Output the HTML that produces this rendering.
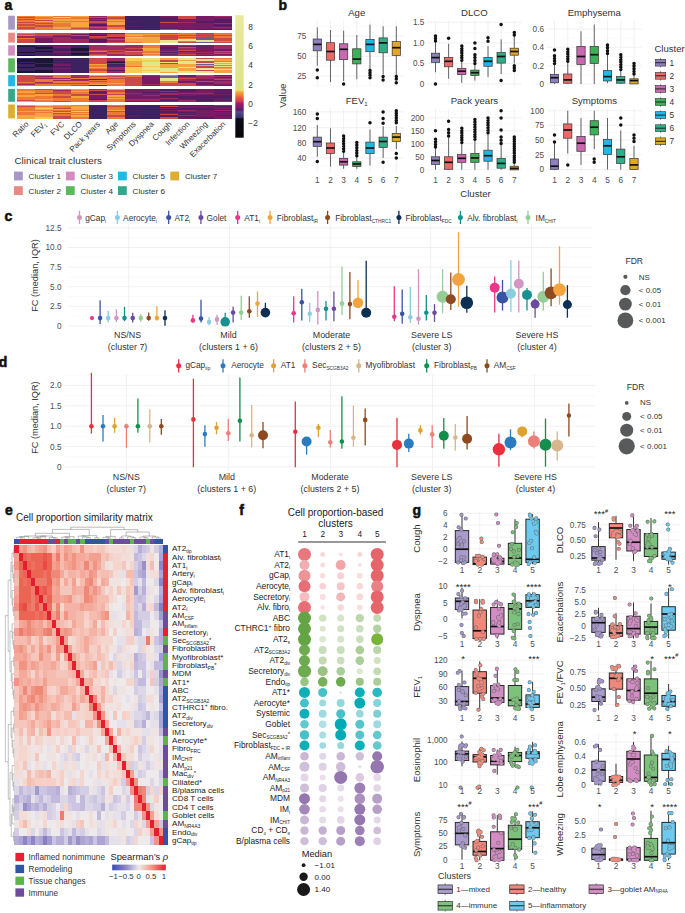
<!DOCTYPE html>
<html><head><meta charset="utf-8"><title>Figure</title>
<style>
html,body{margin:0;padding:0;background:#fff;}
body{width:685px;height:913px;overflow:hidden;}
svg{display:block;font-family:"Liberation Sans",sans-serif;}
</style></head><body>
<svg width="685" height="913" viewBox="0 0 685 913">
<rect width="685" height="913" fill="#fff"/>
<g fill="#333">
<text x="4.5" y="10.3" font-size="14" fill="#111" font-weight="bold" stroke="#111" stroke-width="0.55">a</text>
<rect x="8.2" y="15.7" width="6.7" height="14" fill="#a898c8"/>
<rect x="8.2" y="32.7" width="6.7" height="9.9" fill="#e88a84"/>
<rect x="8.2" y="45.3" width="6.7" height="10.3" fill="#d48cc0"/>
<rect x="8.2" y="58.3" width="6.7" height="14.1" fill="#5cb85c"/>
<rect x="8.2" y="75.1" width="6.7" height="11.2" fill="#20b8e6"/>
<rect x="8.2" y="88.9" width="6.7" height="12.9" fill="#33a98c"/>
<rect x="8.2" y="104.5" width="6.7" height="13.9" fill="#dcb02e"/>
<defs><filter id="hb" x="-0.01" y="-0.05" width="1.02" height="1.1"><feGaussianBlur stdDeviation="0.15 0.45"/></filter></defs><g filter="url(#hb)">
<path fill="#ec7a36" shape-rendering="crispEdges" d="M17.1 15.7h18v1.2h-18zM17.1 17.9h18v1.2h-18zM17.1 20h18v2.3h-18zM17.1 23.2h18v1.2h-18zM17.1 25.4h18v1.2h-18zM17.1 28.6h18v1.2h-18zM35 16.8h18v2.3h-18zM35 22.2h18v1.2h-18zM35 24.3h18v1.2h-18zM35 26.5h18v3.3h-18zM52.9 15.7h18v1.2h-18zM52.9 17.9h18v1.2h-18zM52.9 21.1h18v1.2h-18zM52.9 23.2h18v3.3h-18zM52.9 28.6h18v1.2h-18zM70.8 16.8h18v2.3h-18zM70.8 21.1h18v1.2h-18zM70.8 26.5h18v1.2h-18zM70.8 28.6h18v1.2h-18zM106.6 15.7h18v1.2h-18zM106.6 18.9h18v1.2h-18zM106.6 21.1h18v1.2h-18zM106.6 26.5h18v2.3h-18zM17.1 32.7h18v1.2h-18zM17.1 34.9h18v1.2h-18zM17.1 38.2h18v1.2h-18zM124.5 32.7h18v1.2h-18zM124.5 36h18v1.2h-18zM124.5 41.5h18v1.2h-18zM142.4 32.7h18v1.2h-18zM142.4 34.9h18v2.3h-18zM160.3 33.8h18v1.2h-18zM178.2 32.7h18v2.3h-18zM178.2 36h18v1.2h-18zM178.2 38.2h18v1.2h-18zM178.2 40.4h18v1.2h-18zM214 32.7h18v2.3h-18zM214 36h18v2.3h-18zM214 40.4h18v1.2h-18zM88.7 50.5h18v1.1h-18zM88.7 54.6h18v1.1h-18zM124.5 48.4h18v1.1h-18zM124.5 50.5h18v1.1h-18zM142.4 45.3h18v3.2h-18zM142.4 50.5h18v2.2h-18zM142.4 53.5h18v1.1h-18zM88.7 64.8h18v2.3h-18zM88.7 68.1h18v1.2h-18zM88.7 71.3h18v1.2h-18zM124.5 65.9h18v1.2h-18zM214 58.3h18v1.2h-18zM214 60.5h18v1.2h-18zM214 64.8h18v1.2h-18zM214 67h18v1.2h-18zM17.1 82.2h18v1.1h-18zM17.1 85.3h18v1.1h-18zM35 75.1h18v1.1h-18zM35 79.2h18v3.2h-18zM35 84.3h18v2.1h-18zM52.9 75.1h18v3.2h-18zM52.9 79.2h18v1.1h-18zM52.9 81.2h18v2.1h-18zM52.9 84.3h18v2.1h-18zM70.8 78.2h18v1.1h-18zM70.8 81.2h18v2.1h-18zM70.8 84.3h18v1.1h-18zM88.7 77.1h18v2.1h-18zM88.7 80.2h18v1.1h-18zM88.7 82.2h18v2.1h-18zM106.6 75.1h18v1.1h-18zM106.6 77.1h18v1.1h-18zM106.6 79.2h18v4.2h-18zM106.6 84.3h18v2.1h-18zM124.5 75.1h18v2.1h-18zM160.3 75.1h18v1.1h-18zM160.3 81.2h18v2.1h-18zM17.1 88.9h18v2.2h-18zM17.1 93.2h18v2.2h-18zM17.1 96.4h18v3.3h-18zM35 90h18v3.3h-18zM35 95.3h18v3.3h-18zM35 99.7h18v2.2h-18zM52.9 88.9h18v1.2h-18zM52.9 94.3h18v2.2h-18zM52.9 97.5h18v3.3h-18zM70.8 90h18v1.2h-18zM70.8 92.1h18v2.2h-18zM70.8 95.3h18v1.2h-18zM70.8 97.5h18v4.4h-18zM106.6 92.1h18v2.2h-18zM106.6 96.4h18v1.2h-18zM106.6 98.6h18v3.3h-18zM17.1 106.6h18v4.4h-18zM17.1 112h18v3.3h-18zM35 105.6h18v1.2h-18zM35 109.8h18v1.2h-18zM35 112h18v1.2h-18zM52.9 105.6h18v2.2h-18zM52.9 109.8h18v1.2h-18zM52.9 114.1h18v2.2h-18zM70.8 104.5h18v1.2h-18zM70.8 109.8h18v1.2h-18zM70.8 112h18v1.2h-18zM70.8 114.1h18v1.2h-18zM70.8 117.3h18v1.2h-18zM106.6 104.5h18v1.2h-18zM106.6 106.6h18v3.3h-18zM106.6 112h18v3.3h-18zM106.6 117.3h18v1.2h-18z"/>
<path fill="#cc4a4a" shape-rendering="crispEdges" d="M17.1 16.8h18v1.2h-18zM17.1 18.9h18v1.2h-18zM17.1 22.2h18v1.2h-18zM17.1 24.3h18v1.2h-18zM17.1 26.5h18v2.3h-18zM35 20h18v1.2h-18zM35 23.2h18v1.2h-18zM35 25.4h18v1.2h-18zM70.8 24.3h18v1.2h-18zM70.8 27.5h18v1.2h-18zM88.7 16.8h18v1.2h-18zM88.7 21.1h18v2.3h-18zM88.7 26.5h18v1.2h-18zM106.6 16.8h18v2.3h-18zM106.6 24.3h18v2.3h-18zM160.3 22.2h18v1.2h-18zM160.3 28.6h18v1.2h-18zM178.2 15.7h18v3.3h-18zM17.1 33.8h18v1.2h-18zM17.1 39.3h18v3.4h-18zM35 32.7h18v3.4h-18zM52.9 32.7h18v2.3h-18zM70.8 32.7h18v1.2h-18zM70.8 34.9h18v1.2h-18zM88.7 36h18v1.2h-18zM106.6 33.8h18v3.4h-18zM106.6 39.3h18v1.2h-18zM106.6 41.5h18v1.2h-18zM160.3 32.7h18v1.2h-18zM160.3 36h18v1.2h-18zM160.3 38.2h18v2.3h-18zM178.2 34.9h18v1.2h-18zM178.2 37.1h18v1.2h-18zM178.2 41.5h18v1.2h-18zM196.1 33.8h18v1.2h-18zM196.1 36h18v1.2h-18zM214 34.9h18v1.2h-18zM214 38.2h18v2.3h-18zM214 41.5h18v1.2h-18zM88.7 47.4h18v1.1h-18zM88.7 49.4h18v1.1h-18zM88.7 53.5h18v1.1h-18zM106.6 45.3h18v1.1h-18zM106.6 49.4h18v1.1h-18zM106.6 51.5h18v2.2h-18zM124.5 47.4h18v1.1h-18zM124.5 51.5h18v3.2h-18zM178.2 47.4h18v1.1h-18zM178.2 49.4h18v1.1h-18zM178.2 53.5h18v1.1h-18zM214 50.5h18v1.1h-18zM214 52.5h18v1.1h-18zM88.7 58.3h18v5.5h-18zM88.7 69.1h18v2.3h-18zM160.3 59.4h18v1.2h-18zM196.1 58.3h18v1.2h-18zM196.1 60.5h18v2.3h-18zM196.1 65.9h18v1.2h-18zM196.1 70.2h18v1.2h-18zM17.1 75.1h18v7.2h-18zM17.1 83.2h18v1.1h-18zM35 77.1h18v1.1h-18zM35 83.2h18v1.1h-18zM52.9 83.2h18v1.1h-18zM70.8 83.2h18v1.1h-18zM70.8 85.3h18v1.1h-18zM88.7 76.1h18v1.1h-18zM88.7 81.2h18v1.1h-18zM106.6 76.1h18v1.1h-18zM106.6 78.2h18v1.1h-18zM124.5 77.1h18v9.3h-18zM160.3 77.1h18v1.1h-18zM160.3 83.2h18v3.2h-18zM178.2 78.2h18v1.1h-18zM178.2 83.2h18v3.2h-18zM196.1 75.1h18v1.1h-18zM196.1 81.2h18v1.1h-18zM214 79.2h18v1.1h-18zM17.1 99.7h18v1.2h-18zM35 88.9h18v1.2h-18zM35 93.2h18v1.2h-18zM52.9 91.1h18v3.3h-18zM52.9 96.4h18v1.2h-18zM52.9 100.7h18v1.2h-18zM70.8 94.3h18v1.2h-18zM88.7 90h18v1.2h-18zM88.7 94.3h18v1.2h-18zM88.7 99.7h18v2.2h-18zM106.6 90h18v2.2h-18zM106.6 94.3h18v1.2h-18zM17.1 105.6h18v1.2h-18zM52.9 107.7h18v1.2h-18zM52.9 110.9h18v1.2h-18zM52.9 113.1h18v1.2h-18zM52.9 116.3h18v2.2h-18zM106.6 105.6h18v1.2h-18zM106.6 110.9h18v1.2h-18zM106.6 115.2h18v2.2h-18zM160.3 105.6h18v1.2h-18zM160.3 114.1h18v1.2h-18zM160.3 117.3h18v1.2h-18z"/>
<path fill="#f4a440" shape-rendering="crispEdges" d="M35 15.7h18v1.2h-18zM35 18.9h18v1.2h-18zM35 21.1h18v1.2h-18zM52.9 18.9h18v2.3h-18zM52.9 22.2h18v1.2h-18zM52.9 26.5h18v2.3h-18zM70.8 15.7h18v1.2h-18zM70.8 18.9h18v2.3h-18zM70.8 22.2h18v2.3h-18zM70.8 25.4h18v1.2h-18zM106.6 20h18v1.2h-18zM106.6 22.2h18v2.3h-18zM106.6 28.6h18v1.2h-18zM124.5 33.8h18v2.3h-18zM124.5 38.2h18v3.4h-18zM142.4 33.8h18v1.2h-18zM142.4 37.1h18v5.6h-18zM142.4 48.4h18v2.2h-18zM142.4 52.5h18v1.1h-18zM142.4 54.6h18v1.1h-18zM88.7 63.7h18v1.2h-18zM88.7 67h18v1.2h-18zM124.5 60.5h18v5.5h-18zM160.3 58.3h18v1.2h-18zM160.3 63.7h18v4.4h-18zM160.3 71.3h18v1.2h-18zM178.2 59.4h18v1.2h-18zM178.2 63.7h18v3.4h-18zM178.2 68.1h18v3.4h-18zM196.1 64.8h18v1.2h-18zM214 59.4h18v1.2h-18zM214 62.6h18v1.2h-18zM214 68.1h18v1.2h-18zM214 70.2h18v2.3h-18zM88.7 75.1h18v1.1h-18zM88.7 84.3h18v1.1h-18zM106.6 83.2h18v1.1h-18zM17.1 91.1h18v2.2h-18zM17.1 95.3h18v1.2h-18zM17.1 100.7h18v1.2h-18zM35 94.3h18v1.2h-18zM35 98.6h18v1.2h-18zM70.8 88.9h18v1.2h-18zM70.8 91.1h18v1.2h-18zM70.8 96.4h18v1.2h-18zM106.6 88.9h18v1.2h-18zM106.6 95.3h18v1.2h-18zM106.6 97.5h18v1.2h-18zM17.1 104.5h18v1.2h-18zM17.1 110.9h18v1.2h-18zM17.1 115.2h18v3.3h-18zM35 106.6h18v1.2h-18zM35 108.8h18v1.2h-18zM35 110.9h18v1.2h-18zM35 113.1h18v4.4h-18zM52.9 104.5h18v1.2h-18zM52.9 108.8h18v1.2h-18zM52.9 112h18v1.2h-18zM70.8 105.6h18v4.4h-18zM70.8 113.1h18v1.2h-18zM70.8 115.2h18v2.2h-18zM106.6 109.8h18v1.2h-18z"/>
<path fill="#f6cc52" shape-rendering="crispEdges" d="M52.9 16.8h18v1.2h-18zM124.5 37.1h18v1.2h-18zM124.5 58.3h18v2.3h-18zM124.5 67h18v5.5h-18zM142.4 59.4h18v2.3h-18zM142.4 65.9h18v1.2h-18zM142.4 70.2h18v1.2h-18zM35 104.5h18v1.2h-18zM35 107.7h18v1.2h-18zM35 117.3h18v1.2h-18zM70.8 110.9h18v1.2h-18z"/>
<path fill="#a02a5e" shape-rendering="crispEdges" d="M88.7 15.7h18v1.2h-18zM88.7 18.9h18v1.2h-18zM88.7 23.2h18v1.2h-18zM88.7 25.4h18v1.2h-18zM88.7 27.5h18v2.3h-18zM178.2 22.2h18v1.2h-18zM214 15.7h18v1.2h-18zM214 23.2h18v1.2h-18zM214 26.5h18v1.2h-18zM17.1 36h18v2.3h-18zM35 36h18v2.3h-18zM52.9 34.9h18v1.2h-18zM52.9 37.1h18v5.6h-18zM70.8 39.3h18v3.4h-18zM88.7 38.2h18v1.2h-18zM106.6 38.2h18v1.2h-18zM106.6 40.4h18v1.2h-18zM88.7 45.3h18v2.2h-18zM88.7 48.4h18v1.1h-18zM88.7 51.5h18v2.2h-18zM106.6 46.3h18v3.2h-18zM106.6 50.5h18v1.1h-18zM106.6 53.5h18v2.2h-18zM124.5 45.3h18v2.2h-18zM124.5 49.4h18v1.1h-18zM124.5 54.6h18v1.1h-18zM160.3 50.5h18v1.1h-18zM160.3 52.5h18v1.1h-18zM160.3 54.6h18v1.1h-18zM178.2 45.3h18v1.1h-18zM178.2 48.4h18v1.1h-18zM178.2 51.5h18v2.2h-18zM178.2 54.6h18v1.1h-18zM196.1 51.5h18v1.1h-18zM196.1 53.5h18v1.1h-18zM214 45.3h18v4.2h-18zM214 51.5h18v1.1h-18zM214 54.6h18v1.1h-18zM106.6 58.3h18v2.3h-18zM106.6 62.6h18v1.2h-18zM106.6 67h18v3.4h-18zM106.6 71.3h18v1.2h-18zM17.1 84.3h18v1.1h-18zM35 76.1h18v1.1h-18zM35 78.2h18v1.1h-18zM35 82.2h18v1.1h-18zM52.9 78.2h18v1.1h-18zM52.9 80.2h18v1.1h-18zM70.8 75.1h18v3.2h-18zM70.8 79.2h18v2.1h-18zM142.4 75.1h18v1.1h-18zM142.4 84.3h18v1.1h-18zM178.2 77.1h18v1.1h-18zM178.2 79.2h18v2.1h-18zM196.1 76.1h18v3.2h-18zM196.1 85.3h18v1.1h-18zM214 76.1h18v1.1h-18zM214 78.2h18v1.1h-18zM214 81.2h18v3.2h-18zM52.9 90h18v1.2h-18zM88.7 88.9h18v1.2h-18zM124.5 93.2h18v1.2h-18zM124.5 95.3h18v1.2h-18zM124.5 98.6h18v2.2h-18zM142.4 95.3h18v1.2h-18zM142.4 98.6h18v2.2h-18zM160.3 91.1h18v1.2h-18zM160.3 93.2h18v2.2h-18zM160.3 97.5h18v1.2h-18zM160.3 100.7h18v1.2h-18zM178.2 93.2h18v1.2h-18zM178.2 95.3h18v1.2h-18zM178.2 99.7h18v2.2h-18zM196.1 93.2h18v1.2h-18zM214 100.7h18v1.2h-18zM178.2 109.8h18v1.2h-18zM178.2 115.2h18v1.2h-18zM214 104.5h18v1.2h-18zM214 109.8h18v1.2h-18z"/>
<path fill="#761c62" shape-rendering="crispEdges" d="M88.7 17.9h18v1.2h-18zM88.7 20h18v1.2h-18zM160.3 15.7h18v1.2h-18zM160.3 21.1h18v1.2h-18zM160.3 23.2h18v4.4h-18zM178.2 18.9h18v3.3h-18zM178.2 23.2h18v6.6h-18zM196.1 15.7h18v5.5h-18zM196.1 23.2h18v5.5h-18zM214 16.8h18v2.3h-18zM214 27.5h18v1.2h-18zM35 38.2h18v4.5h-18zM52.9 36h18v1.2h-18zM70.8 33.8h18v1.2h-18zM70.8 36h18v3.4h-18zM88.7 32.7h18v2.3h-18zM88.7 41.5h18v1.2h-18zM106.6 32.7h18v1.2h-18zM106.6 37.1h18v1.2h-18zM52.9 46.3h18v2.2h-18zM52.9 50.5h18v2.2h-18zM160.3 45.3h18v2.2h-18zM160.3 48.4h18v2.2h-18zM160.3 53.5h18v1.1h-18zM178.2 46.3h18v1.1h-18zM178.2 50.5h18v1.1h-18zM196.1 45.3h18v6.3h-18zM196.1 52.5h18v1.1h-18zM196.1 54.6h18v1.1h-18zM214 49.4h18v1.1h-18zM214 53.5h18v1.1h-18zM52.9 63.7h18v2.3h-18zM52.9 68.1h18v1.2h-18zM142.4 76.1h18v8.2h-18zM142.4 85.3h18v1.1h-18zM178.2 75.1h18v2.1h-18zM178.2 81.2h18v2.1h-18zM196.1 79.2h18v2.1h-18zM196.1 82.2h18v3.2h-18zM214 75.1h18v1.1h-18zM214 77.1h18v1.1h-18zM214 80.2h18v1.1h-18zM214 84.3h18v2.1h-18zM88.7 91.1h18v1.2h-18zM88.7 93.2h18v1.2h-18zM88.7 95.3h18v3.3h-18zM124.5 88.9h18v4.4h-18zM124.5 94.3h18v1.2h-18zM124.5 96.4h18v2.2h-18zM124.5 100.7h18v1.2h-18zM142.4 88.9h18v3.3h-18zM142.4 93.2h18v2.2h-18zM142.4 96.4h18v2.2h-18zM142.4 100.7h18v1.2h-18zM160.3 98.6h18v1.2h-18zM178.2 92.1h18v1.2h-18zM178.2 94.3h18v1.2h-18zM178.2 98.6h18v1.2h-18zM196.1 88.9h18v4.4h-18zM196.1 94.3h18v1.2h-18zM196.1 100.7h18v1.2h-18zM214 91.1h18v1.2h-18zM214 94.3h18v1.2h-18zM214 98.6h18v1.2h-18zM160.3 104.5h18v1.2h-18zM160.3 107.7h18v1.2h-18zM160.3 109.8h18v1.2h-18zM160.3 113.1h18v1.2h-18zM178.2 105.6h18v2.2h-18zM178.2 110.9h18v1.2h-18zM178.2 113.1h18v1.2h-18zM178.2 117.3h18v1.2h-18zM196.1 105.6h18v2.2h-18zM196.1 109.8h18v7.6h-18zM214 106.6h18v2.2h-18zM214 112h18v3.3h-18zM214 116.3h18v2.2h-18z"/>
<path fill="#561c64" shape-rendering="crispEdges" d="M88.7 24.3h18v1.2h-18zM124.5 21.1h18v1.2h-18zM124.5 25.4h18v1.2h-18zM124.5 28.6h18v1.2h-18zM160.3 16.8h18v4.4h-18zM160.3 27.5h18v1.2h-18zM196.1 21.1h18v2.3h-18zM196.1 28.6h18v1.2h-18zM214 18.9h18v4.4h-18zM214 24.3h18v2.3h-18zM214 28.6h18v1.2h-18zM88.7 34.9h18v1.2h-18zM88.7 39.3h18v2.3h-18zM35 45.3h18v1.1h-18zM35 54.6h18v1.1h-18zM52.9 48.4h18v1.1h-18zM52.9 52.5h18v2.2h-18zM70.8 50.5h18v1.1h-18zM160.3 47.4h18v1.1h-18zM160.3 51.5h18v1.1h-18zM52.9 58.3h18v1.2h-18zM52.9 60.5h18v1.2h-18zM52.9 62.6h18v1.2h-18zM52.9 67h18v1.2h-18zM52.9 69.1h18v3.4h-18zM106.6 60.5h18v1.2h-18zM106.6 64.8h18v2.3h-18zM106.6 70.2h18v1.2h-18zM88.7 79.2h18v1.1h-18zM88.7 85.3h18v1.1h-18zM88.7 92.1h18v1.2h-18zM88.7 98.6h18v1.2h-18zM142.4 92.1h18v1.2h-18zM160.3 88.9h18v2.2h-18zM160.3 92.1h18v1.2h-18zM160.3 95.3h18v2.2h-18zM160.3 99.7h18v1.2h-18zM178.2 88.9h18v3.3h-18zM178.2 96.4h18v2.2h-18zM196.1 95.3h18v5.5h-18zM214 88.9h18v2.2h-18zM214 92.1h18v2.2h-18zM214 95.3h18v3.3h-18zM214 99.7h18v1.2h-18zM88.7 104.5h18v1.2h-18zM124.5 105.6h18v1.2h-18zM124.5 109.8h18v1.2h-18zM124.5 115.2h18v2.2h-18zM160.3 106.6h18v1.2h-18zM160.3 108.8h18v1.2h-18zM160.3 110.9h18v2.2h-18zM160.3 115.2h18v2.2h-18zM178.2 104.5h18v1.2h-18zM178.2 107.7h18v2.2h-18zM178.2 112h18v1.2h-18zM178.2 114.1h18v1.2h-18zM178.2 116.3h18v1.2h-18zM196.1 104.5h18v1.2h-18zM196.1 107.7h18v2.2h-18zM196.1 117.3h18v1.2h-18zM214 105.6h18v1.2h-18zM214 108.8h18v1.2h-18zM214 110.9h18v1.2h-18zM214 115.2h18v1.2h-18z"/>
<path fill="#3c2462" shape-rendering="crispEdges" d="M124.5 15.7h18v5.5h-18zM124.5 22.2h18v3.3h-18zM124.5 26.5h18v2.3h-18zM142.4 15.7h18v14.1h-18zM17.1 45.3h18v1.1h-18zM17.1 47.4h18v4.2h-18zM17.1 52.5h18v2.2h-18zM35 46.3h18v1.1h-18zM35 48.4h18v2.2h-18zM35 51.5h18v3.2h-18zM52.9 45.3h18v1.1h-18zM52.9 49.4h18v1.1h-18zM52.9 54.6h18v1.1h-18zM70.8 45.3h18v3.2h-18zM70.8 51.5h18v1.1h-18zM70.8 54.6h18v1.1h-18zM17.1 58.3h18v1.2h-18zM17.1 61.6h18v1.2h-18zM17.1 63.7h18v3.4h-18zM17.1 68.1h18v3.4h-18zM35 62.6h18v1.2h-18zM35 67h18v3.4h-18zM52.9 59.4h18v1.2h-18zM52.9 61.6h18v1.2h-18zM52.9 65.9h18v1.2h-18zM70.8 58.3h18v14.2h-18zM106.6 63.7h18v1.2h-18zM88.7 105.6h18v12.9h-18zM124.5 104.5h18v1.2h-18zM124.5 106.6h18v3.3h-18zM124.5 110.9h18v4.4h-18zM124.5 117.3h18v1.2h-18zM142.4 104.5h18v14h-18z"/>
<path fill="#6e5c92" shape-rendering="crispEdges" d="M88.7 37.1h18v1.2h-18zM160.3 34.9h18v1.2h-18zM160.3 37.1h18v1.2h-18zM196.1 32.7h18v1.2h-18zM196.1 34.9h18v1.2h-18zM196.1 37.1h18v3.4h-18zM196.1 41.5h18v1.2h-18zM160.3 60.5h18v1.2h-18zM160.3 62.6h18v1.2h-18zM196.1 63.7h18v1.2h-18zM196.1 67h18v1.2h-18zM160.3 76.1h18v1.1h-18z"/>
<path fill="#e4e48e" shape-rendering="crispEdges" d="M160.3 40.4h18v2.3h-18zM178.2 39.3h18v1.2h-18zM196.1 40.4h18v1.2h-18zM142.4 58.3h18v1.2h-18zM142.4 61.6h18v4.4h-18zM142.4 67h18v3.4h-18zM142.4 71.3h18v1.2h-18zM160.3 61.6h18v1.2h-18zM160.3 68.1h18v3.4h-18zM178.2 58.3h18v1.2h-18zM178.2 60.5h18v3.4h-18zM178.2 67h18v1.2h-18zM178.2 71.3h18v1.2h-18zM196.1 59.4h18v1.2h-18zM196.1 62.6h18v1.2h-18zM196.1 68.1h18v2.3h-18zM196.1 71.3h18v1.2h-18zM214 61.6h18v1.2h-18zM214 63.7h18v1.2h-18zM214 65.9h18v1.2h-18zM214 69.1h18v1.2h-18zM160.3 78.2h18v3.2h-18z"/>
<path fill="#1c1636" shape-rendering="crispEdges" d="M17.1 46.3h18v1.1h-18zM17.1 51.5h18v1.1h-18zM17.1 54.6h18v1.1h-18zM35 47.4h18v1.1h-18zM35 50.5h18v1.1h-18zM70.8 48.4h18v2.2h-18zM70.8 52.5h18v2.2h-18zM17.1 59.4h18v2.3h-18zM17.1 62.6h18v1.2h-18zM17.1 67h18v1.2h-18zM17.1 71.3h18v1.2h-18zM35 58.3h18v4.4h-18zM35 63.7h18v3.4h-18zM35 70.2h18v2.3h-18zM106.6 61.6h18v1.2h-18z"/>
</g>
<text x="29.05" y="124.6" font-size="8" text-anchor="end" transform="rotate(-45 29.05 124.6)">Ratio</text>
<text x="46.95" y="124.6" font-size="8" text-anchor="end" transform="rotate(-45 46.95 124.6)">FEV<tspan font-size="5" dy="1.5">1</tspan></text>
<text x="64.85" y="124.6" font-size="8" text-anchor="end" transform="rotate(-45 64.85 124.6)">FVC</text>
<text x="82.75" y="124.6" font-size="8" text-anchor="end" transform="rotate(-45 82.75 124.6)">DLCO</text>
<text x="100.65" y="124.6" font-size="8" text-anchor="end" transform="rotate(-45 100.65 124.6)">Pack years</text>
<text x="118.55" y="124.6" font-size="8" text-anchor="end" transform="rotate(-45 118.55 124.6)">Age</text>
<text x="136.45" y="124.6" font-size="8" text-anchor="end" transform="rotate(-45 136.45 124.6)">Symptoms</text>
<text x="154.35" y="124.6" font-size="8" text-anchor="end" transform="rotate(-45 154.35 124.6)">Dyspnea</text>
<text x="172.25" y="124.6" font-size="8" text-anchor="end" transform="rotate(-45 172.25 124.6)">Cough</text>
<text x="190.15" y="124.6" font-size="8" text-anchor="end" transform="rotate(-45 190.15 124.6)">Infection</text>
<text x="208.05" y="124.6" font-size="8" text-anchor="end" transform="rotate(-45 208.05 124.6)">Wheezing</text>
<text x="225.95" y="124.6" font-size="8" text-anchor="end" transform="rotate(-45 225.95 124.6)">Exacerbation</text>
<defs><linearGradient id="cba" x1="0" y1="0" x2="0" y2="1"><stop offset="0" stop-color="#e9ea9c"/><stop offset="0.605" stop-color="#dde289"/><stop offset="0.616" stop-color="#f5d050"/><stop offset="0.631" stop-color="#f5a040"/><stop offset="0.658" stop-color="#f07838"/><stop offset="0.668" stop-color="#e86040"/><stop offset="0.706" stop-color="#c83858"/><stop offset="0.717" stop-color="#a02068"/><stop offset="0.754" stop-color="#801a6a"/><stop offset="0.774" stop-color="#5a1a6a"/><stop offset="0.79" stop-color="#5a4a88"/><stop offset="0.835" stop-color="#3a3070"/><stop offset="0.845" stop-color="#0c0c1a"/><stop offset="1" stop-color="#060608"/></linearGradient></defs>
<rect x="235.3" y="15.2" width="8.4" height="122.5" fill="url(#cba)"/>
<text x="248.3" y="30" font-size="8.3">8</text>
<text x="248.3" y="49.2" font-size="8.3">6</text>
<text x="248.3" y="68.4" font-size="8.3">4</text>
<text x="248.3" y="87.5" font-size="8.3">2</text>
<text x="248.3" y="106.7" font-size="8.3">0</text>
<text x="248.3" y="125.9" font-size="8.3">−2</text>
<text x="14.5" y="164" font-size="9.85">Clinical trait clusters</text>
<rect x="14" y="171.6" width="8.8" height="8.8" fill="#a898c8"/>
<text x="28.6" y="179.2" font-size="8.1">Cluster 1</text>
<rect x="65.9" y="171.6" width="8.8" height="8.8" fill="#d48cc0"/>
<text x="80.5" y="179.2" font-size="8.1">Cluster 3</text>
<rect x="118" y="171.6" width="8.8" height="8.8" fill="#20b8e6"/>
<text x="132.6" y="179.2" font-size="8.1">Cluster 5</text>
<rect x="170.3" y="171.6" width="8.8" height="8.8" fill="#dcb02e"/>
<text x="184.9" y="179.2" font-size="8.1">Cluster 7</text>
<rect x="14" y="186.2" width="8.8" height="8.8" fill="#e88a84"/>
<text x="28.6" y="193.8" font-size="8.1">Cluster 2</text>
<rect x="65.9" y="186.2" width="8.8" height="8.8" fill="#5cb85c"/>
<text x="80.5" y="193.8" font-size="8.1">Cluster 4</text>
<rect x="118" y="186.2" width="8.8" height="8.8" fill="#33a98c"/>
<text x="132.6" y="193.8" font-size="8.1">Cluster 6</text>
<text x="278.6" y="9.7" font-size="14" fill="#111" font-weight="bold" stroke="#111" stroke-width="0.55">b</text>
<line x1="309.4" y1="26.2" x2="404" y2="26.2" stroke="#f5f5f5" stroke-width="0.5"/>
<line x1="309.4" y1="46.2" x2="404" y2="46.2" stroke="#f5f5f5" stroke-width="0.5"/>
<line x1="309.4" y1="66.1" x2="404" y2="66.1" stroke="#f5f5f5" stroke-width="0.5"/>
<line x1="309.4" y1="85.9" x2="404" y2="85.9" stroke="#f5f5f5" stroke-width="0.5"/>
<line x1="309.4" y1="36.1" x2="404" y2="36.1" stroke="#ebebeb" stroke-width="0.7"/>
<line x1="309.4" y1="56.3" x2="404" y2="56.3" stroke="#ebebeb" stroke-width="0.7"/>
<line x1="309.4" y1="76" x2="404" y2="76" stroke="#ebebeb" stroke-width="0.7"/>
<line x1="317.3" y1="20.5" x2="317.3" y2="86.5" stroke="#ebebeb" stroke-width="0.7"/>
<line x1="330.47" y1="20.5" x2="330.47" y2="86.5" stroke="#ebebeb" stroke-width="0.7"/>
<line x1="343.64" y1="20.5" x2="343.64" y2="86.5" stroke="#ebebeb" stroke-width="0.7"/>
<line x1="356.81" y1="20.5" x2="356.81" y2="86.5" stroke="#ebebeb" stroke-width="0.7"/>
<line x1="369.98" y1="20.5" x2="369.98" y2="86.5" stroke="#ebebeb" stroke-width="0.7"/>
<line x1="383.15" y1="20.5" x2="383.15" y2="86.5" stroke="#ebebeb" stroke-width="0.7"/>
<line x1="396.32" y1="20.5" x2="396.32" y2="86.5" stroke="#ebebeb" stroke-width="0.7"/>
<text x="306.4" y="39" font-size="8.2" text-anchor="end" fill="#4d4d4d">75</text>
<text x="306.4" y="59.2" font-size="8.2" text-anchor="end" fill="#4d4d4d">50</text>
<text x="306.4" y="78.9" font-size="8.2" text-anchor="end" fill="#4d4d4d">25</text>
<line x1="317.3" y1="27.4" x2="317.3" y2="39" stroke="#333" stroke-width="0.75"/>
<line x1="317.3" y1="50.8" x2="317.3" y2="65.7" stroke="#333" stroke-width="0.75"/>
<rect x="313.15" y="39" width="8.3" height="11.8" fill="#8e7fbd" stroke="#333" stroke-width="0.7"/>
<line x1="313.15" y1="44.4" x2="321.45" y2="44.4" stroke="#111" stroke-width="1.7"/>
<path fill="none" stroke="#111" stroke-width="3.50" stroke-linecap="round" d="M317.3 70h0M317.3 77.7h0"/>
<line x1="330.47" y1="30" x2="330.47" y2="42.7" stroke="#333" stroke-width="0.75"/>
<line x1="330.47" y1="60.2" x2="330.47" y2="82.1" stroke="#333" stroke-width="0.75"/>
<rect x="326.32" y="42.7" width="8.3" height="17.5" fill="#ea6a6a" stroke="#333" stroke-width="0.7"/>
<line x1="326.32" y1="51.5" x2="334.62" y2="51.5" stroke="#111" stroke-width="1.7"/>
<line x1="343.64" y1="30.7" x2="343.64" y2="43.8" stroke="#333" stroke-width="0.75"/>
<line x1="343.64" y1="59.6" x2="343.64" y2="81" stroke="#333" stroke-width="0.75"/>
<rect x="339.49" y="43.8" width="8.3" height="15.8" fill="#c968b0" stroke="#333" stroke-width="0.7"/>
<line x1="339.49" y1="49.3" x2="347.79" y2="49.3" stroke="#111" stroke-width="1.7"/>
<path fill="none" stroke="#111" stroke-width="3.50" stroke-linecap="round" d="M343.6 83.9h0"/>
<line x1="356.81" y1="35" x2="356.81" y2="48.8" stroke="#333" stroke-width="0.75"/>
<line x1="356.81" y1="63.9" x2="356.81" y2="79.3" stroke="#333" stroke-width="0.75"/>
<rect x="352.66" y="48.8" width="8.3" height="15.1" fill="#3faf5a" stroke="#333" stroke-width="0.7"/>
<line x1="352.66" y1="59.1" x2="360.96" y2="59.1" stroke="#111" stroke-width="1.7"/>
<line x1="369.98" y1="24.7" x2="369.98" y2="39.4" stroke="#333" stroke-width="0.75"/>
<line x1="369.98" y1="51.7" x2="369.98" y2="69" stroke="#333" stroke-width="0.75"/>
<rect x="365.83" y="39.4" width="8.3" height="12.3" fill="#22b8e6" stroke="#333" stroke-width="0.7"/>
<line x1="365.83" y1="44.4" x2="374.13" y2="44.4" stroke="#111" stroke-width="1.7"/>
<path fill="none" stroke="#111" stroke-width="3.50" stroke-linecap="round" d="M370 70.5h0M370 72.9h0M370 75.3h0M370 77.7h0"/>
<line x1="383.15" y1="26.3" x2="383.15" y2="37.9" stroke="#333" stroke-width="0.75"/>
<line x1="383.15" y1="52.8" x2="383.15" y2="74.4" stroke="#333" stroke-width="0.75"/>
<rect x="379" y="37.9" width="8.3" height="14.9" fill="#2fae87" stroke="#333" stroke-width="0.7"/>
<line x1="379" y1="42.9" x2="387.3" y2="42.9" stroke="#111" stroke-width="1.7"/>
<path fill="none" stroke="#111" stroke-width="3.50" stroke-linecap="round" d="M383.1 76.6h0M383.1 80h0"/>
<line x1="396.32" y1="26.3" x2="396.32" y2="41.6" stroke="#333" stroke-width="0.75"/>
<line x1="396.32" y1="55.4" x2="396.32" y2="75.5" stroke="#333" stroke-width="0.75"/>
<rect x="392.17" y="41.6" width="8.3" height="13.8" fill="#e3a628" stroke="#333" stroke-width="0.7"/>
<line x1="392.17" y1="47.7" x2="400.47" y2="47.7" stroke="#111" stroke-width="1.7"/>
<path fill="none" stroke="#111" stroke-width="3.50" stroke-linecap="round" d="M396.3 76.6h0M396.3 79h0M396.3 82.8h0"/>
<text x="356.7" y="16.4" font-size="9.6" text-anchor="middle">Age</text>
<line x1="427.4" y1="32.6" x2="521.5" y2="32.6" stroke="#f5f5f5" stroke-width="0.5"/>
<line x1="427.4" y1="53.2" x2="521.5" y2="53.2" stroke="#f5f5f5" stroke-width="0.5"/>
<line x1="427.4" y1="73.7" x2="521.5" y2="73.7" stroke="#f5f5f5" stroke-width="0.5"/>
<line x1="427.4" y1="22.3" x2="521.5" y2="22.3" stroke="#ebebeb" stroke-width="0.7"/>
<line x1="427.4" y1="42.9" x2="521.5" y2="42.9" stroke="#ebebeb" stroke-width="0.7"/>
<line x1="427.4" y1="63.5" x2="521.5" y2="63.5" stroke="#ebebeb" stroke-width="0.7"/>
<line x1="427.4" y1="83.9" x2="521.5" y2="83.9" stroke="#ebebeb" stroke-width="0.7"/>
<line x1="435.5" y1="20.5" x2="435.5" y2="86.5" stroke="#ebebeb" stroke-width="0.7"/>
<line x1="448.63" y1="20.5" x2="448.63" y2="86.5" stroke="#ebebeb" stroke-width="0.7"/>
<line x1="461.76" y1="20.5" x2="461.76" y2="86.5" stroke="#ebebeb" stroke-width="0.7"/>
<line x1="474.89" y1="20.5" x2="474.89" y2="86.5" stroke="#ebebeb" stroke-width="0.7"/>
<line x1="488.02" y1="20.5" x2="488.02" y2="86.5" stroke="#ebebeb" stroke-width="0.7"/>
<line x1="501.15" y1="20.5" x2="501.15" y2="86.5" stroke="#ebebeb" stroke-width="0.7"/>
<line x1="514.28" y1="20.5" x2="514.28" y2="86.5" stroke="#ebebeb" stroke-width="0.7"/>
<text x="424.4" y="25.2" font-size="8.2" text-anchor="end" fill="#4d4d4d">1.5</text>
<text x="424.4" y="45.8" font-size="8.2" text-anchor="end" fill="#4d4d4d">1.0</text>
<text x="424.4" y="66.4" font-size="8.2" text-anchor="end" fill="#4d4d4d">0.5</text>
<text x="424.4" y="86.8" font-size="8.2" text-anchor="end" fill="#4d4d4d">0</text>
<line x1="435.5" y1="41.6" x2="435.5" y2="53.2" stroke="#333" stroke-width="0.75"/>
<line x1="435.5" y1="62.4" x2="435.5" y2="72.3" stroke="#333" stroke-width="0.75"/>
<rect x="431.35" y="53.2" width="8.3" height="9.2" fill="#8e7fbd" stroke="#333" stroke-width="0.7"/>
<line x1="431.35" y1="57.6" x2="439.65" y2="57.6" stroke="#111" stroke-width="1.7"/>
<path fill="none" stroke="#111" stroke-width="3.50" stroke-linecap="round" d="M435.5 36.1h0M435.5 38.5h0M435.5 41h0M435.5 83.9h0"/>
<line x1="448.63" y1="43.8" x2="448.63" y2="57.4" stroke="#333" stroke-width="0.75"/>
<line x1="448.63" y1="66.8" x2="448.63" y2="78.8" stroke="#333" stroke-width="0.75"/>
<rect x="444.48" y="57.4" width="8.3" height="9.4" fill="#ea6a6a" stroke="#333" stroke-width="0.7"/>
<line x1="444.48" y1="61.3" x2="452.78" y2="61.3" stroke="#111" stroke-width="1.7"/>
<path fill="none" stroke="#111" stroke-width="3.50" stroke-linecap="round" d="M448.6 38.3h0"/>
<line x1="461.76" y1="61.3" x2="461.76" y2="68.3" stroke="#333" stroke-width="0.75"/>
<line x1="461.76" y1="74.4" x2="461.76" y2="82.8" stroke="#333" stroke-width="0.75"/>
<rect x="457.61" y="68.3" width="8.3" height="6.1" fill="#c968b0" stroke="#333" stroke-width="0.7"/>
<line x1="457.61" y1="71.2" x2="465.91" y2="71.2" stroke="#111" stroke-width="1.7"/>
<path fill="none" stroke="#111" stroke-width="3.50" stroke-linecap="round" d="M461.8 46h0M461.8 48.4h0M461.8 50.7h0M461.8 53.1h0M461.8 55.5h0M461.8 57.8h0M461.8 60.2h0"/>
<line x1="474.89" y1="64.6" x2="474.89" y2="70.1" stroke="#333" stroke-width="0.75"/>
<line x1="474.89" y1="75.5" x2="474.89" y2="80.6" stroke="#333" stroke-width="0.75"/>
<rect x="470.74" y="70.1" width="8.3" height="5.4" fill="#3faf5a" stroke="#333" stroke-width="0.7"/>
<line x1="470.74" y1="72.7" x2="479.04" y2="72.7" stroke="#111" stroke-width="1.7"/>
<path fill="none" stroke="#111" stroke-width="3.50" stroke-linecap="round" d="M474.9 42.9h0M474.9 48.6h0M474.9 54.7h0M474.9 57.6h0M474.9 60.6h0M474.9 63.5h0"/>
<line x1="488.02" y1="46" x2="488.02" y2="57.4" stroke="#333" stroke-width="0.75"/>
<line x1="488.02" y1="66.3" x2="488.02" y2="77.1" stroke="#333" stroke-width="0.75"/>
<rect x="483.87" y="57.4" width="8.3" height="8.9" fill="#22b8e6" stroke="#333" stroke-width="0.7"/>
<line x1="483.87" y1="61.3" x2="492.17" y2="61.3" stroke="#111" stroke-width="1.7"/>
<path fill="none" stroke="#111" stroke-width="3.50" stroke-linecap="round" d="M488 37.7h0M488 41.2h0"/>
<line x1="501.15" y1="39.4" x2="501.15" y2="52.6" stroke="#333" stroke-width="0.75"/>
<line x1="501.15" y1="63.1" x2="501.15" y2="74" stroke="#333" stroke-width="0.75"/>
<rect x="497" y="52.6" width="8.3" height="10.5" fill="#2fae87" stroke="#333" stroke-width="0.7"/>
<line x1="497" y1="56.5" x2="505.3" y2="56.5" stroke="#111" stroke-width="1.7"/>
<path fill="none" stroke="#111" stroke-width="3.50" stroke-linecap="round" d="M501.1 24.5h0M501.1 80.6h0"/>
<line x1="514.28" y1="36.1" x2="514.28" y2="48.2" stroke="#333" stroke-width="0.75"/>
<line x1="514.28" y1="55.2" x2="514.28" y2="63.5" stroke="#333" stroke-width="0.75"/>
<rect x="510.13" y="48.2" width="8.3" height="7" fill="#e3a628" stroke="#333" stroke-width="0.7"/>
<line x1="510.13" y1="51.5" x2="518.43" y2="51.5" stroke="#111" stroke-width="1.7"/>
<path fill="none" stroke="#111" stroke-width="3.50" stroke-linecap="round" d="M514.3 32.4h0M514.3 35h0M514.3 65.7h0M514.3 68.1h0M514.3 70.5h0"/>
<text x="474.45" y="16.4" font-size="9.6" text-anchor="middle">DLCO</text>
<line x1="547" y1="38.2" x2="641.6" y2="38.2" stroke="#f5f5f5" stroke-width="0.5"/>
<line x1="547" y1="56.5" x2="641.6" y2="56.5" stroke="#f5f5f5" stroke-width="0.5"/>
<line x1="547" y1="74.8" x2="641.6" y2="74.8" stroke="#f5f5f5" stroke-width="0.5"/>
<line x1="547" y1="29.1" x2="641.6" y2="29.1" stroke="#ebebeb" stroke-width="0.7"/>
<line x1="547" y1="47.3" x2="641.6" y2="47.3" stroke="#ebebeb" stroke-width="0.7"/>
<line x1="547" y1="65.7" x2="641.6" y2="65.7" stroke="#ebebeb" stroke-width="0.7"/>
<line x1="547" y1="83.9" x2="641.6" y2="83.9" stroke="#ebebeb" stroke-width="0.7"/>
<line x1="554.5" y1="20.5" x2="554.5" y2="86.5" stroke="#ebebeb" stroke-width="0.7"/>
<line x1="567.75" y1="20.5" x2="567.75" y2="86.5" stroke="#ebebeb" stroke-width="0.7"/>
<line x1="581" y1="20.5" x2="581" y2="86.5" stroke="#ebebeb" stroke-width="0.7"/>
<line x1="594.25" y1="20.5" x2="594.25" y2="86.5" stroke="#ebebeb" stroke-width="0.7"/>
<line x1="607.5" y1="20.5" x2="607.5" y2="86.5" stroke="#ebebeb" stroke-width="0.7"/>
<line x1="620.75" y1="20.5" x2="620.75" y2="86.5" stroke="#ebebeb" stroke-width="0.7"/>
<line x1="634" y1="20.5" x2="634" y2="86.5" stroke="#ebebeb" stroke-width="0.7"/>
<text x="544" y="32" font-size="8.2" text-anchor="end" fill="#4d4d4d">0.6</text>
<text x="544" y="50.2" font-size="8.2" text-anchor="end" fill="#4d4d4d">0.4</text>
<text x="544" y="68.6" font-size="8.2" text-anchor="end" fill="#4d4d4d">0.2</text>
<text x="544" y="86.8" font-size="8.2" text-anchor="end" fill="#4d4d4d">0</text>
<line x1="554.5" y1="64.6" x2="554.5" y2="74.4" stroke="#333" stroke-width="0.75"/>
<line x1="554.5" y1="82.8" x2="554.5" y2="83.9" stroke="#333" stroke-width="0.75"/>
<rect x="550.35" y="74.4" width="8.3" height="8.4" fill="#8e7fbd" stroke="#333" stroke-width="0.7"/>
<line x1="550.35" y1="77.7" x2="558.65" y2="77.7" stroke="#111" stroke-width="1.7"/>
<path fill="none" stroke="#111" stroke-width="3.50" stroke-linecap="round" d="M554.5 49.9h0M554.5 55.8h0M554.5 58.4h0M554.5 60.9h0M554.5 63.5h0"/>
<line x1="567.75" y1="62.4" x2="567.75" y2="74" stroke="#333" stroke-width="0.75"/>
<line x1="567.75" y1="83.2" x2="567.75" y2="83.9" stroke="#333" stroke-width="0.75"/>
<rect x="563.6" y="74" width="8.3" height="9.2" fill="#ea6a6a" stroke="#333" stroke-width="0.7"/>
<line x1="563.6" y1="79.9" x2="571.9" y2="79.9" stroke="#111" stroke-width="1.7"/>
<path fill="none" stroke="#111" stroke-width="3.50" stroke-linecap="round" d="M567.8 49.3h0M567.8 51.7h0M567.8 54.1h0M567.8 56.5h0M567.8 58.9h0M567.8 61.3h0"/>
<line x1="581" y1="31.3" x2="581" y2="46.4" stroke="#333" stroke-width="0.75"/>
<line x1="581" y1="64.6" x2="581" y2="83.9" stroke="#333" stroke-width="0.75"/>
<rect x="576.85" y="46.4" width="8.3" height="18.2" fill="#c968b0" stroke="#333" stroke-width="0.7"/>
<line x1="576.85" y1="56.5" x2="585.15" y2="56.5" stroke="#111" stroke-width="1.7"/>
<line x1="594.25" y1="24.5" x2="594.25" y2="46.4" stroke="#333" stroke-width="0.75"/>
<line x1="594.25" y1="63.5" x2="594.25" y2="83.9" stroke="#333" stroke-width="0.75"/>
<rect x="590.1" y="46.4" width="8.3" height="17.1" fill="#3faf5a" stroke="#333" stroke-width="0.7"/>
<line x1="590.1" y1="54.7" x2="598.4" y2="54.7" stroke="#111" stroke-width="1.7"/>
<line x1="607.5" y1="54.7" x2="607.5" y2="70.5" stroke="#333" stroke-width="0.75"/>
<line x1="607.5" y1="81" x2="607.5" y2="83.2" stroke="#333" stroke-width="0.75"/>
<rect x="603.35" y="70.5" width="8.3" height="10.5" fill="#22b8e6" stroke="#333" stroke-width="0.7"/>
<line x1="603.35" y1="76.6" x2="611.65" y2="76.6" stroke="#111" stroke-width="1.7"/>
<path fill="none" stroke="#111" stroke-width="3.50" stroke-linecap="round" d="M607.5 44.9h0M607.5 47.8h0M607.5 50.7h0M607.5 53.6h0"/>
<line x1="620.75" y1="70" x2="620.75" y2="76.6" stroke="#333" stroke-width="0.75"/>
<line x1="620.75" y1="83.2" x2="620.75" y2="83.9" stroke="#333" stroke-width="0.75"/>
<rect x="616.6" y="76.6" width="8.3" height="6.6" fill="#2fae87" stroke="#333" stroke-width="0.7"/>
<line x1="616.6" y1="79.9" x2="624.9" y2="79.9" stroke="#111" stroke-width="1.7"/>
<path fill="none" stroke="#111" stroke-width="3.50" stroke-linecap="round" d="M620.8 54.7h0M620.8 57.2h0M620.8 59.7h0M620.8 62.1h0M620.8 64.6h0M620.8 67.1h0M620.8 69.6h0"/>
<line x1="634" y1="74.4" x2="634" y2="78.8" stroke="#333" stroke-width="0.75"/>
<line x1="634" y1="83.9" x2="634" y2="83.9" stroke="#333" stroke-width="0.75"/>
<rect x="629.85" y="78.8" width="8.3" height="5.1" fill="#e3a628" stroke="#333" stroke-width="0.7"/>
<line x1="629.85" y1="80.6" x2="638.15" y2="80.6" stroke="#111" stroke-width="1.7"/>
<path fill="none" stroke="#111" stroke-width="3.50" stroke-linecap="round" d="M634 63.5h0M634 66.1h0M634 68.8h0M634 71.4h0M634 74h0"/>
<text x="594.3" y="16.4" font-size="9.6" text-anchor="middle">Emphysema</text>
<line x1="309.4" y1="119.8" x2="404" y2="119.8" stroke="#f5f5f5" stroke-width="0.5"/>
<line x1="309.4" y1="135.2" x2="404" y2="135.2" stroke="#f5f5f5" stroke-width="0.5"/>
<line x1="309.4" y1="150.3" x2="404" y2="150.3" stroke="#f5f5f5" stroke-width="0.5"/>
<line x1="309.4" y1="165.4" x2="404" y2="165.4" stroke="#f5f5f5" stroke-width="0.5"/>
<line x1="309.4" y1="111.9" x2="404" y2="111.9" stroke="#ebebeb" stroke-width="0.7"/>
<line x1="309.4" y1="127.7" x2="404" y2="127.7" stroke="#ebebeb" stroke-width="0.7"/>
<line x1="309.4" y1="142.8" x2="404" y2="142.8" stroke="#ebebeb" stroke-width="0.7"/>
<line x1="309.4" y1="157.9" x2="404" y2="157.9" stroke="#ebebeb" stroke-width="0.7"/>
<line x1="317.3" y1="108.5" x2="317.3" y2="172.3" stroke="#ebebeb" stroke-width="0.7"/>
<line x1="330.47" y1="108.5" x2="330.47" y2="172.3" stroke="#ebebeb" stroke-width="0.7"/>
<line x1="343.64" y1="108.5" x2="343.64" y2="172.3" stroke="#ebebeb" stroke-width="0.7"/>
<line x1="356.81" y1="108.5" x2="356.81" y2="172.3" stroke="#ebebeb" stroke-width="0.7"/>
<line x1="369.98" y1="108.5" x2="369.98" y2="172.3" stroke="#ebebeb" stroke-width="0.7"/>
<line x1="383.15" y1="108.5" x2="383.15" y2="172.3" stroke="#ebebeb" stroke-width="0.7"/>
<line x1="396.32" y1="108.5" x2="396.32" y2="172.3" stroke="#ebebeb" stroke-width="0.7"/>
<text x="306.4" y="114.8" font-size="8.2" text-anchor="end" fill="#4d4d4d">160</text>
<text x="306.4" y="130.6" font-size="8.2" text-anchor="end" fill="#4d4d4d">120</text>
<text x="306.4" y="145.7" font-size="8.2" text-anchor="end" fill="#4d4d4d">80</text>
<text x="306.4" y="160.8" font-size="8.2" text-anchor="end" fill="#4d4d4d">40</text>
<line x1="317.3" y1="125" x2="317.3" y2="137.1" stroke="#333" stroke-width="0.75"/>
<line x1="317.3" y1="146.5" x2="317.3" y2="156.8" stroke="#333" stroke-width="0.75"/>
<rect x="313.15" y="137.1" width="8.3" height="9.4" fill="#8e7fbd" stroke="#333" stroke-width="0.7"/>
<line x1="313.15" y1="141.7" x2="321.45" y2="141.7" stroke="#111" stroke-width="1.7"/>
<path fill="none" stroke="#111" stroke-width="3.50" stroke-linecap="round" d="M317.3 114.1h0M317.3 118.5h0M317.3 161.6h0"/>
<line x1="330.47" y1="128.3" x2="330.47" y2="143" stroke="#333" stroke-width="0.75"/>
<line x1="330.47" y1="153.5" x2="330.47" y2="166.6" stroke="#333" stroke-width="0.75"/>
<rect x="326.32" y="143" width="8.3" height="10.5" fill="#ea6a6a" stroke="#333" stroke-width="0.7"/>
<line x1="326.32" y1="148" x2="334.62" y2="148" stroke="#111" stroke-width="1.7"/>
<line x1="343.64" y1="152.4" x2="343.64" y2="158.3" stroke="#333" stroke-width="0.75"/>
<line x1="343.64" y1="165.1" x2="343.64" y2="168.8" stroke="#333" stroke-width="0.75"/>
<rect x="339.49" y="158.3" width="8.3" height="6.8" fill="#c968b0" stroke="#333" stroke-width="0.7"/>
<line x1="339.49" y1="161.8" x2="347.79" y2="161.8" stroke="#111" stroke-width="1.7"/>
<path fill="none" stroke="#111" stroke-width="3.50" stroke-linecap="round" d="M343.6 136h0M343.6 138.6h0M343.6 141.1h0M343.6 143.7h0M343.6 146.2h0M343.6 148.8h0M343.6 151.3h0"/>
<line x1="356.81" y1="155.7" x2="356.81" y2="161.8" stroke="#333" stroke-width="0.75"/>
<line x1="356.81" y1="166.6" x2="356.81" y2="168.8" stroke="#333" stroke-width="0.75"/>
<rect x="352.66" y="161.8" width="8.3" height="4.8" fill="#3faf5a" stroke="#333" stroke-width="0.7"/>
<line x1="352.66" y1="164" x2="360.96" y2="164" stroke="#111" stroke-width="1.7"/>
<path fill="none" stroke="#111" stroke-width="3.50" stroke-linecap="round" d="M356.8 142.5h0M356.8 145.1h0M356.8 147.8h0M356.8 150.4h0M356.8 153.1h0M356.8 155.7h0"/>
<line x1="369.98" y1="129.4" x2="369.98" y2="142.1" stroke="#333" stroke-width="0.75"/>
<line x1="369.98" y1="153.5" x2="369.98" y2="165.5" stroke="#333" stroke-width="0.75"/>
<rect x="365.83" y="142.1" width="8.3" height="11.4" fill="#22b8e6" stroke="#333" stroke-width="0.7"/>
<line x1="365.83" y1="148" x2="374.13" y2="148" stroke="#111" stroke-width="1.7"/>
<path fill="none" stroke="#111" stroke-width="3.50" stroke-linecap="round" d="M370 122.8h0"/>
<line x1="383.15" y1="126.1" x2="383.15" y2="137.1" stroke="#333" stroke-width="0.75"/>
<line x1="383.15" y1="147.4" x2="383.15" y2="157.9" stroke="#333" stroke-width="0.75"/>
<rect x="379" y="137.1" width="8.3" height="10.3" fill="#2fae87" stroke="#333" stroke-width="0.7"/>
<line x1="379" y1="141.5" x2="387.3" y2="141.5" stroke="#111" stroke-width="1.7"/>
<path fill="none" stroke="#111" stroke-width="3.50" stroke-linecap="round" d="M383.1 111.9h0M383.1 118.5h0M383.1 123.3h0M383.1 162.3h0"/>
<line x1="396.32" y1="126.1" x2="396.32" y2="133.4" stroke="#333" stroke-width="0.75"/>
<line x1="396.32" y1="141.5" x2="396.32" y2="149.1" stroke="#333" stroke-width="0.75"/>
<rect x="392.17" y="133.4" width="8.3" height="8.1" fill="#e3a628" stroke="#333" stroke-width="0.7"/>
<line x1="392.17" y1="137.1" x2="400.47" y2="137.1" stroke="#111" stroke-width="1.7"/>
<path fill="none" stroke="#111" stroke-width="3.50" stroke-linecap="round" d="M396.3 110.8h0M396.3 113.2h0M396.3 115.6h0M396.3 118h0M396.3 120.4h0M396.3 122.8h0M396.3 153.5h0M396.3 157.9h0"/>
<text x="317.3" y="183.2" font-size="8.3" text-anchor="middle" fill="#4d4d4d">1</text>
<text x="330.47" y="183.2" font-size="8.3" text-anchor="middle" fill="#4d4d4d">2</text>
<text x="343.64" y="183.2" font-size="8.3" text-anchor="middle" fill="#4d4d4d">3</text>
<text x="356.81" y="183.2" font-size="8.3" text-anchor="middle" fill="#4d4d4d">4</text>
<text x="369.98" y="183.2" font-size="8.3" text-anchor="middle" fill="#4d4d4d">5</text>
<text x="383.15" y="183.2" font-size="8.3" text-anchor="middle" fill="#4d4d4d">6</text>
<text x="396.32" y="183.2" font-size="8.3" text-anchor="middle" fill="#4d4d4d">7</text>
<text x="356.7" y="104.2" font-size="9.6" text-anchor="middle">FEV<tspan font-size="6" dy="2">1</tspan></text>
<line x1="427.4" y1="111.4" x2="521.5" y2="111.4" stroke="#f5f5f5" stroke-width="0.5"/>
<line x1="427.4" y1="124.2" x2="521.5" y2="124.2" stroke="#f5f5f5" stroke-width="0.5"/>
<line x1="427.4" y1="137.2" x2="521.5" y2="137.2" stroke="#f5f5f5" stroke-width="0.5"/>
<line x1="427.4" y1="150.2" x2="521.5" y2="150.2" stroke="#f5f5f5" stroke-width="0.5"/>
<line x1="427.4" y1="163.2" x2="521.5" y2="163.2" stroke="#f5f5f5" stroke-width="0.5"/>
<line x1="427.4" y1="117.8" x2="521.5" y2="117.8" stroke="#ebebeb" stroke-width="0.7"/>
<line x1="427.4" y1="130.7" x2="521.5" y2="130.7" stroke="#ebebeb" stroke-width="0.7"/>
<line x1="427.4" y1="143.6" x2="521.5" y2="143.6" stroke="#ebebeb" stroke-width="0.7"/>
<line x1="427.4" y1="156.8" x2="521.5" y2="156.8" stroke="#ebebeb" stroke-width="0.7"/>
<line x1="427.4" y1="169.7" x2="521.5" y2="169.7" stroke="#ebebeb" stroke-width="0.7"/>
<line x1="435.5" y1="108.5" x2="435.5" y2="172.3" stroke="#ebebeb" stroke-width="0.7"/>
<line x1="448.63" y1="108.5" x2="448.63" y2="172.3" stroke="#ebebeb" stroke-width="0.7"/>
<line x1="461.76" y1="108.5" x2="461.76" y2="172.3" stroke="#ebebeb" stroke-width="0.7"/>
<line x1="474.89" y1="108.5" x2="474.89" y2="172.3" stroke="#ebebeb" stroke-width="0.7"/>
<line x1="488.02" y1="108.5" x2="488.02" y2="172.3" stroke="#ebebeb" stroke-width="0.7"/>
<line x1="501.15" y1="108.5" x2="501.15" y2="172.3" stroke="#ebebeb" stroke-width="0.7"/>
<line x1="514.28" y1="108.5" x2="514.28" y2="172.3" stroke="#ebebeb" stroke-width="0.7"/>
<text x="424.4" y="120.7" font-size="8.2" text-anchor="end" fill="#4d4d4d">200</text>
<text x="424.4" y="133.6" font-size="8.2" text-anchor="end" fill="#4d4d4d">150</text>
<text x="424.4" y="146.5" font-size="8.2" text-anchor="end" fill="#4d4d4d">100</text>
<text x="424.4" y="159.7" font-size="8.2" text-anchor="end" fill="#4d4d4d">50</text>
<text x="424.4" y="172.6" font-size="8.2" text-anchor="end" fill="#4d4d4d">0</text>
<line x1="435.5" y1="145.8" x2="435.5" y2="156.8" stroke="#333" stroke-width="0.75"/>
<line x1="435.5" y1="164.4" x2="435.5" y2="169.5" stroke="#333" stroke-width="0.75"/>
<rect x="431.35" y="156.8" width="8.3" height="7.6" fill="#8e7fbd" stroke="#333" stroke-width="0.7"/>
<line x1="431.35" y1="160.5" x2="439.65" y2="160.5" stroke="#111" stroke-width="1.7"/>
<path fill="none" stroke="#111" stroke-width="3.50" stroke-linecap="round" d="M435.5 130.7h0M435.5 139.3h0M435.5 141.8h0M435.5 144.4h0M435.5 146.9h0"/>
<line x1="448.63" y1="137.1" x2="448.63" y2="156.8" stroke="#333" stroke-width="0.75"/>
<line x1="448.63" y1="169.3" x2="448.63" y2="169.7" stroke="#333" stroke-width="0.75"/>
<rect x="444.48" y="156.8" width="8.3" height="12.5" fill="#ea6a6a" stroke="#333" stroke-width="0.7"/>
<line x1="444.48" y1="162.3" x2="452.78" y2="162.3" stroke="#111" stroke-width="1.7"/>
<path fill="none" stroke="#111" stroke-width="3.50" stroke-linecap="round" d="M448.6 121.3h0M448.6 129.4h0M448.6 132.7h0M448.6 136h0"/>
<line x1="461.76" y1="141.5" x2="461.76" y2="154.6" stroke="#333" stroke-width="0.75"/>
<line x1="461.76" y1="162.3" x2="461.76" y2="169.7" stroke="#333" stroke-width="0.75"/>
<rect x="457.61" y="154.6" width="8.3" height="7.7" fill="#c968b0" stroke="#333" stroke-width="0.7"/>
<line x1="457.61" y1="158.3" x2="465.91" y2="158.3" stroke="#111" stroke-width="1.7"/>
<path fill="none" stroke="#111" stroke-width="3.50" stroke-linecap="round" d="M461.8 128.3h0M461.8 130.7h0M461.8 133h0M461.8 135.4h0M461.8 137.8h0M461.8 140.1h0M461.8 142.5h0"/>
<line x1="474.89" y1="140.4" x2="474.89" y2="153.5" stroke="#333" stroke-width="0.75"/>
<line x1="474.89" y1="162.3" x2="474.89" y2="169.7" stroke="#333" stroke-width="0.75"/>
<rect x="470.74" y="153.5" width="8.3" height="8.8" fill="#3faf5a" stroke="#333" stroke-width="0.7"/>
<line x1="470.74" y1="157.9" x2="479.04" y2="157.9" stroke="#111" stroke-width="1.7"/>
<path fill="none" stroke="#111" stroke-width="3.50" stroke-linecap="round" d="M474.9 119.6h0M474.9 122.1h0M474.9 124.5h0M474.9 127h0M474.9 129.4h0M474.9 131.9h0M474.9 134.4h0M474.9 136.8h0M474.9 139.3h0"/>
<line x1="488.02" y1="133.8" x2="488.02" y2="150.2" stroke="#333" stroke-width="0.75"/>
<line x1="488.02" y1="161.2" x2="488.02" y2="169.7" stroke="#333" stroke-width="0.75"/>
<rect x="483.87" y="150.2" width="8.3" height="11" fill="#22b8e6" stroke="#333" stroke-width="0.7"/>
<line x1="483.87" y1="155.7" x2="492.17" y2="155.7" stroke="#111" stroke-width="1.7"/>
<path fill="none" stroke="#111" stroke-width="3.50" stroke-linecap="round" d="M488 118h0M488 120.5h0M488 122.9h0M488 125.3h0M488 127.8h0M488 130.2h0M488 132.7h0"/>
<line x1="501.15" y1="143.6" x2="501.15" y2="158.3" stroke="#333" stroke-width="0.75"/>
<line x1="501.15" y1="168.2" x2="501.15" y2="169.7" stroke="#333" stroke-width="0.75"/>
<rect x="497" y="158.3" width="8.3" height="9.9" fill="#2fae87" stroke="#333" stroke-width="0.7"/>
<line x1="497" y1="163.4" x2="505.3" y2="163.4" stroke="#111" stroke-width="1.7"/>
<path fill="none" stroke="#111" stroke-width="3.50" stroke-linecap="round" d="M501.1 110.8h0M501.1 118h0M501.1 130h0M501.1 137h0M501.1 140.3h0M501.1 143.6h0"/>
<line x1="514.28" y1="162.3" x2="514.28" y2="166.2" stroke="#333" stroke-width="0.75"/>
<line x1="514.28" y1="169.9" x2="514.28" y2="169.9" stroke="#333" stroke-width="0.75"/>
<rect x="510.13" y="166.2" width="8.3" height="3.7" fill="#e3a628" stroke="#333" stroke-width="0.7"/>
<line x1="510.13" y1="168.4" x2="518.43" y2="168.4" stroke="#111" stroke-width="1.7"/>
<path fill="none" stroke="#111" stroke-width="3.50" stroke-linecap="round" d="M514.3 137h0M514.3 139.3h0M514.3 141.6h0M514.3 143.9h0M514.3 146.2h0M514.3 148.5h0M514.3 150.8h0M514.3 153.1h0M514.3 155.4h0M514.3 157.7h0M514.3 160h0M514.3 162.3h0"/>
<text x="474.45" y="104.2" font-size="9.6" text-anchor="middle">Pack years</text>
<text x="435.5" y="183.2" font-size="8.3" text-anchor="middle" fill="#4d4d4d">1</text>
<text x="448.63" y="183.2" font-size="8.3" text-anchor="middle" fill="#4d4d4d">2</text>
<text x="461.76" y="183.2" font-size="8.3" text-anchor="middle" fill="#4d4d4d">3</text>
<text x="474.89" y="183.2" font-size="8.3" text-anchor="middle" fill="#4d4d4d">4</text>
<text x="488.02" y="183.2" font-size="8.3" text-anchor="middle" fill="#4d4d4d">5</text>
<text x="501.15" y="183.2" font-size="8.3" text-anchor="middle" fill="#4d4d4d">6</text>
<text x="514.28" y="183.2" font-size="8.3" text-anchor="middle" fill="#4d4d4d">7</text>
<line x1="547" y1="118" x2="641.6" y2="118" stroke="#f5f5f5" stroke-width="0.5"/>
<line x1="547" y1="132.6" x2="641.6" y2="132.6" stroke="#f5f5f5" stroke-width="0.5"/>
<line x1="547" y1="147.3" x2="641.6" y2="147.3" stroke="#f5f5f5" stroke-width="0.5"/>
<line x1="547" y1="162.1" x2="641.6" y2="162.1" stroke="#f5f5f5" stroke-width="0.5"/>
<line x1="547" y1="110.8" x2="641.6" y2="110.8" stroke="#ebebeb" stroke-width="0.7"/>
<line x1="547" y1="125.3" x2="641.6" y2="125.3" stroke="#ebebeb" stroke-width="0.7"/>
<line x1="547" y1="139.9" x2="641.6" y2="139.9" stroke="#ebebeb" stroke-width="0.7"/>
<line x1="547" y1="154.8" x2="641.6" y2="154.8" stroke="#ebebeb" stroke-width="0.7"/>
<line x1="547" y1="169.5" x2="641.6" y2="169.5" stroke="#ebebeb" stroke-width="0.7"/>
<line x1="554.5" y1="108.5" x2="554.5" y2="172.3" stroke="#ebebeb" stroke-width="0.7"/>
<line x1="567.75" y1="108.5" x2="567.75" y2="172.3" stroke="#ebebeb" stroke-width="0.7"/>
<line x1="581" y1="108.5" x2="581" y2="172.3" stroke="#ebebeb" stroke-width="0.7"/>
<line x1="594.25" y1="108.5" x2="594.25" y2="172.3" stroke="#ebebeb" stroke-width="0.7"/>
<line x1="607.5" y1="108.5" x2="607.5" y2="172.3" stroke="#ebebeb" stroke-width="0.7"/>
<line x1="620.75" y1="108.5" x2="620.75" y2="172.3" stroke="#ebebeb" stroke-width="0.7"/>
<line x1="634" y1="108.5" x2="634" y2="172.3" stroke="#ebebeb" stroke-width="0.7"/>
<text x="544" y="113.7" font-size="8.2" text-anchor="end" fill="#4d4d4d">100</text>
<text x="544" y="128.2" font-size="8.2" text-anchor="end" fill="#4d4d4d">75</text>
<text x="544" y="142.8" font-size="8.2" text-anchor="end" fill="#4d4d4d">50</text>
<text x="544" y="157.7" font-size="8.2" text-anchor="end" fill="#4d4d4d">25</text>
<text x="544" y="172.4" font-size="8.2" text-anchor="end" fill="#4d4d4d">0</text>
<line x1="554.5" y1="142.5" x2="554.5" y2="159" stroke="#333" stroke-width="0.75"/>
<line x1="554.5" y1="169.3" x2="554.5" y2="169.5" stroke="#333" stroke-width="0.75"/>
<rect x="550.35" y="159" width="8.3" height="10.3" fill="#8e7fbd" stroke="#333" stroke-width="0.7"/>
<line x1="550.35" y1="166.2" x2="558.65" y2="166.2" stroke="#111" stroke-width="1.7"/>
<path fill="none" stroke="#111" stroke-width="3.50" stroke-linecap="round" d="M554.5 134.9h0M554.5 141.9h0"/>
<line x1="567.75" y1="110.8" x2="567.75" y2="123.9" stroke="#333" stroke-width="0.75"/>
<line x1="567.75" y1="138.2" x2="567.75" y2="153.5" stroke="#333" stroke-width="0.75"/>
<rect x="563.6" y="123.9" width="8.3" height="14.3" fill="#ea6a6a" stroke="#333" stroke-width="0.7"/>
<line x1="563.6" y1="130" x2="571.9" y2="130" stroke="#111" stroke-width="1.7"/>
<path fill="none" stroke="#111" stroke-width="3.50" stroke-linecap="round" d="M567.8 165.1h0"/>
<line x1="581" y1="118" x2="581" y2="136.4" stroke="#333" stroke-width="0.75"/>
<line x1="581" y1="151.3" x2="581" y2="164.9" stroke="#333" stroke-width="0.75"/>
<rect x="576.85" y="136.4" width="8.3" height="14.9" fill="#c968b0" stroke="#333" stroke-width="0.7"/>
<line x1="576.85" y1="143.2" x2="585.15" y2="143.2" stroke="#111" stroke-width="1.7"/>
<line x1="594.25" y1="110.8" x2="594.25" y2="120.7" stroke="#333" stroke-width="0.75"/>
<line x1="594.25" y1="134.9" x2="594.25" y2="149.1" stroke="#333" stroke-width="0.75"/>
<rect x="590.1" y="120.7" width="8.3" height="14.2" fill="#3faf5a" stroke="#333" stroke-width="0.7"/>
<line x1="590.1" y1="127.2" x2="598.4" y2="127.2" stroke="#111" stroke-width="1.7"/>
<path fill="none" stroke="#111" stroke-width="3.50" stroke-linecap="round" d="M594.2 159h0M594.2 162.3h0"/>
<line x1="607.5" y1="118" x2="607.5" y2="139.3" stroke="#333" stroke-width="0.75"/>
<line x1="607.5" y1="154.6" x2="607.5" y2="169.5" stroke="#333" stroke-width="0.75"/>
<rect x="603.35" y="139.3" width="8.3" height="15.3" fill="#22b8e6" stroke="#333" stroke-width="0.7"/>
<line x1="603.35" y1="145.8" x2="611.65" y2="145.8" stroke="#111" stroke-width="1.7"/>
<line x1="620.75" y1="130.5" x2="620.75" y2="149.1" stroke="#333" stroke-width="0.75"/>
<line x1="620.75" y1="163.4" x2="620.75" y2="169.5" stroke="#333" stroke-width="0.75"/>
<rect x="616.6" y="149.1" width="8.3" height="14.3" fill="#2fae87" stroke="#333" stroke-width="0.7"/>
<line x1="616.6" y1="156.8" x2="624.9" y2="156.8" stroke="#111" stroke-width="1.7"/>
<path fill="none" stroke="#111" stroke-width="3.50" stroke-linecap="round" d="M620.8 118h0M620.8 125h0"/>
<line x1="634" y1="145.8" x2="634" y2="158.5" stroke="#333" stroke-width="0.75"/>
<line x1="634" y1="169.5" x2="634" y2="169.5" stroke="#333" stroke-width="0.75"/>
<rect x="629.85" y="158.5" width="8.3" height="11" fill="#e3a628" stroke="#333" stroke-width="0.7"/>
<line x1="629.85" y1="164.9" x2="638.15" y2="164.9" stroke="#111" stroke-width="1.7"/>
<path fill="none" stroke="#111" stroke-width="3.50" stroke-linecap="round" d="M634 134.9h0M634 138.2h0M634 141.5h0"/>
<text x="594.3" y="104.2" font-size="9.6" text-anchor="middle">Symptoms</text>
<text x="554.5" y="183.2" font-size="8.3" text-anchor="middle" fill="#4d4d4d">1</text>
<text x="567.75" y="183.2" font-size="8.3" text-anchor="middle" fill="#4d4d4d">2</text>
<text x="581" y="183.2" font-size="8.3" text-anchor="middle" fill="#4d4d4d">3</text>
<text x="594.25" y="183.2" font-size="8.3" text-anchor="middle" fill="#4d4d4d">4</text>
<text x="607.5" y="183.2" font-size="8.3" text-anchor="middle" fill="#4d4d4d">5</text>
<text x="620.75" y="183.2" font-size="8.3" text-anchor="middle" fill="#4d4d4d">6</text>
<text x="634" y="183.2" font-size="8.3" text-anchor="middle" fill="#4d4d4d">7</text>
<text x="475.5" y="197.3" font-size="9.6" text-anchor="middle">Cluster</text>
<text x="286.4" y="95.6" font-size="9.8" text-anchor="middle" transform="rotate(-90 286.4 95.6)">Value</text>
<text x="654.4" y="52.4" font-size="9.6">Cluster</text>
<line x1="660.55" y1="58" x2="660.55" y2="67.4" stroke="#333" stroke-width="0.6"/>
<rect x="655.4" y="59.3" width="10.3" height="6.8" fill="#8e7fbd" stroke="#333" stroke-width="0.6"/>
<line x1="655.4" y1="62.7" x2="665.7" y2="62.7" stroke="#222" stroke-width="1"/>
<text x="669.6" y="65.7" font-size="8.3">1</text>
<line x1="660.55" y1="71.1" x2="660.55" y2="80.5" stroke="#333" stroke-width="0.6"/>
<rect x="655.4" y="72.4" width="10.3" height="6.8" fill="#ea6a6a" stroke="#333" stroke-width="0.6"/>
<line x1="655.4" y1="75.8" x2="665.7" y2="75.8" stroke="#222" stroke-width="1"/>
<text x="669.6" y="78.8" font-size="8.3">2</text>
<line x1="660.55" y1="84.2" x2="660.55" y2="93.6" stroke="#333" stroke-width="0.6"/>
<rect x="655.4" y="85.5" width="10.3" height="6.8" fill="#c968b0" stroke="#333" stroke-width="0.6"/>
<line x1="655.4" y1="88.9" x2="665.7" y2="88.9" stroke="#222" stroke-width="1"/>
<text x="669.6" y="91.9" font-size="8.3">3</text>
<line x1="660.55" y1="97.3" x2="660.55" y2="106.7" stroke="#333" stroke-width="0.6"/>
<rect x="655.4" y="98.6" width="10.3" height="6.8" fill="#3faf5a" stroke="#333" stroke-width="0.6"/>
<line x1="655.4" y1="102" x2="665.7" y2="102" stroke="#222" stroke-width="1"/>
<text x="669.6" y="105" font-size="8.3">4</text>
<line x1="660.55" y1="110.4" x2="660.55" y2="119.8" stroke="#333" stroke-width="0.6"/>
<rect x="655.4" y="111.7" width="10.3" height="6.8" fill="#22b8e6" stroke="#333" stroke-width="0.6"/>
<line x1="655.4" y1="115.1" x2="665.7" y2="115.1" stroke="#222" stroke-width="1"/>
<text x="669.6" y="118.1" font-size="8.3">5</text>
<line x1="660.55" y1="123.5" x2="660.55" y2="132.9" stroke="#333" stroke-width="0.6"/>
<rect x="655.4" y="124.8" width="10.3" height="6.8" fill="#2fae87" stroke="#333" stroke-width="0.6"/>
<line x1="655.4" y1="128.2" x2="665.7" y2="128.2" stroke="#222" stroke-width="1"/>
<text x="669.6" y="131.2" font-size="8.3">6</text>
<line x1="660.55" y1="136.6" x2="660.55" y2="146" stroke="#333" stroke-width="0.6"/>
<rect x="655.4" y="137.9" width="10.3" height="6.8" fill="#e3a628" stroke="#333" stroke-width="0.6"/>
<line x1="655.4" y1="141.3" x2="665.7" y2="141.3" stroke="#222" stroke-width="1"/>
<text x="669.6" y="144.3" font-size="8.3">7</text>
<text x="4.5" y="220.8" font-size="14" fill="#111" font-weight="bold" stroke="#111" stroke-width="0.55">c</text>
<line x1="79.5" y1="210.8" x2="79.5" y2="224" stroke="#d196c4" stroke-width="1.3"/>
<circle cx="79.5" cy="217.4" r="2.5" fill="#d196c4"/>
<text x="85.2" y="221" font-size="8.3">gCap<tspan font-size="4.8" dy="2">i</tspan></text>
<line x1="117.4" y1="210.8" x2="117.4" y2="224" stroke="#8ccbe0" stroke-width="1.3"/>
<circle cx="117.4" cy="217.4" r="2.5" fill="#8ccbe0"/>
<text x="123.1" y="221" font-size="8.3">Aerocyte<tspan font-size="4.8" dy="2">i</tspan></text>
<line x1="168.7" y1="210.8" x2="168.7" y2="224" stroke="#3a52a4" stroke-width="1.3"/>
<circle cx="168.7" cy="217.4" r="2.5" fill="#3a52a4"/>
<text x="174.4" y="221" font-size="8.3">AT2<tspan font-size="4.8" dy="2">i</tspan></text>
<line x1="200.9" y1="210.8" x2="200.9" y2="224" stroke="#6a4c9c" stroke-width="1.3"/>
<circle cx="200.9" cy="217.4" r="2.5" fill="#6a4c9c"/>
<text x="206.6" y="221" font-size="8.3">Golet</text>
<line x1="237.7" y1="210.8" x2="237.7" y2="224" stroke="#e8378c" stroke-width="1.3"/>
<circle cx="237.7" cy="217.4" r="2.5" fill="#e8378c"/>
<text x="244.3" y="221" font-size="8.3">AT1<tspan font-size="4.8" dy="2">i</tspan></text>
<line x1="270" y1="210.8" x2="270" y2="224" stroke="#f3a43c" stroke-width="1.3"/>
<circle cx="270" cy="217.4" r="2.5" fill="#f3a43c"/>
<text x="276.8" y="221" font-size="8.3">Fibroblast<tspan font-size="4.8" dy="2">IR</tspan></text>
<line x1="327.6" y1="210.8" x2="327.6" y2="224" stroke="#8b4a22" stroke-width="1.3"/>
<circle cx="327.6" cy="217.4" r="2.5" fill="#8b4a22"/>
<text x="335.2" y="221" font-size="8.3">Fibroblast<tspan font-size="4.8" dy="2">CTHRC1</tspan></text>
<line x1="398.9" y1="210.8" x2="398.9" y2="224" stroke="#0c2f52" stroke-width="1.3"/>
<circle cx="398.9" cy="217.4" r="2.5" fill="#0c2f52"/>
<text x="405.4" y="221" font-size="8.3">Fibroblast<tspan font-size="4.8" dy="2">FDC</tspan></text>
<line x1="460.4" y1="210.8" x2="460.4" y2="224" stroke="#16918f" stroke-width="1.3"/>
<circle cx="460.4" cy="217.4" r="2.5" fill="#16918f"/>
<text x="467.2" y="221" font-size="8.3">Alv. fibroblast<tspan font-size="4.8" dy="2">i</tspan></text>
<line x1="528" y1="210.8" x2="528" y2="224" stroke="#96cc96" stroke-width="1.3"/>
<circle cx="528" cy="217.4" r="2.5" fill="#96cc96"/>
<text x="535.6" y="221" font-size="8.3">IM<tspan font-size="4.8" dy="2">CHIT</tspan></text>
<line x1="67.8" y1="316.19" x2="592" y2="316.19" stroke="#f5f5f5" stroke-width="0.5"/>
<line x1="67.8" y1="296.56" x2="592" y2="296.56" stroke="#f5f5f5" stroke-width="0.5"/>
<line x1="67.8" y1="276.94" x2="592" y2="276.94" stroke="#f5f5f5" stroke-width="0.5"/>
<line x1="67.8" y1="257.31" x2="592" y2="257.31" stroke="#f5f5f5" stroke-width="0.5"/>
<line x1="67.8" y1="237.69" x2="592" y2="237.69" stroke="#f5f5f5" stroke-width="0.5"/>
<line x1="67.8" y1="326" x2="592" y2="326" stroke="#ebebeb" stroke-width="0.7"/>
<text x="61.5" y="328.9" font-size="8.2" text-anchor="end" fill="#4d4d4d">0</text>
<line x1="67.8" y1="306.38" x2="592" y2="306.38" stroke="#ebebeb" stroke-width="0.7"/>
<text x="61.5" y="309.27" font-size="8.2" text-anchor="end" fill="#4d4d4d">2.5</text>
<line x1="67.8" y1="286.75" x2="592" y2="286.75" stroke="#ebebeb" stroke-width="0.7"/>
<text x="61.5" y="289.65" font-size="8.2" text-anchor="end" fill="#4d4d4d">5.0</text>
<line x1="67.8" y1="267.12" x2="592" y2="267.12" stroke="#ebebeb" stroke-width="0.7"/>
<text x="61.5" y="270.02" font-size="8.2" text-anchor="end" fill="#4d4d4d">7.5</text>
<line x1="67.8" y1="247.5" x2="592" y2="247.5" stroke="#ebebeb" stroke-width="0.7"/>
<text x="61.5" y="250.4" font-size="8.2" text-anchor="end" fill="#4d4d4d">10.0</text>
<line x1="67.8" y1="227.88" x2="592" y2="227.88" stroke="#ebebeb" stroke-width="0.7"/>
<text x="61.5" y="230.78" font-size="8.2" text-anchor="end" fill="#4d4d4d">12.5</text>
<line x1="128.7" y1="223.5" x2="128.7" y2="330.5" stroke="#ebebeb" stroke-width="0.7"/>
<line x1="229.6" y1="223.5" x2="229.6" y2="330.5" stroke="#ebebeb" stroke-width="0.7"/>
<line x1="330.2" y1="223.5" x2="330.2" y2="330.5" stroke="#ebebeb" stroke-width="0.7"/>
<line x1="430.8" y1="223.5" x2="430.8" y2="330.5" stroke="#ebebeb" stroke-width="0.7"/>
<line x1="531.6" y1="223.5" x2="531.6" y2="330.5" stroke="#ebebeb" stroke-width="0.7"/>
<text x="37.8" y="275.5" font-size="9.2" text-anchor="middle" transform="rotate(-90 37.8 275.5)">FC (median, IQR)</text>
<line x1="92" y1="317" x2="92" y2="319" stroke="#e8378c" stroke-width="1.3"/>
<circle cx="92" cy="318.1" r="2.1" fill="#e8378c"/>
<line x1="100.1" y1="300.2" x2="100.1" y2="323.9" stroke="#3a52a4" stroke-width="1.3"/>
<circle cx="100.1" cy="318.1" r="2.3" fill="#3a52a4"/>
<line x1="108.2" y1="310.7" x2="108.2" y2="322.5" stroke="#8ccbe0" stroke-width="1.3"/>
<circle cx="108.2" cy="318.1" r="2.3" fill="#8ccbe0"/>
<line x1="116.4" y1="309.4" x2="116.4" y2="322" stroke="#d196c4" stroke-width="1.3"/>
<circle cx="116.4" cy="318.1" r="2.3" fill="#d196c4"/>
<line x1="124.5" y1="306.8" x2="124.5" y2="321.2" stroke="#16918f" stroke-width="1.3"/>
<circle cx="124.5" cy="318.1" r="2.3" fill="#16918f"/>
<line x1="132.7" y1="312.8" x2="132.7" y2="322.5" stroke="#6a4c9c" stroke-width="1.3"/>
<circle cx="132.7" cy="318.1" r="2.3" fill="#6a4c9c"/>
<line x1="140.8" y1="313.9" x2="140.8" y2="321.8" stroke="#96cc96" stroke-width="1.3"/>
<circle cx="140.8" cy="318.1" r="2.3" fill="#96cc96"/>
<line x1="148.7" y1="312.6" x2="148.7" y2="320.4" stroke="#8b4a22" stroke-width="1.3"/>
<circle cx="148.7" cy="318.1" r="2.3" fill="#8b4a22"/>
<line x1="156.9" y1="306.3" x2="156.9" y2="320.4" stroke="#f3a43c" stroke-width="1.3"/>
<circle cx="156.9" cy="318.1" r="2.3" fill="#f3a43c"/>
<line x1="165" y1="310.2" x2="165" y2="325.7" stroke="#0c2f52" stroke-width="1.3"/>
<circle cx="165" cy="318.1" r="2.3" fill="#0c2f52"/>
<line x1="192.9" y1="314.7" x2="192.9" y2="322.5" stroke="#e8378c" stroke-width="1.3"/>
<circle cx="192.9" cy="320.4" r="2.3" fill="#e8378c"/>
<line x1="201" y1="299.7" x2="201" y2="322.5" stroke="#3a52a4" stroke-width="1.3"/>
<circle cx="201" cy="318.6" r="2.3" fill="#3a52a4"/>
<line x1="209.1" y1="317.3" x2="209.1" y2="325.2" stroke="#8ccbe0" stroke-width="1.3"/>
<circle cx="209.1" cy="322" r="2.3" fill="#8ccbe0"/>
<line x1="217" y1="314.7" x2="217" y2="324.7" stroke="#d196c4" stroke-width="1.3"/>
<circle cx="217" cy="319.4" r="2.3" fill="#d196c4"/>
<line x1="225.2" y1="312.8" x2="225.2" y2="322" stroke="#16918f" stroke-width="1.3"/>
<circle cx="225.2" cy="321.8" r="4.8" fill="#16918f"/>
<line x1="233.1" y1="306.8" x2="233.1" y2="322.5" stroke="#6a4c9c" stroke-width="1.3"/>
<circle cx="233.1" cy="312.6" r="2.3" fill="#6a4c9c"/>
<line x1="241.2" y1="295.7" x2="241.2" y2="319.9" stroke="#96cc96" stroke-width="1.3"/>
<circle cx="241.2" cy="312.6" r="2.3" fill="#96cc96"/>
<line x1="249.3" y1="296.3" x2="249.3" y2="317.8" stroke="#8b4a22" stroke-width="1.3"/>
<circle cx="249.3" cy="311.3" r="2.3" fill="#8b4a22"/>
<line x1="257.5" y1="291.5" x2="257.5" y2="316.8" stroke="#f3a43c" stroke-width="1.3"/>
<circle cx="257.5" cy="303.6" r="2.3" fill="#f3a43c"/>
<line x1="265.4" y1="302.8" x2="265.4" y2="312" stroke="#0c2f52" stroke-width="1.3"/>
<circle cx="265.4" cy="312.6" r="4.8" fill="#0c2f52"/>
<line x1="293.7" y1="296.2" x2="293.7" y2="322.5" stroke="#e8378c" stroke-width="1.3"/>
<circle cx="293.7" cy="313.3" r="2.3" fill="#e8378c"/>
<line x1="301.8" y1="288.8" x2="301.8" y2="320.6" stroke="#3a52a4" stroke-width="1.3"/>
<circle cx="301.8" cy="302.2" r="2.3" fill="#3a52a4"/>
<line x1="309.7" y1="302.8" x2="309.7" y2="321.9" stroke="#8ccbe0" stroke-width="1.3"/>
<circle cx="309.7" cy="313.8" r="2.3" fill="#8ccbe0"/>
<line x1="317.8" y1="290.9" x2="317.8" y2="324.6" stroke="#d196c4" stroke-width="1.3"/>
<circle cx="317.8" cy="309.9" r="2.3" fill="#d196c4"/>
<line x1="326" y1="300.9" x2="326" y2="320.6" stroke="#16918f" stroke-width="1.3"/>
<circle cx="326" cy="308.8" r="2.3" fill="#16918f"/>
<line x1="333.9" y1="291.5" x2="333.9" y2="321.2" stroke="#6a4c9c" stroke-width="1.3"/>
<circle cx="333.9" cy="308.8" r="2.3" fill="#6a4c9c"/>
<line x1="342" y1="266.5" x2="342" y2="315.1" stroke="#96cc96" stroke-width="1.3"/>
<circle cx="342" cy="303.6" r="2.3" fill="#96cc96"/>
<line x1="349.9" y1="272" x2="349.9" y2="319.3" stroke="#8b4a22" stroke-width="1.3"/>
<circle cx="349.9" cy="304.1" r="2.3" fill="#8b4a22"/>
<line x1="358" y1="279.9" x2="358" y2="305" stroke="#f3a43c" stroke-width="1.3"/>
<circle cx="358" cy="302.8" r="5.2" fill="#f3a43c"/>
<line x1="366.2" y1="260.7" x2="366.2" y2="313" stroke="#0c2f52" stroke-width="1.3"/>
<circle cx="366.2" cy="312.7" r="5" fill="#0c2f52"/>
<line x1="394.3" y1="286.2" x2="394.3" y2="321.2" stroke="#e8378c" stroke-width="1.3"/>
<circle cx="394.3" cy="316.7" r="2.3" fill="#e8378c"/>
<line x1="402.2" y1="289.6" x2="402.2" y2="323.8" stroke="#3a52a4" stroke-width="1.3"/>
<circle cx="402.2" cy="313.8" r="2.3" fill="#3a52a4"/>
<line x1="410.3" y1="287" x2="410.3" y2="323" stroke="#8ccbe0" stroke-width="1.3"/>
<circle cx="410.3" cy="317.2" r="2.3" fill="#8ccbe0"/>
<line x1="418.5" y1="269.1" x2="418.5" y2="324.6" stroke="#d196c4" stroke-width="1.3"/>
<circle cx="418.5" cy="318.8" r="2.3" fill="#d196c4"/>
<line x1="426.3" y1="294.9" x2="426.3" y2="320.6" stroke="#16918f" stroke-width="1.3"/>
<circle cx="426.3" cy="312.7" r="2.3" fill="#16918f"/>
<line x1="434.5" y1="304.1" x2="434.5" y2="321.9" stroke="#6a4c9c" stroke-width="1.3"/>
<circle cx="434.5" cy="312.7" r="2.3" fill="#6a4c9c"/>
<line x1="442.6" y1="269.1" x2="442.6" y2="313.3" stroke="#96cc96" stroke-width="1.3"/>
<circle cx="442.6" cy="296.7" r="6" fill="#96cc96"/>
<line x1="450.8" y1="272.5" x2="450.8" y2="310.1" stroke="#8b4a22" stroke-width="1.3"/>
<circle cx="450.8" cy="299.3" r="5" fill="#8b4a22"/>
<line x1="458.5" y1="232.2" x2="458.5" y2="306.5" stroke="#f3a43c" stroke-width="1.3"/>
<circle cx="458.5" cy="279.5" r="6.4" fill="#f3a43c"/>
<line x1="466.8" y1="285.7" x2="466.8" y2="312.7" stroke="#0c2f52" stroke-width="1.3"/>
<circle cx="466.8" cy="302.8" r="6.3" fill="#0c2f52"/>
<line x1="494.7" y1="276.5" x2="494.7" y2="312.5" stroke="#e8378c" stroke-width="1.3"/>
<circle cx="494.7" cy="287.8" r="5" fill="#e8378c"/>
<line x1="502.5" y1="279.9" x2="502.5" y2="310.6" stroke="#3a52a4" stroke-width="1.3"/>
<circle cx="502.5" cy="297.5" r="6" fill="#3a52a4"/>
<line x1="510.9" y1="260.2" x2="510.9" y2="312" stroke="#8ccbe0" stroke-width="1.3"/>
<circle cx="510.9" cy="293.6" r="5" fill="#8ccbe0"/>
<line x1="518.8" y1="260.7" x2="518.8" y2="312.5" stroke="#d196c4" stroke-width="1.3"/>
<circle cx="518.8" cy="283.8" r="5" fill="#d196c4"/>
<line x1="527" y1="288" x2="527" y2="310.6" stroke="#16918f" stroke-width="1.3"/>
<circle cx="527" cy="294.9" r="5" fill="#16918f"/>
<line x1="535.1" y1="298.8" x2="535.1" y2="317.7" stroke="#6a4c9c" stroke-width="1.3"/>
<circle cx="535.1" cy="304.1" r="4.5" fill="#6a4c9c"/>
<line x1="543.3" y1="271.8" x2="543.3" y2="310.6" stroke="#96cc96" stroke-width="1.3"/>
<circle cx="543.3" cy="296.7" r="6" fill="#96cc96"/>
<line x1="551.1" y1="268.6" x2="551.1" y2="306.2" stroke="#8b4a22" stroke-width="1.3"/>
<circle cx="551.1" cy="292.8" r="6.4" fill="#8b4a22"/>
<line x1="559.5" y1="246.3" x2="559.5" y2="304.6" stroke="#f3a43c" stroke-width="1.3"/>
<circle cx="559.5" cy="289.6" r="6.4" fill="#f3a43c"/>
<line x1="567.4" y1="285.2" x2="567.4" y2="317.7" stroke="#0c2f52" stroke-width="1.3"/>
<circle cx="567.4" cy="304.6" r="4.5" fill="#0c2f52"/>
<text x="127.6" y="338.2" font-size="8.9" text-anchor="middle">NS/NS</text>
<text x="127.6" y="349.6" font-size="8.9" text-anchor="middle">(cluster 7)</text>
<text x="228.5" y="338.2" font-size="8.9" text-anchor="middle">Mild</text>
<text x="228.5" y="349.6" font-size="8.9" text-anchor="middle">(clusters 1 + 6)</text>
<text x="331.5" y="338.2" font-size="8.9" text-anchor="middle">Moderate</text>
<text x="331.5" y="349.6" font-size="8.9" text-anchor="middle">(clusters 2 + 5)</text>
<text x="431.7" y="338.2" font-size="8.9" text-anchor="middle">Severe LS</text>
<text x="431.7" y="349.6" font-size="8.9" text-anchor="middle">(cluster 3)</text>
<text x="537" y="338.2" font-size="8.9" text-anchor="middle">Severe HS</text>
<text x="537" y="349.6" font-size="8.9" text-anchor="middle">(cluster 4)</text>
<text x="625.4" y="264.3" font-size="8.6">FDR</text>
<circle cx="625.4" cy="276.8" r="2.1" fill="#58595b"/>
<text x="638.8" y="279.6" font-size="8">NS</text>
<circle cx="625.4" cy="290.2" r="5.1" fill="#58595b"/>
<text x="638.8" y="293.2" font-size="8">&lt; 0.05</text>
<circle cx="625.4" cy="304.1" r="6.4" fill="#58595b"/>
<text x="638.8" y="307" font-size="8">&lt; 0.01</text>
<circle cx="625.4" cy="320.4" r="7.9" fill="#58595b"/>
<text x="638.8" y="323.3" font-size="8">&lt; 0.001</text>
<text x="-1.2" y="366.5" font-size="14" fill="#111" font-weight="bold" stroke="#111" stroke-width="0.55">d</text>
<line x1="178.7" y1="359.2" x2="178.7" y2="372.4" stroke="#e8303e" stroke-width="1.3"/>
<circle cx="178.7" cy="365.8" r="2.5" fill="#e8303e"/>
<text x="185.4" y="368" font-size="8.3">gCap<tspan font-size="4.8" dy="2">tip</tspan></text>
<line x1="223" y1="359.2" x2="223" y2="372.4" stroke="#2c7bbf" stroke-width="1.3"/>
<circle cx="223" cy="365.8" r="2.5" fill="#2c7bbf"/>
<text x="231.2" y="368" font-size="8.3">Aerocyte</text>
<line x1="273.6" y1="359.2" x2="273.6" y2="372.4" stroke="#e0a22e" stroke-width="1.3"/>
<circle cx="273.6" cy="365.8" r="2.5" fill="#e0a22e"/>
<text x="280.8" y="368" font-size="8.3">AT1</text>
<line x1="304.9" y1="359.2" x2="304.9" y2="372.4" stroke="#ea8078" stroke-width="1.3"/>
<circle cx="304.9" cy="365.8" r="2.5" fill="#ea8078"/>
<text x="312.1" y="368" font-size="8.3">Sec<tspan font-size="4.8" dy="2">SCGB3A2</tspan></text>
<line x1="358.8" y1="359.2" x2="358.8" y2="372.4" stroke="#d7b68e" stroke-width="1.3"/>
<circle cx="358.8" cy="365.8" r="2.5" fill="#d7b68e"/>
<text x="365.6" y="368" font-size="8.3">Myofibroblast</text>
<line x1="426.7" y1="359.2" x2="426.7" y2="372.4" stroke="#138f4c" stroke-width="1.3"/>
<circle cx="426.7" cy="365.8" r="2.5" fill="#138f4c"/>
<text x="434" y="368" font-size="8.3">Fibroblast<tspan font-size="4.8" dy="2">PB</tspan></text>
<line x1="487" y1="359.2" x2="487" y2="372.4" stroke="#8c4a1e" stroke-width="1.3"/>
<circle cx="487" cy="365.8" r="2.5" fill="#8c4a1e"/>
<text x="493.7" y="368" font-size="8.3">AM<tspan font-size="4.8" dy="2">CSF</tspan></text>
<line x1="64.4" y1="456.8" x2="595" y2="456.8" stroke="#f5f5f5" stroke-width="0.5"/>
<line x1="64.4" y1="436.4" x2="595" y2="436.4" stroke="#f5f5f5" stroke-width="0.5"/>
<line x1="64.4" y1="416" x2="595" y2="416" stroke="#f5f5f5" stroke-width="0.5"/>
<line x1="64.4" y1="395.6" x2="595" y2="395.6" stroke="#f5f5f5" stroke-width="0.5"/>
<line x1="64.4" y1="375.2" x2="595" y2="375.2" stroke="#f5f5f5" stroke-width="0.5"/>
<line x1="64.4" y1="467" x2="595" y2="467" stroke="#ebebeb" stroke-width="0.7"/>
<text x="61.5" y="469.9" font-size="8.2" text-anchor="end" fill="#4d4d4d">0</text>
<line x1="64.4" y1="446.6" x2="595" y2="446.6" stroke="#ebebeb" stroke-width="0.7"/>
<text x="61.5" y="449.5" font-size="8.2" text-anchor="end" fill="#4d4d4d">0.5</text>
<line x1="64.4" y1="426.2" x2="595" y2="426.2" stroke="#ebebeb" stroke-width="0.7"/>
<text x="61.5" y="429.1" font-size="8.2" text-anchor="end" fill="#4d4d4d">1.0</text>
<line x1="64.4" y1="405.8" x2="595" y2="405.8" stroke="#ebebeb" stroke-width="0.7"/>
<text x="61.5" y="408.7" font-size="8.2" text-anchor="end" fill="#4d4d4d">1.5</text>
<line x1="64.4" y1="385.4" x2="595" y2="385.4" stroke="#ebebeb" stroke-width="0.7"/>
<text x="61.5" y="388.3" font-size="8.2" text-anchor="end" fill="#4d4d4d">2.0</text>
<line x1="126.4" y1="374.5" x2="126.4" y2="471" stroke="#ebebeb" stroke-width="0.7"/>
<line x1="228.3" y1="374.5" x2="228.3" y2="471" stroke="#ebebeb" stroke-width="0.7"/>
<line x1="330.6" y1="374.5" x2="330.6" y2="471" stroke="#ebebeb" stroke-width="0.7"/>
<line x1="432.5" y1="374.5" x2="432.5" y2="471" stroke="#ebebeb" stroke-width="0.7"/>
<line x1="534.5" y1="374.5" x2="534.5" y2="471" stroke="#ebebeb" stroke-width="0.7"/>
<text x="37.8" y="417.6" font-size="9.2" text-anchor="middle" transform="rotate(-90 37.8 417.6)">FC (median, IQR)</text>
<line x1="91.4" y1="372.9" x2="91.4" y2="433.6" stroke="#e8303e" stroke-width="1.3"/>
<circle cx="91.4" cy="426.3" r="2.3" fill="#e8303e"/>
<line x1="103" y1="415" x2="103" y2="441.5" stroke="#2c7bbf" stroke-width="1.3"/>
<circle cx="103" cy="426.3" r="2.3" fill="#2c7bbf"/>
<line x1="114.6" y1="417.9" x2="114.6" y2="432.8" stroke="#e0a22e" stroke-width="1.3"/>
<circle cx="114.6" cy="426.3" r="2.3" fill="#e0a22e"/>
<line x1="126.4" y1="423.6" x2="126.4" y2="447.8" stroke="#ea8078" stroke-width="1.3"/>
<circle cx="126.4" cy="426.3" r="2.3" fill="#ea8078"/>
<line x1="137.9" y1="398.4" x2="137.9" y2="432.8" stroke="#138f4c" stroke-width="1.3"/>
<circle cx="137.9" cy="426.3" r="2.3" fill="#138f4c"/>
<line x1="149.8" y1="409.2" x2="149.8" y2="442.6" stroke="#d7b68e" stroke-width="1.3"/>
<circle cx="149.8" cy="426.3" r="2.3" fill="#d7b68e"/>
<line x1="161.3" y1="418.9" x2="161.3" y2="434.7" stroke="#8c4a1e" stroke-width="1.3"/>
<circle cx="161.3" cy="426.3" r="2.3" fill="#8c4a1e"/>
<line x1="193.4" y1="378.7" x2="193.4" y2="467.2" stroke="#e8303e" stroke-width="1.3"/>
<circle cx="193.4" cy="419.4" r="2.3" fill="#e8303e"/>
<line x1="204.9" y1="425.2" x2="204.9" y2="446.7" stroke="#2c7bbf" stroke-width="1.3"/>
<circle cx="204.9" cy="434.1" r="2.3" fill="#2c7bbf"/>
<line x1="216.5" y1="421.8" x2="216.5" y2="434.4" stroke="#e0a22e" stroke-width="1.3"/>
<circle cx="216.5" cy="427.8" r="2.3" fill="#e0a22e"/>
<line x1="228.3" y1="419.1" x2="228.3" y2="440.9" stroke="#ea8078" stroke-width="1.3"/>
<circle cx="228.3" cy="433.3" r="2.3" fill="#ea8078"/>
<line x1="239.9" y1="377.4" x2="239.9" y2="441.5" stroke="#138f4c" stroke-width="1.3"/>
<circle cx="239.9" cy="420.7" r="2.3" fill="#138f4c"/>
<line x1="251.7" y1="404.9" x2="251.7" y2="447.5" stroke="#d7b68e" stroke-width="1.3"/>
<circle cx="251.7" cy="435.2" r="2.3" fill="#d7b68e"/>
<line x1="263" y1="422" x2="263" y2="448.3" stroke="#8c4a1e" stroke-width="1.3"/>
<circle cx="263" cy="435.2" r="5" fill="#8c4a1e"/>
<line x1="295.3" y1="401.5" x2="295.3" y2="467.2" stroke="#e8303e" stroke-width="1.3"/>
<circle cx="295.3" cy="431.7" r="2.3" fill="#e8303e"/>
<line x1="306.6" y1="441" x2="306.6" y2="454.6" stroke="#2c7bbf" stroke-width="1.3"/>
<circle cx="306.6" cy="441.5" r="5" fill="#2c7bbf"/>
<line x1="318.4" y1="423.9" x2="318.4" y2="437" stroke="#e0a22e" stroke-width="1.3"/>
<circle cx="318.4" cy="427.8" r="2.3" fill="#e0a22e"/>
<line x1="330.3" y1="429.9" x2="330.3" y2="447.5" stroke="#ea8078" stroke-width="1.3"/>
<circle cx="330.3" cy="442.3" r="2.3" fill="#ea8078"/>
<line x1="341.9" y1="396.3" x2="341.9" y2="448.8" stroke="#138f4c" stroke-width="1.3"/>
<circle cx="341.9" cy="441.5" r="2.3" fill="#138f4c"/>
<line x1="353.4" y1="405.5" x2="353.4" y2="446.7" stroke="#d7b68e" stroke-width="1.3"/>
<circle cx="353.4" cy="437.8" r="2.3" fill="#d7b68e"/>
<line x1="365.2" y1="408.6" x2="365.2" y2="445.4" stroke="#8c4a1e" stroke-width="1.3"/>
<circle cx="365.2" cy="419.9" r="2.3" fill="#8c4a1e"/>
<line x1="397" y1="417.8" x2="397" y2="467.2" stroke="#e8303e" stroke-width="1.3"/>
<circle cx="397" cy="444.9" r="5" fill="#e8303e"/>
<line x1="408.8" y1="433.8" x2="408.8" y2="452" stroke="#2c7bbf" stroke-width="1.3"/>
<circle cx="408.8" cy="443.6" r="5" fill="#2c7bbf"/>
<line x1="420.4" y1="425.2" x2="420.4" y2="434.4" stroke="#e0a22e" stroke-width="1.3"/>
<circle cx="420.4" cy="430.4" r="2.3" fill="#e0a22e"/>
<line x1="432.2" y1="425.2" x2="432.2" y2="448" stroke="#ea8078" stroke-width="1.3"/>
<circle cx="432.2" cy="434.4" r="2.3" fill="#ea8078"/>
<line x1="443.8" y1="418.1" x2="443.8" y2="448.8" stroke="#138f4c" stroke-width="1.3"/>
<circle cx="443.8" cy="435.7" r="5" fill="#138f4c"/>
<line x1="455.3" y1="423.9" x2="455.3" y2="450.7" stroke="#d7b68e" stroke-width="1.3"/>
<circle cx="455.3" cy="437.5" r="2.3" fill="#d7b68e"/>
<line x1="467.1" y1="416" x2="467.1" y2="449.6" stroke="#8c4a1e" stroke-width="1.3"/>
<circle cx="467.1" cy="438.8" r="5" fill="#8c4a1e"/>
<line x1="498.9" y1="433.8" x2="498.9" y2="466.7" stroke="#e8303e" stroke-width="1.3"/>
<circle cx="498.9" cy="449.3" r="6.2" fill="#e8303e"/>
<line x1="510.5" y1="429.3" x2="510.5" y2="450.2" stroke="#2c7bbf" stroke-width="1.3"/>
<circle cx="510.5" cy="442.4" r="6" fill="#2c7bbf"/>
<line x1="522.2" y1="431" x2="522.2" y2="437.3" stroke="#e0a22e" stroke-width="1.3"/>
<circle cx="522.2" cy="431.4" r="5" fill="#e0a22e"/>
<line x1="533.9" y1="431.4" x2="533.9" y2="448.4" stroke="#ea8078" stroke-width="1.3"/>
<circle cx="533.9" cy="441.2" r="6" fill="#ea8078"/>
<line x1="545.5" y1="418.5" x2="545.5" y2="466.7" stroke="#138f4c" stroke-width="1.3"/>
<circle cx="545.5" cy="444.8" r="6" fill="#138f4c"/>
<line x1="557.2" y1="431.4" x2="557.2" y2="460.7" stroke="#d7b68e" stroke-width="1.3"/>
<circle cx="557.2" cy="445.4" r="6" fill="#d7b68e"/>
<line x1="568.9" y1="403.5" x2="568.9" y2="436.4" stroke="#8c4a1e" stroke-width="1.3"/>
<circle cx="568.9" cy="415.5" r="2.2" fill="#8c4a1e"/>
<text x="126.3" y="480.3" font-size="8.9" text-anchor="middle">NS/NS</text>
<text x="126.3" y="491.5" font-size="8.9" text-anchor="middle">(cluster 7)</text>
<text x="226.8" y="480.3" font-size="8.9" text-anchor="middle">Mild</text>
<text x="226.8" y="491.5" font-size="8.9" text-anchor="middle">(clusters 1 + 6)</text>
<text x="330" y="480.3" font-size="8.9" text-anchor="middle">Moderate</text>
<text x="330" y="491.5" font-size="8.9" text-anchor="middle">(clusters 2 + 5)</text>
<text x="431.7" y="480.3" font-size="8.9" text-anchor="middle">Severe LS</text>
<text x="431.7" y="491.5" font-size="8.9" text-anchor="middle">(cluster 3)</text>
<text x="535.4" y="480.3" font-size="8.9" text-anchor="middle">Severe HS</text>
<text x="535.4" y="491.5" font-size="8.9" text-anchor="middle">(cluster 4)</text>
<text x="626.7" y="390.4" font-size="8.6">FDR</text>
<circle cx="626.7" cy="402.9" r="1.9" fill="#58595b"/>
<text x="640.1" y="405.2" font-size="8">NS</text>
<circle cx="626.7" cy="416.4" r="4.5" fill="#58595b"/>
<text x="640.1" y="419" font-size="8">&lt; 0.05</text>
<circle cx="626.7" cy="430.2" r="6.5" fill="#58595b"/>
<text x="640.1" y="432.6" font-size="8">&lt; 0.01</text>
<circle cx="626.7" cy="446.3" r="8.1" fill="#58595b"/>
<text x="640.1" y="449" font-size="8">&lt; 0.001</text>
<text x="5" y="515.3" font-size="14" fill="#111" font-weight="bold" stroke="#111" stroke-width="0.55">e</text>
<text x="16" y="521.2" font-size="10" fill="#222">Cell proportion similarity matrix</text>
<path fill="#e41e2e" shape-rendering="crispEdges" d="M14.4 544.7h4.2v8.4h-4.2zM18.5 553h4.2v8.4h-4.2zM22.6 561.4h4.2v8.4h-4.2zM26.8 569.7h4.2v8.4h-4.2zM30.9 578h4.2v8.4h-4.2zM35 586.4h4.2v8.4h-4.2zM39.1 594.7h4.2v8.4h-4.2zM43.2 603h4.2v8.4h-4.2zM47.3 611.4h4.2v8.4h-4.2zM51.4 619.7h4.2v8.4h-4.2zM55.6 628h4.2v8.4h-4.2zM59.7 636.4h4.2v8.4h-4.2zM63.8 644.7h4.2v8.4h-4.2zM67.9 653h4.2v8.4h-4.2zM72 661.4h4.2v8.4h-4.2zM76.1 669.7h4.2v8.4h-4.2zM80.3 678h4.2v8.4h-4.2zM84.4 686.4h4.2v8.4h-4.2zM88.5 694.7h4.2v8.4h-4.2zM92.6 703h4.2v8.4h-4.2zM96.7 711.4h4.2v8.4h-4.2zM100.8 719.7h4.2v8.4h-4.2zM105 728h4.2v8.4h-4.2zM109.1 736.4h4.2v8.4h-4.2zM113.2 744.7h4.2v8.4h-4.2zM117.3 753h4.2v8.4h-4.2zM121.4 761.4h4.2v8.4h-4.2zM125.5 769.7h4.2v8.4h-4.2zM129.7 778h4.2v8.4h-4.2zM133.8 786.4h4.2v8.4h-4.2zM137.9 794.7h4.2v8.4h-4.2zM142 803h4.2v8.4h-4.2zM146.1 811.4h4.2v8.4h-4.2zM150.2 819.7h4.2v8.4h-4.2zM154.4 828h4.2v8.4h-4.2zM158.5 836.4h4.2v8.4h-4.2z"/>
<path fill="#f2a090" shape-rendering="crispEdges" d="M18.5 544.7h4.2v8.4h-4.2zM39.1 544.7h4.2v8.4h-4.2zM55.6 544.7h4.2v8.4h-4.2zM63.8 544.7h4.2v8.4h-4.2zM14.4 553h4.2v8.4h-4.2zM88.5 553h4.2v8.4h-4.2zM92.6 553h4.2v8.4h-4.2zM96.7 553h4.2v8.4h-4.2zM51.4 561.4h4.2v8.4h-4.2zM67.9 561.4h4.2v8.4h-4.2zM92.6 569.7h4.2v8.4h-4.2zM51.4 578h4.2v8.4h-4.2zM72 578h4.2v8.4h-4.2zM55.6 586.4h4.2v8.4h-4.2zM14.4 594.7h4.2v8.4h-4.2zM51.4 594.7h4.2v8.4h-4.2zM55.6 594.7h4.2v8.4h-4.2zM63.8 594.7h4.2v8.4h-4.2zM80.3 603h4.2v8.4h-4.2zM51.4 611.4h4.2v8.4h-4.2zM100.8 611.4h4.2v8.4h-4.2zM22.6 619.7h4.2v8.4h-4.2zM30.9 619.7h4.2v8.4h-4.2zM39.1 619.7h4.2v8.4h-4.2zM47.3 619.7h4.2v8.4h-4.2zM14.4 628h4.2v8.4h-4.2zM35 628h4.2v8.4h-4.2zM39.1 628h4.2v8.4h-4.2zM59.7 628h4.2v8.4h-4.2zM67.9 628h4.2v8.4h-4.2zM55.6 636.4h4.2v8.4h-4.2zM63.8 636.4h4.2v8.4h-4.2zM14.4 644.7h4.2v8.4h-4.2zM39.1 644.7h4.2v8.4h-4.2zM59.7 644.7h4.2v8.4h-4.2zM67.9 644.7h4.2v8.4h-4.2zM22.6 653h4.2v8.4h-4.2zM55.6 653h4.2v8.4h-4.2zM63.8 653h4.2v8.4h-4.2zM72 653h4.2v8.4h-4.2zM30.9 661.4h4.2v8.4h-4.2zM67.9 661.4h4.2v8.4h-4.2zM92.6 661.4h4.2v8.4h-4.2zM43.2 678h4.2v8.4h-4.2zM18.5 694.7h4.2v8.4h-4.2zM18.5 703h4.2v8.4h-4.2zM26.8 703h4.2v8.4h-4.2zM72 703h4.2v8.4h-4.2zM18.5 711.4h4.2v8.4h-4.2zM47.3 719.7h4.2v8.4h-4.2zM129.7 769.7h4.2v8.4h-4.2zM125.5 778h4.2v8.4h-4.2zM150.2 811.4h4.2v8.4h-4.2zM146.1 819.7h4.2v8.4h-4.2zM154.4 819.7h4.2v8.4h-4.2zM150.2 828h4.2v8.4h-4.2z"/>
<path fill="#f19484" shape-rendering="crispEdges" d="M22.6 544.7h4.2v8.4h-4.2zM43.2 544.7h4.2v8.4h-4.2zM80.3 544.7h4.2v8.4h-4.2zM63.8 553h4.2v8.4h-4.2zM72 553h4.2v8.4h-4.2zM14.4 561.4h4.2v8.4h-4.2zM55.6 561.4h4.2v8.4h-4.2zM72 561.4h4.2v8.4h-4.2zM92.6 561.4h4.2v8.4h-4.2zM88.5 569.7h4.2v8.4h-4.2zM55.6 578h4.2v8.4h-4.2zM84.4 578h4.2v8.4h-4.2zM92.6 586.4h4.2v8.4h-4.2zM67.9 594.7h4.2v8.4h-4.2zM88.5 594.7h4.2v8.4h-4.2zM14.4 603h4.2v8.4h-4.2zM63.8 611.4h4.2v8.4h-4.2zM105 611.4h4.2v8.4h-4.2zM22.6 628h4.2v8.4h-4.2zM30.9 628h4.2v8.4h-4.2zM63.8 628h4.2v8.4h-4.2zM18.5 644.7h4.2v8.4h-4.2zM47.3 644.7h4.2v8.4h-4.2zM55.6 644.7h4.2v8.4h-4.2zM39.1 653h4.2v8.4h-4.2zM18.5 661.4h4.2v8.4h-4.2zM22.6 661.4h4.2v8.4h-4.2zM14.4 678h4.2v8.4h-4.2zM30.9 686.4h4.2v8.4h-4.2zM26.8 694.7h4.2v8.4h-4.2zM39.1 694.7h4.2v8.4h-4.2zM22.6 703h4.2v8.4h-4.2zM35 703h4.2v8.4h-4.2zM96.7 703h4.2v8.4h-4.2zM92.6 711.4h4.2v8.4h-4.2zM100.8 711.4h4.2v8.4h-4.2zM96.7 719.7h4.2v8.4h-4.2zM47.3 728h4.2v8.4h-4.2zM133.8 778h4.2v8.4h-4.2zM129.7 786.4h4.2v8.4h-4.2zM146.1 803h4.2v8.4h-4.2zM142 811.4h4.2v8.4h-4.2zM158.5 828h4.2v8.4h-4.2zM154.4 836.4h4.2v8.4h-4.2z"/>
<path fill="#f4b3a6" shape-rendering="crispEdges" d="M26.8 544.7h4.2v8.4h-4.2zM84.4 553h4.2v8.4h-4.2zM80.3 561.4h4.2v8.4h-4.2zM88.5 561.4h4.2v8.4h-4.2zM14.4 569.7h4.2v8.4h-4.2zM67.9 569.7h4.2v8.4h-4.2zM72 569.7h4.2v8.4h-4.2zM84.4 569.7h4.2v8.4h-4.2zM92.6 578h4.2v8.4h-4.2zM105 578h4.2v8.4h-4.2zM76.1 586.4h4.2v8.4h-4.2zM80.3 586.4h4.2v8.4h-4.2zM63.8 603h4.2v8.4h-4.2zM67.9 603h4.2v8.4h-4.2zM72 603h4.2v8.4h-4.2zM76.1 603h4.2v8.4h-4.2zM92.6 603h4.2v8.4h-4.2zM100.8 603h4.2v8.4h-4.2zM67.9 611.4h4.2v8.4h-4.2zM72 611.4h4.2v8.4h-4.2zM96.7 611.4h4.2v8.4h-4.2zM125.5 611.4h4.2v8.4h-4.2zM55.6 619.7h4.2v8.4h-4.2zM51.4 628h4.2v8.4h-4.2zM88.5 628h4.2v8.4h-4.2zM92.6 628h4.2v8.4h-4.2zM100.8 628h4.2v8.4h-4.2zM43.2 644.7h4.2v8.4h-4.2zM26.8 653h4.2v8.4h-4.2zM43.2 653h4.2v8.4h-4.2zM47.3 653h4.2v8.4h-4.2zM26.8 661.4h4.2v8.4h-4.2zM43.2 661.4h4.2v8.4h-4.2zM47.3 661.4h4.2v8.4h-4.2zM76.1 661.4h4.2v8.4h-4.2zM88.5 661.4h4.2v8.4h-4.2zM35 669.7h4.2v8.4h-4.2zM43.2 669.7h4.2v8.4h-4.2zM72 669.7h4.2v8.4h-4.2zM22.6 678h4.2v8.4h-4.2zM35 678h4.2v8.4h-4.2zM84.4 678h4.2v8.4h-4.2zM18.5 686.4h4.2v8.4h-4.2zM26.8 686.4h4.2v8.4h-4.2zM80.3 686.4h4.2v8.4h-4.2zM100.8 686.4h4.2v8.4h-4.2zM22.6 694.7h4.2v8.4h-4.2zM55.6 694.7h4.2v8.4h-4.2zM72 694.7h4.2v8.4h-4.2zM100.8 694.7h4.2v8.4h-4.2zM30.9 703h4.2v8.4h-4.2zM43.2 703h4.2v8.4h-4.2zM55.6 703h4.2v8.4h-4.2zM47.3 711.4h4.2v8.4h-4.2zM43.2 719.7h4.2v8.4h-4.2zM55.6 719.7h4.2v8.4h-4.2zM84.4 719.7h4.2v8.4h-4.2zM88.5 719.7h4.2v8.4h-4.2zM30.9 728h4.2v8.4h-4.2zM117.3 728h4.2v8.4h-4.2zM117.3 744.7h4.2v8.4h-4.2zM105 753h4.2v8.4h-4.2zM113.2 753h4.2v8.4h-4.2zM47.3 769.7h4.2v8.4h-4.2z"/>
<path fill="#f4bdb0" shape-rendering="crispEdges" d="M30.9 544.7h4.2v8.4h-4.2zM47.3 544.7h4.2v8.4h-4.2zM59.7 544.7h4.2v8.4h-4.2zM72 544.7h4.2v8.4h-4.2zM59.7 553h4.2v8.4h-4.2zM105 553h4.2v8.4h-4.2zM59.7 561.4h4.2v8.4h-4.2zM150.2 561.4h4.2v8.4h-4.2zM76.1 569.7h4.2v8.4h-4.2zM100.8 569.7h4.2v8.4h-4.2zM105 569.7h4.2v8.4h-4.2zM125.5 569.7h4.2v8.4h-4.2zM129.7 569.7h4.2v8.4h-4.2zM14.4 578h4.2v8.4h-4.2zM80.3 578h4.2v8.4h-4.2zM72 594.7h4.2v8.4h-4.2zM80.3 594.7h4.2v8.4h-4.2zM96.7 594.7h4.2v8.4h-4.2zM100.8 594.7h4.2v8.4h-4.2zM105 594.7h4.2v8.4h-4.2zM125.5 594.7h4.2v8.4h-4.2zM51.4 603h4.2v8.4h-4.2zM96.7 603h4.2v8.4h-4.2zM14.4 611.4h4.2v8.4h-4.2zM76.1 611.4h4.2v8.4h-4.2zM80.3 611.4h4.2v8.4h-4.2zM88.5 611.4h4.2v8.4h-4.2zM92.6 611.4h4.2v8.4h-4.2zM43.2 619.7h4.2v8.4h-4.2zM59.7 619.7h4.2v8.4h-4.2zM76.1 619.7h4.2v8.4h-4.2zM80.3 619.7h4.2v8.4h-4.2zM100.8 619.7h4.2v8.4h-4.2zM72 628h4.2v8.4h-4.2zM80.3 628h4.2v8.4h-4.2zM14.4 636.4h4.2v8.4h-4.2zM18.5 636.4h4.2v8.4h-4.2zM22.6 636.4h4.2v8.4h-4.2zM51.4 636.4h4.2v8.4h-4.2zM80.3 636.4h4.2v8.4h-4.2zM88.5 636.4h4.2v8.4h-4.2zM80.3 644.7h4.2v8.4h-4.2zM96.7 644.7h4.2v8.4h-4.2zM76.1 653h4.2v8.4h-4.2zM84.4 653h4.2v8.4h-4.2zM96.7 653h4.2v8.4h-4.2zM14.4 661.4h4.2v8.4h-4.2zM39.1 661.4h4.2v8.4h-4.2zM55.6 661.4h4.2v8.4h-4.2zM84.4 661.4h4.2v8.4h-4.2zM109.1 661.4h4.2v8.4h-4.2zM26.8 669.7h4.2v8.4h-4.2zM47.3 669.7h4.2v8.4h-4.2zM51.4 669.7h4.2v8.4h-4.2zM67.9 669.7h4.2v8.4h-4.2zM92.6 669.7h4.2v8.4h-4.2zM30.9 678h4.2v8.4h-4.2zM39.1 678h4.2v8.4h-4.2zM47.3 678h4.2v8.4h-4.2zM51.4 678h4.2v8.4h-4.2zM55.6 678h4.2v8.4h-4.2zM59.7 678h4.2v8.4h-4.2zM63.8 678h4.2v8.4h-4.2zM67.9 686.4h4.2v8.4h-4.2zM72 686.4h4.2v8.4h-4.2zM88.5 686.4h4.2v8.4h-4.2zM47.3 694.7h4.2v8.4h-4.2zM59.7 694.7h4.2v8.4h-4.2zM84.4 694.7h4.2v8.4h-4.2zM47.3 703h4.2v8.4h-4.2zM76.1 703h4.2v8.4h-4.2zM39.1 711.4h4.2v8.4h-4.2zM43.2 711.4h4.2v8.4h-4.2zM63.8 711.4h4.2v8.4h-4.2zM67.9 711.4h4.2v8.4h-4.2zM26.8 719.7h4.2v8.4h-4.2zM39.1 719.7h4.2v8.4h-4.2zM51.4 719.7h4.2v8.4h-4.2zM18.5 728h4.2v8.4h-4.2zM26.8 728h4.2v8.4h-4.2zM39.1 728h4.2v8.4h-4.2zM72 736.4h4.2v8.4h-4.2zM113.2 736.4h4.2v8.4h-4.2zM109.1 744.7h4.2v8.4h-4.2zM26.8 769.7h4.2v8.4h-4.2zM39.1 769.7h4.2v8.4h-4.2zM26.8 778h4.2v8.4h-4.2zM22.6 819.7h4.2v8.4h-4.2z"/>
<path fill="#f3aa9b" shape-rendering="crispEdges" d="M35 544.7h4.2v8.4h-4.2zM67.9 544.7h4.2v8.4h-4.2zM51.4 553h4.2v8.4h-4.2zM67.9 553h4.2v8.4h-4.2zM76.1 553h4.2v8.4h-4.2zM80.3 553h4.2v8.4h-4.2zM63.8 561.4h4.2v8.4h-4.2zM76.1 561.4h4.2v8.4h-4.2zM96.7 561.4h4.2v8.4h-4.2zM59.7 569.7h4.2v8.4h-4.2zM80.3 569.7h4.2v8.4h-4.2zM63.8 578h4.2v8.4h-4.2zM100.8 578h4.2v8.4h-4.2zM14.4 586.4h4.2v8.4h-4.2zM51.4 586.4h4.2v8.4h-4.2zM72 586.4h4.2v8.4h-4.2zM88.5 586.4h4.2v8.4h-4.2zM96.7 586.4h4.2v8.4h-4.2zM59.7 594.7h4.2v8.4h-4.2zM92.6 594.7h4.2v8.4h-4.2zM84.4 603h4.2v8.4h-4.2zM88.5 603h4.2v8.4h-4.2zM18.5 619.7h4.2v8.4h-4.2zM35 619.7h4.2v8.4h-4.2zM72 619.7h4.2v8.4h-4.2zM92.6 619.7h4.2v8.4h-4.2zM26.8 636.4h4.2v8.4h-4.2zM39.1 636.4h4.2v8.4h-4.2zM84.4 636.4h4.2v8.4h-4.2zM22.6 644.7h4.2v8.4h-4.2zM30.9 644.7h4.2v8.4h-4.2zM84.4 644.7h4.2v8.4h-4.2zM14.4 653h4.2v8.4h-4.2zM18.5 653h4.2v8.4h-4.2zM35 661.4h4.2v8.4h-4.2zM51.4 661.4h4.2v8.4h-4.2zM18.5 669.7h4.2v8.4h-4.2zM22.6 669.7h4.2v8.4h-4.2zM80.3 669.7h4.2v8.4h-4.2zM18.5 678h4.2v8.4h-4.2zM26.8 678h4.2v8.4h-4.2zM76.1 678h4.2v8.4h-4.2zM88.5 678h4.2v8.4h-4.2zM43.2 686.4h4.2v8.4h-4.2zM59.7 686.4h4.2v8.4h-4.2zM63.8 686.4h4.2v8.4h-4.2zM35 694.7h4.2v8.4h-4.2zM43.2 694.7h4.2v8.4h-4.2zM80.3 694.7h4.2v8.4h-4.2zM39.1 703h4.2v8.4h-4.2zM51.4 703h4.2v8.4h-4.2zM22.6 711.4h4.2v8.4h-4.2zM35 711.4h4.2v8.4h-4.2zM30.9 719.7h4.2v8.4h-4.2zM105 719.7h4.2v8.4h-4.2zM100.8 728h4.2v8.4h-4.2zM109.1 728h4.2v8.4h-4.2zM105 736.4h4.2v8.4h-4.2z"/>
<path fill="#f6d0c6" shape-rendering="crispEdges" d="M51.4 544.7h4.2v8.4h-4.2zM92.6 544.7h4.2v8.4h-4.2zM109.1 553h4.2v8.4h-4.2zM59.7 578h4.2v8.4h-4.2zM109.1 586.4h4.2v8.4h-4.2zM129.7 586.4h4.2v8.4h-4.2zM129.7 594.7h4.2v8.4h-4.2zM105 603h4.2v8.4h-4.2zM129.7 603h4.2v8.4h-4.2zM84.4 611.4h4.2v8.4h-4.2zM129.7 611.4h4.2v8.4h-4.2zM14.4 619.7h4.2v8.4h-4.2zM67.9 619.7h4.2v8.4h-4.2zM129.7 619.7h4.2v8.4h-4.2zM105 628h4.2v8.4h-4.2zM113.2 628h4.2v8.4h-4.2zM30.9 636.4h4.2v8.4h-4.2zM96.7 636.4h4.2v8.4h-4.2zM125.5 636.4h4.2v8.4h-4.2zM129.7 636.4h4.2v8.4h-4.2zM72 644.7h4.2v8.4h-4.2zM88.5 644.7h4.2v8.4h-4.2zM92.6 644.7h4.2v8.4h-4.2zM105 644.7h4.2v8.4h-4.2zM51.4 653h4.2v8.4h-4.2zM80.3 653h4.2v8.4h-4.2zM92.6 653h4.2v8.4h-4.2zM63.8 661.4h4.2v8.4h-4.2zM100.8 669.7h4.2v8.4h-4.2zM150.2 669.7h4.2v8.4h-4.2zM67.9 678h4.2v8.4h-4.2zM47.3 686.4h4.2v8.4h-4.2zM92.6 686.4h4.2v8.4h-4.2zM96.7 686.4h4.2v8.4h-4.2zM63.8 694.7h4.2v8.4h-4.2zM96.7 694.7h4.2v8.4h-4.2zM109.1 694.7h4.2v8.4h-4.2zM14.4 703h4.2v8.4h-4.2zM63.8 703h4.2v8.4h-4.2zM67.9 703h4.2v8.4h-4.2zM84.4 703h4.2v8.4h-4.2zM100.8 703h4.2v8.4h-4.2zM59.7 711.4h4.2v8.4h-4.2zM84.4 711.4h4.2v8.4h-4.2zM88.5 711.4h4.2v8.4h-4.2zM121.4 711.4h4.2v8.4h-4.2zM76.1 719.7h4.2v8.4h-4.2zM92.6 719.7h4.2v8.4h-4.2zM43.2 728h4.2v8.4h-4.2zM55.6 728h4.2v8.4h-4.2zM63.8 728h4.2v8.4h-4.2zM18.5 736.4h4.2v8.4h-4.2zM35 736.4h4.2v8.4h-4.2zM88.5 736.4h4.2v8.4h-4.2zM133.8 736.4h4.2v8.4h-4.2zM55.6 744.7h4.2v8.4h-4.2zM129.7 744.7h4.2v8.4h-4.2zM96.7 761.4h4.2v8.4h-4.2zM59.7 769.7h4.2v8.4h-4.2zM35 778h4.2v8.4h-4.2zM39.1 778h4.2v8.4h-4.2zM43.2 778h4.2v8.4h-4.2zM47.3 778h4.2v8.4h-4.2zM51.4 778h4.2v8.4h-4.2zM59.7 778h4.2v8.4h-4.2zM113.2 778h4.2v8.4h-4.2zM109.1 786.4h4.2v8.4h-4.2zM154.4 794.7h4.2v8.4h-4.2zM76.1 819.7h4.2v8.4h-4.2zM137.9 828h4.2v8.4h-4.2z"/>
<path fill="#f5c6bb" shape-rendering="crispEdges" d="M76.1 544.7h4.2v8.4h-4.2zM84.4 544.7h4.2v8.4h-4.2zM88.5 544.7h4.2v8.4h-4.2zM96.7 544.7h4.2v8.4h-4.2zM100.8 544.7h4.2v8.4h-4.2zM100.8 553h4.2v8.4h-4.2zM100.8 561.4h4.2v8.4h-4.2zM121.4 561.4h4.2v8.4h-4.2zM63.8 569.7h4.2v8.4h-4.2zM96.7 569.7h4.2v8.4h-4.2zM109.1 569.7h4.2v8.4h-4.2zM67.9 578h4.2v8.4h-4.2zM129.7 578h4.2v8.4h-4.2zM59.7 586.4h4.2v8.4h-4.2zM63.8 586.4h4.2v8.4h-4.2zM67.9 586.4h4.2v8.4h-4.2zM100.8 586.4h4.2v8.4h-4.2zM117.3 586.4h4.2v8.4h-4.2zM125.5 586.4h4.2v8.4h-4.2zM76.1 594.7h4.2v8.4h-4.2zM125.5 603h4.2v8.4h-4.2zM59.7 611.4h4.2v8.4h-4.2zM63.8 619.7h4.2v8.4h-4.2zM88.5 619.7h4.2v8.4h-4.2zM76.1 628h4.2v8.4h-4.2zM84.4 628h4.2v8.4h-4.2zM96.7 628h4.2v8.4h-4.2zM35 636.4h4.2v8.4h-4.2zM47.3 636.4h4.2v8.4h-4.2zM76.1 636.4h4.2v8.4h-4.2zM92.6 636.4h4.2v8.4h-4.2zM26.8 644.7h4.2v8.4h-4.2zM35 644.7h4.2v8.4h-4.2zM51.4 644.7h4.2v8.4h-4.2zM76.1 644.7h4.2v8.4h-4.2zM30.9 653h4.2v8.4h-4.2zM35 653h4.2v8.4h-4.2zM88.5 653h4.2v8.4h-4.2zM100.8 653h4.2v8.4h-4.2zM80.3 661.4h4.2v8.4h-4.2zM100.8 661.4h4.2v8.4h-4.2zM14.4 669.7h4.2v8.4h-4.2zM39.1 669.7h4.2v8.4h-4.2zM55.6 669.7h4.2v8.4h-4.2zM59.7 669.7h4.2v8.4h-4.2zM63.8 669.7h4.2v8.4h-4.2zM88.5 669.7h4.2v8.4h-4.2zM105 669.7h4.2v8.4h-4.2zM72 678h4.2v8.4h-4.2zM150.2 678h4.2v8.4h-4.2zM14.4 686.4h4.2v8.4h-4.2zM55.6 686.4h4.2v8.4h-4.2zM14.4 694.7h4.2v8.4h-4.2zM51.4 694.7h4.2v8.4h-4.2zM67.9 694.7h4.2v8.4h-4.2zM76.1 694.7h4.2v8.4h-4.2zM59.7 703h4.2v8.4h-4.2zM14.4 711.4h4.2v8.4h-4.2zM26.8 711.4h4.2v8.4h-4.2zM55.6 711.4h4.2v8.4h-4.2zM113.2 711.4h4.2v8.4h-4.2zM14.4 719.7h4.2v8.4h-4.2zM18.5 719.7h4.2v8.4h-4.2zM22.6 719.7h4.2v8.4h-4.2zM35 719.7h4.2v8.4h-4.2zM67.9 719.7h4.2v8.4h-4.2zM72 719.7h4.2v8.4h-4.2zM76.1 728h4.2v8.4h-4.2zM26.8 736.4h4.2v8.4h-4.2zM96.7 744.7h4.2v8.4h-4.2zM35 753h4.2v8.4h-4.2zM121.4 753h4.2v8.4h-4.2zM22.6 761.4h4.2v8.4h-4.2zM117.3 761.4h4.2v8.4h-4.2zM125.5 761.4h4.2v8.4h-4.2zM35 769.7h4.2v8.4h-4.2zM43.2 769.7h4.2v8.4h-4.2zM121.4 769.7h4.2v8.4h-4.2zM30.9 778h4.2v8.4h-4.2zM80.3 819.7h4.2v8.4h-4.2z"/>
<path fill="#f4d6cf" shape-rendering="crispEdges" d="M105 544.7h4.2v8.4h-4.2zM121.4 544.7h4.2v8.4h-4.2zM113.2 553h4.2v8.4h-4.2zM117.3 553h4.2v8.4h-4.2zM150.2 553h4.2v8.4h-4.2zM113.2 561.4h4.2v8.4h-4.2zM117.3 561.4h4.2v8.4h-4.2zM129.7 561.4h4.2v8.4h-4.2zM76.1 578h4.2v8.4h-4.2zM96.7 578h4.2v8.4h-4.2zM109.1 594.7h4.2v8.4h-4.2zM59.7 603h4.2v8.4h-4.2zM150.2 603h4.2v8.4h-4.2zM84.4 619.7h4.2v8.4h-4.2zM105 619.7h4.2v8.4h-4.2zM121.4 619.7h4.2v8.4h-4.2zM43.2 636.4h4.2v8.4h-4.2zM72 636.4h4.2v8.4h-4.2zM100.8 636.4h4.2v8.4h-4.2zM105 636.4h4.2v8.4h-4.2zM109.1 636.4h4.2v8.4h-4.2zM142 644.7h4.2v8.4h-4.2zM105 653h4.2v8.4h-4.2zM59.7 661.4h4.2v8.4h-4.2zM105 661.4h4.2v8.4h-4.2zM113.2 661.4h4.2v8.4h-4.2zM129.7 661.4h4.2v8.4h-4.2zM30.9 669.7h4.2v8.4h-4.2zM84.4 669.7h4.2v8.4h-4.2zM96.7 669.7h4.2v8.4h-4.2zM92.6 678h4.2v8.4h-4.2zM96.7 678h4.2v8.4h-4.2zM105 678h4.2v8.4h-4.2zM125.5 678h4.2v8.4h-4.2zM129.7 678h4.2v8.4h-4.2zM51.4 686.4h4.2v8.4h-4.2zM76.1 686.4h4.2v8.4h-4.2zM105 686.4h4.2v8.4h-4.2zM105 694.7h4.2v8.4h-4.2zM80.3 703h4.2v8.4h-4.2zM30.9 711.4h4.2v8.4h-4.2zM76.1 711.4h4.2v8.4h-4.2zM80.3 711.4h4.2v8.4h-4.2zM125.5 711.4h4.2v8.4h-4.2zM59.7 719.7h4.2v8.4h-4.2zM14.4 728h4.2v8.4h-4.2zM51.4 728h4.2v8.4h-4.2zM59.7 728h4.2v8.4h-4.2zM67.9 728h4.2v8.4h-4.2zM72 728h4.2v8.4h-4.2zM80.3 728h4.2v8.4h-4.2zM84.4 728h4.2v8.4h-4.2zM88.5 728h4.2v8.4h-4.2zM125.5 728h4.2v8.4h-4.2zM39.1 736.4h4.2v8.4h-4.2zM59.7 736.4h4.2v8.4h-4.2zM18.5 744.7h4.2v8.4h-4.2zM22.6 744.7h4.2v8.4h-4.2zM72 744.7h4.2v8.4h-4.2zM150.2 744.7h4.2v8.4h-4.2zM18.5 753h4.2v8.4h-4.2zM22.6 753h4.2v8.4h-4.2zM14.4 761.4h4.2v8.4h-4.2zM51.4 761.4h4.2v8.4h-4.2zM80.3 769.7h4.2v8.4h-4.2zM96.7 769.7h4.2v8.4h-4.2zM105 769.7h4.2v8.4h-4.2zM22.6 778h4.2v8.4h-4.2zM72 778h4.2v8.4h-4.2zM80.3 778h4.2v8.4h-4.2zM150.2 786.4h4.2v8.4h-4.2zM158.5 786.4h4.2v8.4h-4.2zM63.8 803h4.2v8.4h-4.2zM18.5 819.7h4.2v8.4h-4.2zM43.2 819.7h4.2v8.4h-4.2zM113.2 819.7h4.2v8.4h-4.2zM133.8 819.7h4.2v8.4h-4.2zM133.8 836.4h4.2v8.4h-4.2z"/>
<path fill="#f2ddd8" shape-rendering="crispEdges" d="M109.1 544.7h4.2v8.4h-4.2zM113.2 544.7h4.2v8.4h-4.2zM117.3 544.7h4.2v8.4h-4.2zM125.5 544.7h4.2v8.4h-4.2zM121.4 553h4.2v8.4h-4.2zM125.5 553h4.2v8.4h-4.2zM146.1 553h4.2v8.4h-4.2zM105 561.4h4.2v8.4h-4.2zM146.1 561.4h4.2v8.4h-4.2zM113.2 569.7h4.2v8.4h-4.2zM117.3 569.7h4.2v8.4h-4.2zM150.2 569.7h4.2v8.4h-4.2zM154.4 569.7h4.2v8.4h-4.2zM125.5 578h4.2v8.4h-4.2zM105 586.4h4.2v8.4h-4.2zM121.4 586.4h4.2v8.4h-4.2zM113.2 594.7h4.2v8.4h-4.2zM146.1 603h4.2v8.4h-4.2zM109.1 611.4h4.2v8.4h-4.2zM96.7 619.7h4.2v8.4h-4.2zM109.1 619.7h4.2v8.4h-4.2zM125.5 628h4.2v8.4h-4.2zM129.7 628h4.2v8.4h-4.2zM67.9 636.4h4.2v8.4h-4.2zM150.2 636.4h4.2v8.4h-4.2zM100.8 644.7h4.2v8.4h-4.2zM121.4 644.7h4.2v8.4h-4.2zM59.7 653h4.2v8.4h-4.2zM117.3 653h4.2v8.4h-4.2zM129.7 653h4.2v8.4h-4.2zM121.4 661.4h4.2v8.4h-4.2zM146.1 694.7h4.2v8.4h-4.2zM150.2 694.7h4.2v8.4h-4.2zM117.3 703h4.2v8.4h-4.2zM51.4 711.4h4.2v8.4h-4.2zM105 711.4h4.2v8.4h-4.2zM63.8 719.7h4.2v8.4h-4.2zM22.6 728h4.2v8.4h-4.2zM35 728h4.2v8.4h-4.2zM96.7 728h4.2v8.4h-4.2zM121.4 728h4.2v8.4h-4.2zM14.4 736.4h4.2v8.4h-4.2zM47.3 736.4h4.2v8.4h-4.2zM51.4 736.4h4.2v8.4h-4.2zM129.7 736.4h4.2v8.4h-4.2zM137.9 736.4h4.2v8.4h-4.2zM14.4 744.7h4.2v8.4h-4.2zM26.8 744.7h4.2v8.4h-4.2zM39.1 744.7h4.2v8.4h-4.2zM125.5 744.7h4.2v8.4h-4.2zM14.4 753h4.2v8.4h-4.2zM26.8 753h4.2v8.4h-4.2zM67.9 753h4.2v8.4h-4.2zM92.6 753h4.2v8.4h-4.2zM125.5 753h4.2v8.4h-4.2zM129.7 753h4.2v8.4h-4.2zM18.5 761.4h4.2v8.4h-4.2zM35 761.4h4.2v8.4h-4.2zM63.8 761.4h4.2v8.4h-4.2zM72 761.4h4.2v8.4h-4.2zM105 761.4h4.2v8.4h-4.2zM14.4 769.7h4.2v8.4h-4.2zM18.5 769.7h4.2v8.4h-4.2zM30.9 769.7h4.2v8.4h-4.2zM55.6 769.7h4.2v8.4h-4.2zM113.2 769.7h4.2v8.4h-4.2zM117.3 769.7h4.2v8.4h-4.2zM55.6 778h4.2v8.4h-4.2zM67.9 778h4.2v8.4h-4.2zM109.1 778h4.2v8.4h-4.2zM117.3 778h4.2v8.4h-4.2zM109.1 794.7h4.2v8.4h-4.2zM18.5 811.4h4.2v8.4h-4.2zM22.6 811.4h4.2v8.4h-4.2zM43.2 811.4h4.2v8.4h-4.2zM88.5 811.4h4.2v8.4h-4.2zM154.4 811.4h4.2v8.4h-4.2zM26.8 819.7h4.2v8.4h-4.2zM59.7 819.7h4.2v8.4h-4.2zM88.5 819.7h4.2v8.4h-4.2zM26.8 828h4.2v8.4h-4.2zM146.1 828h4.2v8.4h-4.2z"/>
<path fill="#e5e0e9" shape-rendering="crispEdges" d="M129.7 544.7h4.2v8.4h-4.2zM121.4 569.7h4.2v8.4h-4.2zM137.9 578h4.2v8.4h-4.2zM146.1 586.4h4.2v8.4h-4.2zM121.4 603h4.2v8.4h-4.2zM113.2 611.4h4.2v8.4h-4.2zM146.1 628h4.2v8.4h-4.2zM117.3 636.4h4.2v8.4h-4.2zM121.4 636.4h4.2v8.4h-4.2zM133.8 636.4h4.2v8.4h-4.2zM125.5 653h4.2v8.4h-4.2zM154.4 653h4.2v8.4h-4.2zM96.7 661.4h4.2v8.4h-4.2zM150.2 661.4h4.2v8.4h-4.2zM109.1 669.7h4.2v8.4h-4.2zM121.4 669.7h4.2v8.4h-4.2zM129.7 669.7h4.2v8.4h-4.2zM146.1 669.7h4.2v8.4h-4.2zM154.4 686.4h4.2v8.4h-4.2zM125.5 694.7h4.2v8.4h-4.2zM133.8 703h4.2v8.4h-4.2zM72 711.4h4.2v8.4h-4.2zM129.7 711.4h4.2v8.4h-4.2zM150.2 711.4h4.2v8.4h-4.2zM117.3 719.7h4.2v8.4h-4.2zM121.4 719.7h4.2v8.4h-4.2zM150.2 719.7h4.2v8.4h-4.2zM154.4 719.7h4.2v8.4h-4.2zM142 728h4.2v8.4h-4.2zM146.1 728h4.2v8.4h-4.2zM76.1 736.4h4.2v8.4h-4.2zM158.5 736.4h4.2v8.4h-4.2zM47.3 744.7h4.2v8.4h-4.2zM146.1 744.7h4.2v8.4h-4.2zM158.5 744.7h4.2v8.4h-4.2zM59.7 753h4.2v8.4h-4.2zM100.8 753h4.2v8.4h-4.2zM142 753h4.2v8.4h-4.2zM146.1 753h4.2v8.4h-4.2zM158.5 753h4.2v8.4h-4.2zM26.8 761.4h4.2v8.4h-4.2zM43.2 761.4h4.2v8.4h-4.2zM59.7 761.4h4.2v8.4h-4.2zM76.1 761.4h4.2v8.4h-4.2zM100.8 761.4h4.2v8.4h-4.2zM142 761.4h4.2v8.4h-4.2zM150.2 761.4h4.2v8.4h-4.2zM67.9 769.7h4.2v8.4h-4.2zM88.5 769.7h4.2v8.4h-4.2zM133.8 769.7h4.2v8.4h-4.2zM14.4 778h4.2v8.4h-4.2zM76.1 778h4.2v8.4h-4.2zM96.7 778h4.2v8.4h-4.2zM59.7 786.4h4.2v8.4h-4.2zM92.6 786.4h4.2v8.4h-4.2zM125.5 786.4h4.2v8.4h-4.2zM30.9 794.7h4.2v8.4h-4.2zM146.1 794.7h4.2v8.4h-4.2zM105 803h4.2v8.4h-4.2zM117.3 803h4.2v8.4h-4.2zM121.4 803h4.2v8.4h-4.2zM35 811.4h4.2v8.4h-4.2zM55.6 811.4h4.2v8.4h-4.2zM76.1 811.4h4.2v8.4h-4.2zM105 811.4h4.2v8.4h-4.2zM113.2 811.4h4.2v8.4h-4.2zM117.3 811.4h4.2v8.4h-4.2zM137.9 811.4h4.2v8.4h-4.2zM72 819.7h4.2v8.4h-4.2zM96.7 819.7h4.2v8.4h-4.2zM100.8 819.7h4.2v8.4h-4.2zM121.4 819.7h4.2v8.4h-4.2zM67.9 828h4.2v8.4h-4.2zM84.4 828h4.2v8.4h-4.2zM100.8 828h4.2v8.4h-4.2zM109.1 836.4h4.2v8.4h-4.2zM113.2 836.4h4.2v8.4h-4.2zM117.3 836.4h4.2v8.4h-4.2z"/>
<path fill="#dcd7e6" shape-rendering="crispEdges" d="M133.8 544.7h4.2v8.4h-4.2zM142 553h4.2v8.4h-4.2zM154.4 578h4.2v8.4h-4.2zM154.4 594.7h4.2v8.4h-4.2zM137.9 603h4.2v8.4h-4.2zM154.4 611.4h4.2v8.4h-4.2zM142 619.7h4.2v8.4h-4.2zM146.1 619.7h4.2v8.4h-4.2zM137.9 636.4h4.2v8.4h-4.2zM142 636.4h4.2v8.4h-4.2zM117.3 644.7h4.2v8.4h-4.2zM137.9 644.7h4.2v8.4h-4.2zM154.4 644.7h4.2v8.4h-4.2zM113.2 653h4.2v8.4h-4.2zM117.3 661.4h4.2v8.4h-4.2zM154.4 669.7h4.2v8.4h-4.2zM113.2 686.4h4.2v8.4h-4.2zM137.9 686.4h4.2v8.4h-4.2zM142 686.4h4.2v8.4h-4.2zM142 694.7h4.2v8.4h-4.2zM133.8 711.4h4.2v8.4h-4.2zM137.9 711.4h4.2v8.4h-4.2zM154.4 711.4h4.2v8.4h-4.2zM67.9 744.7h4.2v8.4h-4.2zM84.4 744.7h4.2v8.4h-4.2zM142 744.7h4.2v8.4h-4.2zM63.8 753h4.2v8.4h-4.2zM72 753h4.2v8.4h-4.2zM133.8 761.4h4.2v8.4h-4.2zM142 769.7h4.2v8.4h-4.2zM150.2 778h4.2v8.4h-4.2zM158.5 778h4.2v8.4h-4.2zM14.4 786.4h4.2v8.4h-4.2zM96.7 786.4h4.2v8.4h-4.2zM121.4 786.4h4.2v8.4h-4.2zM154.4 786.4h4.2v8.4h-4.2zM43.2 794.7h4.2v8.4h-4.2zM59.7 794.7h4.2v8.4h-4.2zM63.8 794.7h4.2v8.4h-4.2zM84.4 794.7h4.2v8.4h-4.2zM96.7 794.7h4.2v8.4h-4.2zM18.5 803h4.2v8.4h-4.2zM51.4 803h4.2v8.4h-4.2zM59.7 803h4.2v8.4h-4.2zM84.4 803h4.2v8.4h-4.2zM88.5 803h4.2v8.4h-4.2zM113.2 803h4.2v8.4h-4.2zM125.5 803h4.2v8.4h-4.2zM150.2 803h4.2v8.4h-4.2zM51.4 811.4h4.2v8.4h-4.2zM129.7 819.7h4.2v8.4h-4.2zM142 819.7h4.2v8.4h-4.2zM30.9 828h4.2v8.4h-4.2zM39.1 828h4.2v8.4h-4.2zM47.3 828h4.2v8.4h-4.2zM63.8 828h4.2v8.4h-4.2zM76.1 828h4.2v8.4h-4.2zM96.7 828h4.2v8.4h-4.2zM133.8 828h4.2v8.4h-4.2zM129.7 836.4h4.2v8.4h-4.2z"/>
<path fill="#b7afd8" shape-rendering="crispEdges" d="M137.9 544.7h4.2v8.4h-4.2zM158.5 544.7h4.2v8.4h-4.2zM137.9 569.7h4.2v8.4h-4.2zM142 586.4h4.2v8.4h-4.2zM158.5 586.4h4.2v8.4h-4.2zM142 603h4.2v8.4h-4.2zM133.8 628h4.2v8.4h-4.2zM158.5 628h4.2v8.4h-4.2zM158.5 636.4h4.2v8.4h-4.2zM133.8 653h4.2v8.4h-4.2zM158.5 686.4h4.2v8.4h-4.2zM142 719.7h4.2v8.4h-4.2zM55.6 786.4h4.2v8.4h-4.2zM67.9 786.4h4.2v8.4h-4.2zM14.4 794.7h4.2v8.4h-4.2zM26.8 794.7h4.2v8.4h-4.2zM35 803h4.2v8.4h-4.2zM43.2 803h4.2v8.4h-4.2zM100.8 803h4.2v8.4h-4.2zM14.4 836.4h4.2v8.4h-4.2zM35 836.4h4.2v8.4h-4.2zM55.6 836.4h4.2v8.4h-4.2zM59.7 836.4h4.2v8.4h-4.2zM84.4 836.4h4.2v8.4h-4.2z"/>
<path fill="#cbc4e2" shape-rendering="crispEdges" d="M142 544.7h4.2v8.4h-4.2zM137.9 553h4.2v8.4h-4.2zM133.8 569.7h4.2v8.4h-4.2zM133.8 594.7h4.2v8.4h-4.2zM142 594.7h4.2v8.4h-4.2zM133.8 603h4.2v8.4h-4.2zM158.5 619.7h4.2v8.4h-4.2zM154.4 636.4h4.2v8.4h-4.2zM137.9 653h4.2v8.4h-4.2zM137.9 661.4h4.2v8.4h-4.2zM142 661.4h4.2v8.4h-4.2zM133.8 669.7h4.2v8.4h-4.2zM142 669.7h4.2v8.4h-4.2zM137.9 703h4.2v8.4h-4.2zM158.5 703h4.2v8.4h-4.2zM133.8 719.7h4.2v8.4h-4.2zM137.9 744.7h4.2v8.4h-4.2zM26.8 786.4h4.2v8.4h-4.2zM39.1 786.4h4.2v8.4h-4.2zM43.2 786.4h4.2v8.4h-4.2zM76.1 786.4h4.2v8.4h-4.2zM100.8 786.4h4.2v8.4h-4.2zM18.5 794.7h4.2v8.4h-4.2zM67.9 794.7h4.2v8.4h-4.2zM72 794.7h4.2v8.4h-4.2zM92.6 794.7h4.2v8.4h-4.2zM113.2 794.7h4.2v8.4h-4.2zM14.4 803h4.2v8.4h-4.2zM39.1 803h4.2v8.4h-4.2zM72 803h4.2v8.4h-4.2zM76.1 803h4.2v8.4h-4.2zM158.5 819.7h4.2v8.4h-4.2zM59.7 828h4.2v8.4h-4.2zM51.4 836.4h4.2v8.4h-4.2zM92.6 836.4h4.2v8.4h-4.2zM150.2 836.4h4.2v8.4h-4.2z"/>
<path fill="#d4cee4" shape-rendering="crispEdges" d="M146.1 544.7h4.2v8.4h-4.2zM154.4 544.7h4.2v8.4h-4.2zM133.8 561.4h4.2v8.4h-4.2zM133.8 578h4.2v8.4h-4.2zM137.9 586.4h4.2v8.4h-4.2zM137.9 611.4h4.2v8.4h-4.2zM142 611.4h4.2v8.4h-4.2zM146.1 611.4h4.2v8.4h-4.2zM158.5 644.7h4.2v8.4h-4.2zM142 653h4.2v8.4h-4.2zM117.3 669.7h4.2v8.4h-4.2zM133.8 678h4.2v8.4h-4.2zM154.4 678h4.2v8.4h-4.2zM133.8 686.4h4.2v8.4h-4.2zM137.9 694.7h4.2v8.4h-4.2zM142 703h4.2v8.4h-4.2zM142 711.4h4.2v8.4h-4.2zM137.9 719.7h4.2v8.4h-4.2zM142 736.4h4.2v8.4h-4.2zM76.1 753h4.2v8.4h-4.2zM137.9 753h4.2v8.4h-4.2zM129.7 761.4h4.2v8.4h-4.2zM146.1 761.4h4.2v8.4h-4.2zM137.9 769.7h4.2v8.4h-4.2zM158.5 769.7h4.2v8.4h-4.2zM121.4 778h4.2v8.4h-4.2zM22.6 786.4h4.2v8.4h-4.2zM30.9 786.4h4.2v8.4h-4.2zM80.3 786.4h4.2v8.4h-4.2zM84.4 786.4h4.2v8.4h-4.2zM146.1 786.4h4.2v8.4h-4.2zM35 794.7h4.2v8.4h-4.2zM47.3 794.7h4.2v8.4h-4.2zM88.5 794.7h4.2v8.4h-4.2zM100.8 794.7h4.2v8.4h-4.2zM117.3 794.7h4.2v8.4h-4.2zM125.5 794.7h4.2v8.4h-4.2zM47.3 803h4.2v8.4h-4.2zM67.9 803h4.2v8.4h-4.2zM92.6 803h4.2v8.4h-4.2zM96.7 803h4.2v8.4h-4.2zM109.1 803h4.2v8.4h-4.2zM14.4 811.4h4.2v8.4h-4.2zM47.3 811.4h4.2v8.4h-4.2zM121.4 811.4h4.2v8.4h-4.2zM133.8 811.4h4.2v8.4h-4.2zM14.4 828h4.2v8.4h-4.2zM80.3 828h4.2v8.4h-4.2zM63.8 836.4h4.2v8.4h-4.2zM125.5 836.4h4.2v8.4h-4.2z"/>
<path fill="#f0e4e2" shape-rendering="crispEdges" d="M150.2 544.7h4.2v8.4h-4.2zM129.7 553h4.2v8.4h-4.2zM109.1 561.4h4.2v8.4h-4.2zM125.5 561.4h4.2v8.4h-4.2zM146.1 569.7h4.2v8.4h-4.2zM109.1 578h4.2v8.4h-4.2zM113.2 578h4.2v8.4h-4.2zM117.3 578h4.2v8.4h-4.2zM113.2 586.4h4.2v8.4h-4.2zM150.2 586.4h4.2v8.4h-4.2zM121.4 594.7h4.2v8.4h-4.2zM146.1 594.7h4.2v8.4h-4.2zM109.1 603h4.2v8.4h-4.2zM117.3 611.4h4.2v8.4h-4.2zM113.2 619.7h4.2v8.4h-4.2zM117.3 619.7h4.2v8.4h-4.2zM125.5 619.7h4.2v8.4h-4.2zM121.4 628h4.2v8.4h-4.2zM150.2 628h4.2v8.4h-4.2zM109.1 644.7h4.2v8.4h-4.2zM113.2 644.7h4.2v8.4h-4.2zM125.5 644.7h4.2v8.4h-4.2zM146.1 644.7h4.2v8.4h-4.2zM121.4 653h4.2v8.4h-4.2zM146.1 653h4.2v8.4h-4.2zM150.2 653h4.2v8.4h-4.2zM125.5 661.4h4.2v8.4h-4.2zM100.8 678h4.2v8.4h-4.2zM113.2 678h4.2v8.4h-4.2zM109.1 686.4h4.2v8.4h-4.2zM117.3 686.4h4.2v8.4h-4.2zM121.4 686.4h4.2v8.4h-4.2zM113.2 694.7h4.2v8.4h-4.2zM117.3 694.7h4.2v8.4h-4.2zM133.8 694.7h4.2v8.4h-4.2zM105 703h4.2v8.4h-4.2zM109.1 703h4.2v8.4h-4.2zM113.2 703h4.2v8.4h-4.2zM129.7 703h4.2v8.4h-4.2zM150.2 703h4.2v8.4h-4.2zM80.3 719.7h4.2v8.4h-4.2zM125.5 719.7h4.2v8.4h-4.2zM129.7 719.7h4.2v8.4h-4.2zM92.6 728h4.2v8.4h-4.2zM129.7 728h4.2v8.4h-4.2zM133.8 728h4.2v8.4h-4.2zM137.9 728h4.2v8.4h-4.2zM150.2 728h4.2v8.4h-4.2zM154.4 728h4.2v8.4h-4.2zM22.6 736.4h4.2v8.4h-4.2zM30.9 736.4h4.2v8.4h-4.2zM43.2 736.4h4.2v8.4h-4.2zM63.8 736.4h4.2v8.4h-4.2zM84.4 736.4h4.2v8.4h-4.2zM92.6 736.4h4.2v8.4h-4.2zM121.4 736.4h4.2v8.4h-4.2zM125.5 736.4h4.2v8.4h-4.2zM146.1 736.4h4.2v8.4h-4.2zM150.2 736.4h4.2v8.4h-4.2zM30.9 744.7h4.2v8.4h-4.2zM35 744.7h4.2v8.4h-4.2zM51.4 744.7h4.2v8.4h-4.2zM63.8 744.7h4.2v8.4h-4.2zM80.3 744.7h4.2v8.4h-4.2zM88.5 744.7h4.2v8.4h-4.2zM92.6 744.7h4.2v8.4h-4.2zM121.4 744.7h4.2v8.4h-4.2zM30.9 753h4.2v8.4h-4.2zM47.3 753h4.2v8.4h-4.2zM51.4 753h4.2v8.4h-4.2zM84.4 753h4.2v8.4h-4.2zM88.5 753h4.2v8.4h-4.2zM154.4 753h4.2v8.4h-4.2zM39.1 761.4h4.2v8.4h-4.2zM55.6 761.4h4.2v8.4h-4.2zM67.9 761.4h4.2v8.4h-4.2zM84.4 761.4h4.2v8.4h-4.2zM109.1 761.4h4.2v8.4h-4.2zM113.2 761.4h4.2v8.4h-4.2zM137.9 761.4h4.2v8.4h-4.2zM154.4 761.4h4.2v8.4h-4.2zM158.5 761.4h4.2v8.4h-4.2zM22.6 769.7h4.2v8.4h-4.2zM51.4 769.7h4.2v8.4h-4.2zM63.8 769.7h4.2v8.4h-4.2zM72 769.7h4.2v8.4h-4.2zM100.8 769.7h4.2v8.4h-4.2zM109.1 769.7h4.2v8.4h-4.2zM18.5 778h4.2v8.4h-4.2zM92.6 778h4.2v8.4h-4.2zM100.8 778h4.2v8.4h-4.2zM105 778h4.2v8.4h-4.2zM88.5 786.4h4.2v8.4h-4.2zM105 786.4h4.2v8.4h-4.2zM105 794.7h4.2v8.4h-4.2zM121.4 794.7h4.2v8.4h-4.2zM150.2 794.7h4.2v8.4h-4.2zM154.4 803h4.2v8.4h-4.2zM26.8 811.4h4.2v8.4h-4.2zM39.1 811.4h4.2v8.4h-4.2zM63.8 811.4h4.2v8.4h-4.2zM67.9 811.4h4.2v8.4h-4.2zM109.1 811.4h4.2v8.4h-4.2zM14.4 819.7h4.2v8.4h-4.2zM35 819.7h4.2v8.4h-4.2zM55.6 819.7h4.2v8.4h-4.2zM67.9 819.7h4.2v8.4h-4.2zM92.6 819.7h4.2v8.4h-4.2zM105 819.7h4.2v8.4h-4.2zM109.1 819.7h4.2v8.4h-4.2zM137.9 819.7h4.2v8.4h-4.2zM105 828h4.2v8.4h-4.2zM117.3 828h4.2v8.4h-4.2zM121.4 828h4.2v8.4h-4.2zM142 828h4.2v8.4h-4.2zM121.4 836.4h4.2v8.4h-4.2z"/>
<path fill="#ec6454" shape-rendering="crispEdges" d="M22.6 553h4.2v8.4h-4.2zM30.9 553h4.2v8.4h-4.2zM35 553h4.2v8.4h-4.2zM39.1 553h4.2v8.4h-4.2zM47.3 553h4.2v8.4h-4.2zM18.5 561.4h4.2v8.4h-4.2zM26.8 561.4h4.2v8.4h-4.2zM35 561.4h4.2v8.4h-4.2zM39.1 561.4h4.2v8.4h-4.2zM47.3 561.4h4.2v8.4h-4.2zM22.6 569.7h4.2v8.4h-4.2zM30.9 569.7h4.2v8.4h-4.2zM35 569.7h4.2v8.4h-4.2zM39.1 569.7h4.2v8.4h-4.2zM47.3 569.7h4.2v8.4h-4.2zM18.5 578h4.2v8.4h-4.2zM26.8 578h4.2v8.4h-4.2zM47.3 578h4.2v8.4h-4.2zM18.5 586.4h4.2v8.4h-4.2zM22.6 586.4h4.2v8.4h-4.2zM26.8 586.4h4.2v8.4h-4.2zM39.1 586.4h4.2v8.4h-4.2zM18.5 594.7h4.2v8.4h-4.2zM22.6 594.7h4.2v8.4h-4.2zM26.8 594.7h4.2v8.4h-4.2zM35 594.7h4.2v8.4h-4.2zM47.3 594.7h4.2v8.4h-4.2zM18.5 611.4h4.2v8.4h-4.2zM22.6 611.4h4.2v8.4h-4.2zM26.8 611.4h4.2v8.4h-4.2zM30.9 611.4h4.2v8.4h-4.2zM39.1 611.4h4.2v8.4h-4.2z"/>
<path fill="#ed7060" shape-rendering="crispEdges" d="M26.8 553h4.2v8.4h-4.2zM30.9 561.4h4.2v8.4h-4.2zM18.5 569.7h4.2v8.4h-4.2zM43.2 569.7h4.2v8.4h-4.2zM22.6 578h4.2v8.4h-4.2zM47.3 586.4h4.2v8.4h-4.2zM26.8 603h4.2v8.4h-4.2zM47.3 603h4.2v8.4h-4.2zM35 611.4h4.2v8.4h-4.2zM43.2 611.4h4.2v8.4h-4.2z"/>
<path fill="#ea574d" shape-rendering="crispEdges" d="M43.2 553h4.2v8.4h-4.2zM43.2 586.4h4.2v8.4h-4.2zM18.5 603h4.2v8.4h-4.2zM35 603h4.2v8.4h-4.2z"/>
<path fill="#ee7c6c" shape-rendering="crispEdges" d="M55.6 553h4.2v8.4h-4.2zM35 578h4.2v8.4h-4.2zM39.1 578h4.2v8.4h-4.2zM43.2 578h4.2v8.4h-4.2zM30.9 586.4h4.2v8.4h-4.2zM30.9 594.7h4.2v8.4h-4.2zM43.2 594.7h4.2v8.4h-4.2zM30.9 603h4.2v8.4h-4.2zM39.1 603h4.2v8.4h-4.2zM55.6 611.4h4.2v8.4h-4.2zM18.5 628h4.2v8.4h-4.2zM47.3 628h4.2v8.4h-4.2zM146.1 636.4h4.2v8.4h-4.2zM137.9 786.4h4.2v8.4h-4.2zM133.8 794.7h4.2v8.4h-4.2zM59.7 811.4h4.2v8.4h-4.2z"/>
<path fill="#c1badd" shape-rendering="crispEdges" d="M133.8 553h4.2v8.4h-4.2zM137.9 561.4h4.2v8.4h-4.2zM142 578h4.2v8.4h-4.2zM137.9 594.7h4.2v8.4h-4.2zM154.4 603h4.2v8.4h-4.2zM133.8 611.4h4.2v8.4h-4.2zM133.8 619.7h4.2v8.4h-4.2zM137.9 619.7h4.2v8.4h-4.2zM137.9 628h4.2v8.4h-4.2zM133.8 661.4h4.2v8.4h-4.2zM154.4 661.4h4.2v8.4h-4.2zM158.5 661.4h4.2v8.4h-4.2zM137.9 678h4.2v8.4h-4.2zM142 678h4.2v8.4h-4.2zM146.1 711.4h4.2v8.4h-4.2zM158.5 728h4.2v8.4h-4.2zM18.5 786.4h4.2v8.4h-4.2zM47.3 786.4h4.2v8.4h-4.2zM51.4 786.4h4.2v8.4h-4.2zM72 786.4h4.2v8.4h-4.2zM22.6 794.7h4.2v8.4h-4.2zM39.1 794.7h4.2v8.4h-4.2zM51.4 794.7h4.2v8.4h-4.2zM55.6 794.7h4.2v8.4h-4.2zM80.3 794.7h4.2v8.4h-4.2zM30.9 803h4.2v8.4h-4.2zM80.3 803h4.2v8.4h-4.2zM96.7 811.4h4.2v8.4h-4.2zM43.2 828h4.2v8.4h-4.2zM72 828h4.2v8.4h-4.2zM72 836.4h4.2v8.4h-4.2zM105 836.4h4.2v8.4h-4.2z"/>
<path fill="#eeeaeb" shape-rendering="crispEdges" d="M154.4 553h4.2v8.4h-4.2zM154.4 561.4h4.2v8.4h-4.2zM121.4 578h4.2v8.4h-4.2zM146.1 578h4.2v8.4h-4.2zM150.2 578h4.2v8.4h-4.2zM154.4 586.4h4.2v8.4h-4.2zM117.3 594.7h4.2v8.4h-4.2zM150.2 594.7h4.2v8.4h-4.2zM113.2 603h4.2v8.4h-4.2zM117.3 603h4.2v8.4h-4.2zM121.4 611.4h4.2v8.4h-4.2zM150.2 611.4h4.2v8.4h-4.2zM150.2 619.7h4.2v8.4h-4.2zM154.4 619.7h4.2v8.4h-4.2zM109.1 628h4.2v8.4h-4.2zM117.3 628h4.2v8.4h-4.2zM142 628h4.2v8.4h-4.2zM154.4 628h4.2v8.4h-4.2zM113.2 636.4h4.2v8.4h-4.2zM129.7 644.7h4.2v8.4h-4.2zM133.8 644.7h4.2v8.4h-4.2zM150.2 644.7h4.2v8.4h-4.2zM109.1 653h4.2v8.4h-4.2zM146.1 661.4h4.2v8.4h-4.2zM113.2 669.7h4.2v8.4h-4.2zM125.5 669.7h4.2v8.4h-4.2zM137.9 669.7h4.2v8.4h-4.2zM109.1 678h4.2v8.4h-4.2zM117.3 678h4.2v8.4h-4.2zM121.4 678h4.2v8.4h-4.2zM146.1 678h4.2v8.4h-4.2zM125.5 686.4h4.2v8.4h-4.2zM129.7 686.4h4.2v8.4h-4.2zM146.1 686.4h4.2v8.4h-4.2zM150.2 686.4h4.2v8.4h-4.2zM121.4 694.7h4.2v8.4h-4.2zM129.7 694.7h4.2v8.4h-4.2zM154.4 694.7h4.2v8.4h-4.2zM121.4 703h4.2v8.4h-4.2zM125.5 703h4.2v8.4h-4.2zM146.1 703h4.2v8.4h-4.2zM154.4 703h4.2v8.4h-4.2zM109.1 711.4h4.2v8.4h-4.2zM117.3 711.4h4.2v8.4h-4.2zM109.1 719.7h4.2v8.4h-4.2zM113.2 719.7h4.2v8.4h-4.2zM146.1 719.7h4.2v8.4h-4.2zM113.2 728h4.2v8.4h-4.2zM55.6 736.4h4.2v8.4h-4.2zM67.9 736.4h4.2v8.4h-4.2zM80.3 736.4h4.2v8.4h-4.2zM96.7 736.4h4.2v8.4h-4.2zM100.8 736.4h4.2v8.4h-4.2zM117.3 736.4h4.2v8.4h-4.2zM154.4 736.4h4.2v8.4h-4.2zM43.2 744.7h4.2v8.4h-4.2zM59.7 744.7h4.2v8.4h-4.2zM76.1 744.7h4.2v8.4h-4.2zM100.8 744.7h4.2v8.4h-4.2zM105 744.7h4.2v8.4h-4.2zM133.8 744.7h4.2v8.4h-4.2zM154.4 744.7h4.2v8.4h-4.2zM39.1 753h4.2v8.4h-4.2zM43.2 753h4.2v8.4h-4.2zM55.6 753h4.2v8.4h-4.2zM80.3 753h4.2v8.4h-4.2zM96.7 753h4.2v8.4h-4.2zM109.1 753h4.2v8.4h-4.2zM133.8 753h4.2v8.4h-4.2zM150.2 753h4.2v8.4h-4.2zM30.9 761.4h4.2v8.4h-4.2zM47.3 761.4h4.2v8.4h-4.2zM80.3 761.4h4.2v8.4h-4.2zM88.5 761.4h4.2v8.4h-4.2zM92.6 761.4h4.2v8.4h-4.2zM76.1 769.7h4.2v8.4h-4.2zM84.4 769.7h4.2v8.4h-4.2zM92.6 769.7h4.2v8.4h-4.2zM146.1 769.7h4.2v8.4h-4.2zM150.2 769.7h4.2v8.4h-4.2zM154.4 769.7h4.2v8.4h-4.2zM63.8 778h4.2v8.4h-4.2zM84.4 778h4.2v8.4h-4.2zM88.5 778h4.2v8.4h-4.2zM137.9 778h4.2v8.4h-4.2zM142 778h4.2v8.4h-4.2zM146.1 778h4.2v8.4h-4.2zM154.4 778h4.2v8.4h-4.2zM63.8 786.4h4.2v8.4h-4.2zM113.2 786.4h4.2v8.4h-4.2zM117.3 786.4h4.2v8.4h-4.2zM76.1 794.7h4.2v8.4h-4.2zM129.7 794.7h4.2v8.4h-4.2zM158.5 794.7h4.2v8.4h-4.2zM55.6 803h4.2v8.4h-4.2zM129.7 803h4.2v8.4h-4.2zM158.5 803h4.2v8.4h-4.2zM30.9 811.4h4.2v8.4h-4.2zM72 811.4h4.2v8.4h-4.2zM80.3 811.4h4.2v8.4h-4.2zM84.4 811.4h4.2v8.4h-4.2zM92.6 811.4h4.2v8.4h-4.2zM100.8 811.4h4.2v8.4h-4.2zM125.5 811.4h4.2v8.4h-4.2zM129.7 811.4h4.2v8.4h-4.2zM158.5 811.4h4.2v8.4h-4.2zM30.9 819.7h4.2v8.4h-4.2zM39.1 819.7h4.2v8.4h-4.2zM47.3 819.7h4.2v8.4h-4.2zM51.4 819.7h4.2v8.4h-4.2zM63.8 819.7h4.2v8.4h-4.2zM84.4 819.7h4.2v8.4h-4.2zM117.3 819.7h4.2v8.4h-4.2zM125.5 819.7h4.2v8.4h-4.2zM18.5 828h4.2v8.4h-4.2zM22.6 828h4.2v8.4h-4.2zM35 828h4.2v8.4h-4.2zM51.4 828h4.2v8.4h-4.2zM55.6 828h4.2v8.4h-4.2zM88.5 828h4.2v8.4h-4.2zM92.6 828h4.2v8.4h-4.2zM109.1 828h4.2v8.4h-4.2zM113.2 828h4.2v8.4h-4.2zM125.5 828h4.2v8.4h-4.2zM129.7 828h4.2v8.4h-4.2zM137.9 836.4h4.2v8.4h-4.2zM142 836.4h4.2v8.4h-4.2zM146.1 836.4h4.2v8.4h-4.2z"/>
<path fill="#aca5d3" shape-rendering="crispEdges" d="M158.5 553h4.2v8.4h-4.2zM142 569.7h4.2v8.4h-4.2zM158.5 569.7h4.2v8.4h-4.2zM158.5 594.7h4.2v8.4h-4.2zM158.5 678h4.2v8.4h-4.2zM158.5 694.7h4.2v8.4h-4.2zM158.5 711.4h4.2v8.4h-4.2zM158.5 719.7h4.2v8.4h-4.2zM26.8 803h4.2v8.4h-4.2zM18.5 836.4h4.2v8.4h-4.2zM26.8 836.4h4.2v8.4h-4.2zM39.1 836.4h4.2v8.4h-4.2zM80.3 836.4h4.2v8.4h-4.2zM88.5 836.4h4.2v8.4h-4.2zM96.7 836.4h4.2v8.4h-4.2zM100.8 836.4h4.2v8.4h-4.2z"/>
<path fill="#e94a46" shape-rendering="crispEdges" d="M43.2 561.4h4.2v8.4h-4.2zM22.6 603h4.2v8.4h-4.2z"/>
<path fill="#f08878" shape-rendering="crispEdges" d="M84.4 561.4h4.2v8.4h-4.2zM51.4 569.7h4.2v8.4h-4.2zM55.6 569.7h4.2v8.4h-4.2zM88.5 578h4.2v8.4h-4.2zM84.4 586.4h4.2v8.4h-4.2zM84.4 594.7h4.2v8.4h-4.2zM55.6 603h4.2v8.4h-4.2zM26.8 619.7h4.2v8.4h-4.2zM26.8 628h4.2v8.4h-4.2zM43.2 628h4.2v8.4h-4.2zM22.6 686.4h4.2v8.4h-4.2zM35 686.4h4.2v8.4h-4.2zM39.1 686.4h4.2v8.4h-4.2zM30.9 694.7h4.2v8.4h-4.2zM92.6 694.7h4.2v8.4h-4.2zM88.5 703h4.2v8.4h-4.2zM142 786.4h4.2v8.4h-4.2zM142 794.7h4.2v8.4h-4.2zM133.8 803h4.2v8.4h-4.2zM137.9 803h4.2v8.4h-4.2z"/>
<path fill="#9890c9" shape-rendering="crispEdges" d="M142 561.4h4.2v8.4h-4.2zM158.5 669.7h4.2v8.4h-4.2zM22.6 803h4.2v8.4h-4.2zM76.1 836.4h4.2v8.4h-4.2z"/>
<path fill="#8e86c4" shape-rendering="crispEdges" d="M158.5 561.4h4.2v8.4h-4.2zM158.5 578h4.2v8.4h-4.2zM22.6 836.4h4.2v8.4h-4.2zM30.9 836.4h4.2v8.4h-4.2z"/>
<path fill="#a29bce" shape-rendering="crispEdges" d="M133.8 586.4h4.2v8.4h-4.2zM158.5 611.4h4.2v8.4h-4.2zM158.5 653h4.2v8.4h-4.2zM35 786.4h4.2v8.4h-4.2zM47.3 836.4h4.2v8.4h-4.2zM67.9 836.4h4.2v8.4h-4.2z"/>
<path fill="#8680c2" shape-rendering="crispEdges" d="M158.5 603h4.2v8.4h-4.2zM43.2 836.4h4.2v8.4h-4.2z"/>
<path fill="#2f55a4" shape-rendering="crispEdges" d="M14.4 539.3h4.2v4.2h-4.2zM84.4 539.3h4.2v4.2h-4.2zM88.5 539.3h4.2v4.2h-4.2zM92.6 539.3h4.2v4.2h-4.2zM96.7 539.3h4.2v4.2h-4.2zM100.8 539.3h4.2v4.2h-4.2zM154.4 539.3h4.2v4.2h-4.2zM158.5 539.3h4.2v4.2h-4.2zM163.4 544.7h4.6v8.4h-4.6zM163.4 686.4h4.6v8.4h-4.6zM163.4 694.7h4.6v8.4h-4.6zM163.4 703h4.6v8.4h-4.6zM163.4 711.4h4.6v8.4h-4.6zM163.4 719.7h4.6v8.4h-4.6zM163.4 828h4.6v8.4h-4.6zM163.4 836.4h4.6v8.4h-4.6z"/>
<path fill="#e8202e" shape-rendering="crispEdges" d="M18.5 539.3h4.2v4.2h-4.2zM22.6 539.3h4.2v4.2h-4.2zM26.8 539.3h4.2v4.2h-4.2zM30.9 539.3h4.2v4.2h-4.2zM35 539.3h4.2v4.2h-4.2zM39.1 539.3h4.2v4.2h-4.2zM43.2 539.3h4.2v4.2h-4.2zM55.6 539.3h4.2v4.2h-4.2zM163.4 553h4.6v8.4h-4.6zM163.4 561.4h4.6v8.4h-4.6zM163.4 569.7h4.6v8.4h-4.6zM163.4 578h4.6v8.4h-4.6zM163.4 586.4h4.6v8.4h-4.6zM163.4 594.7h4.6v8.4h-4.6zM163.4 603h4.6v8.4h-4.6zM163.4 628h4.6v8.4h-4.6z"/>
<path fill="#6e4c9c" shape-rendering="crispEdges" d="M47.3 539.3h4.2v4.2h-4.2zM51.4 539.3h4.2v4.2h-4.2zM63.8 539.3h4.2v4.2h-4.2zM76.1 539.3h4.2v4.2h-4.2zM105 539.3h4.2v4.2h-4.2zM113.2 539.3h4.2v4.2h-4.2zM117.3 539.3h4.2v4.2h-4.2zM121.4 539.3h4.2v4.2h-4.2zM125.5 539.3h4.2v4.2h-4.2zM133.8 539.3h4.2v4.2h-4.2zM137.9 539.3h4.2v4.2h-4.2zM142 539.3h4.2v4.2h-4.2zM150.2 539.3h4.2v4.2h-4.2zM163.4 611.4h4.6v8.4h-4.6zM163.4 619.7h4.6v8.4h-4.6zM163.4 644.7h4.6v8.4h-4.6zM163.4 669.7h4.6v8.4h-4.6zM163.4 728h4.6v8.4h-4.6zM163.4 744.7h4.6v8.4h-4.6zM163.4 753h4.6v8.4h-4.6zM163.4 761.4h4.6v8.4h-4.6zM163.4 769.7h4.6v8.4h-4.6zM163.4 786.4h4.6v8.4h-4.6zM163.4 794.7h4.6v8.4h-4.6zM163.4 803h4.6v8.4h-4.6zM163.4 819.7h4.6v8.4h-4.6z"/>
<path fill="#5cb44c" shape-rendering="crispEdges" d="M59.7 539.3h4.2v4.2h-4.2zM67.9 539.3h4.2v4.2h-4.2zM72 539.3h4.2v4.2h-4.2zM80.3 539.3h4.2v4.2h-4.2zM109.1 539.3h4.2v4.2h-4.2zM129.7 539.3h4.2v4.2h-4.2zM146.1 539.3h4.2v4.2h-4.2zM163.4 636.4h4.6v8.4h-4.6zM163.4 653h4.6v8.4h-4.6zM163.4 661.4h4.6v8.4h-4.6zM163.4 678h4.6v8.4h-4.6zM163.4 736.4h4.6v8.4h-4.6zM163.4 778h4.6v8.4h-4.6zM163.4 811.4h4.6v8.4h-4.6z"/>
<g stroke="#666" stroke-width="0.45" fill="none">
<path d="M20.57 538.6V537.87H24.69V538.6"/>
<path d="M16.46 538.6V537.25H22.63V537.87"/>
<path d="M19.55 537.25V536.49H28.81V538.6"/>
<path d="M37.04 538.6V538.16H41.16V538.6"/>
<path d="M32.92 538.6V537.75H39.1V538.16"/>
<path d="M36.01 537.75V536.85H45.27V538.6"/>
<path d="M53.51 538.6V538.04H57.62V538.6"/>
<path d="M49.39 538.6V537.5H55.57V538.04"/>
<path d="M40.64 536.85V536H52.48V537.5"/>
<path d="M24.18 536.49V536H46.56V536"/>
<path d="M65.86 538.6V537.91H69.97V538.6"/>
<path d="M61.74 538.6V537.13H67.92V537.91"/>
<path d="M64.83 537.13V536.64H74.09V538.6"/>
<path d="M86.44 538.6V537.68H90.56V538.6"/>
<path d="M82.33 538.6V536.97H88.5V537.68"/>
<path d="M78.21 538.6V536.12H85.41V536.97"/>
<path d="M94.67 538.6V537.8H98.79V538.6"/>
<path d="M81.81 536.12V535.68H96.73V537.8"/>
<path d="M107.02 538.6V538.17H111.14V538.6"/>
<path d="M102.91 538.6V537.31H109.08V538.17"/>
<path d="M106 537.31V536.41H115.26V538.6"/>
<path d="M119.38 538.6V537.92H123.49V538.6"/>
<path d="M131.72 538.6V537.77H135.84V538.6"/>
<path d="M127.61 538.6V536.84H133.78V537.77"/>
<path d="M121.43 537.92V536.01H130.7V536.84"/>
<path d="M144.07 538.6V537.96H148.19V538.6"/>
<path d="M139.96 538.6V537.08H146.13V537.96"/>
<path d="M156.42 538.6V537.93H160.54V538.6"/>
<path d="M152.31 538.6V536.97H158.48V537.93"/>
<path d="M143.05 537.08V536.04H155.4V536.97"/>
<path d="M35.37 536V533.3H69.46V536.64"/>
<path d="M52.41 533.3V529.4H89.27V535.68"/>
<path d="M126.06 536.01V532H149.22V536.04"/>
<path d="M110.63 536.41V529.6H137.64V532"/>
<path d="M70.84 529.4V527.2H124.13V529.6"/>
</g>
<g stroke="#777" stroke-width="0.45" fill="none">
<path d="M14.2 548.87H13.61V557.2H14.2"/>
<path d="M14.2 573.87H13.61V582.2H14.2"/>
<path d="M14.2 565.53H12.92V578.03H13.61"/>
<path d="M13.61 553.03H12.06V571.78H12.92"/>
<path d="M14.2 607.2H13.61V615.53H14.2"/>
<path d="M14.2 598.87H12.92V611.37H13.61"/>
<path d="M14.2 590.53H12.14V605.12H12.92"/>
<path d="M12.06 562.41H10.9V597.83H12.14"/>
<path d="M14.2 640.53H13.61V648.87H14.2"/>
<path d="M14.2 632.2H12.92V644.7H13.61"/>
<path d="M14.2 623.87H12.14V638.45H12.92"/>
<path d="M14.2 657.2H13.61V665.53H14.2"/>
<path d="M14.2 690.53H13.61V698.87H14.2"/>
<path d="M14.2 682.2H12.92V694.7H13.61"/>
<path d="M14.2 673.87H12.14V688.45H12.92"/>
<path d="M13.61 661.37H11.21V681.16H12.14"/>
<path d="M12.14 631.16H9.97V671.26H11.21"/>
<path d="M10.9 580.12H8.15V651.21H9.97"/>
<path d="M14.2 707.2H13.61V715.53H14.2"/>
<path d="M14.2 723.87H13.61V732.2H14.2"/>
<path d="M14.2 748.87H13.61V757.2H14.2"/>
<path d="M14.2 740.53H12.92V753.03H13.61"/>
<path d="M13.61 728.03H12.06V746.78H12.92"/>
<path d="M13.61 711.37H11.05V737.41H12.06"/>
<path d="M14.2 782.2H13.61V790.53H14.2"/>
<path d="M14.2 773.87H12.92V786.37H13.61"/>
<path d="M14.2 765.53H12.14V780.12H12.92"/>
<path d="M14.2 807.2H13.61V815.53H14.2"/>
<path d="M14.2 798.87H12.92V811.37H13.61"/>
<path d="M12.92 805.12H12.14V823.87H14.2"/>
<path d="M14.2 832.2H13.61V840.53H14.2"/>
<path d="M12.14 814.49H11.21V836.37H13.61"/>
<path d="M12.14 772.83H9.97V825.43H11.21"/>
<path d="M11.05 724.39H8.27V799.13H9.97"/>
<path d="M8.15 615.66H5.34V761.76H8.27"/>
</g>
<text x="172" y="551.37" font-size="8.1" fill="#222">AT2<tspan font-size="5" dy="1.6">tip</tspan></text>
<text x="172" y="559.7" font-size="8.1" fill="#222">Alv. fibroblast<tspan font-size="5" dy="1.6">i</tspan></text>
<text x="172" y="568.03" font-size="8.1" fill="#222">AT1<tspan font-size="5" dy="1.6">i</tspan></text>
<text x="172" y="576.37" font-size="8.1" fill="#222">Artery<tspan font-size="5" dy="1.6">i</tspan></text>
<text x="172" y="584.7" font-size="8.1" fill="#222">gCap<tspan font-size="5" dy="1.6">i</tspan></text>
<text x="172" y="593.03" font-size="8.1" fill="#222">Adv. fibroblast<tspan font-size="5" dy="1.6">i</tspan></text>
<text x="172" y="601.37" font-size="8.1" fill="#222">Aerocyte<tspan font-size="5" dy="1.6">i</tspan></text>
<text x="172" y="609.7" font-size="8.1" fill="#222">AT2<tspan font-size="5" dy="1.6">i</tspan></text>
<text x="172" y="618.03" font-size="8.1" fill="#222">AM<tspan font-size="5" dy="1.6">CSF</tspan></text>
<text x="172" y="626.37" font-size="8.1" fill="#222">AM<tspan font-size="5" dy="1.6">inflam</tspan></text>
<text x="172" y="634.7" font-size="8.1" fill="#222">Secretory<tspan font-size="5" dy="1.6">i</tspan></text>
<text x="172" y="643.03" font-size="8.1" fill="#222">Sec<tspan font-size="5" dy="1.6">SCGB3A2</tspan><tspan dy="-2.5" font-size="6">*</tspan></text>
<text x="172" y="651.37" font-size="8.1" fill="#222">FibroblastIR</text>
<text x="172" y="659.7" font-size="8.1" fill="#222">Myofibroblast*</text>
<text x="172" y="668.03" font-size="8.1" fill="#222">Fibroblast<tspan font-size="5" dy="1.6">PB</tspan><tspan dy="-2.5" font-size="6">*</tspan></text>
<text x="172" y="676.37" font-size="8.1" fill="#222">MDM</text>
<text x="172" y="684.7" font-size="8.1" fill="#222">AT1*</text>
<text x="172" y="693.03" font-size="8.1" fill="#222">ABC</text>
<text x="172" y="701.37" font-size="8.1" fill="#222">AT2<tspan font-size="5" dy="1.6">SCGB3A2</tspan></text>
<text x="172" y="709.7" font-size="8.1" fill="#222">CTHRC1<tspan font-size="5" dy="-3">+</tspan><tspan dy="3"> fibro.</tspan></text>
<text x="172" y="718.03" font-size="8.1" fill="#222">AT2<tspan font-size="5" dy="1.6">div</tspan></text>
<text x="172" y="726.37" font-size="8.1" fill="#222">Secretory<tspan font-size="5" dy="1.6">div</tspan></text>
<text x="172" y="734.7" font-size="8.1" fill="#222">IM1</text>
<text x="172" y="743.03" font-size="8.1" fill="#222">Aerocyte*</text>
<text x="172" y="751.37" font-size="8.1" fill="#222">Fibro<tspan font-size="5" dy="1.6">FRC</tspan></text>
<text x="172" y="759.7" font-size="8.1" fill="#222">IM<tspan font-size="5" dy="1.6">CHIT</tspan></text>
<text x="172" y="768.03" font-size="8.1" fill="#222">AM<tspan font-size="5" dy="1.6">p21</tspan></text>
<text x="172" y="776.37" font-size="8.1" fill="#222">Mac<tspan font-size="5" dy="1.6">div</tspan><tspan dy="-2.5" font-size="6">*</tspan></text>
<text x="172" y="784.7" font-size="8.1" fill="#222">Ciliated*</text>
<text x="172" y="793.03" font-size="8.1" fill="#222">B/plasma cells</text>
<text x="172" y="801.37" font-size="8.1" fill="#222">CD8 T cells</text>
<text x="172" y="809.7" font-size="8.1" fill="#222">CD4 T cells</text>
<text x="172" y="818.03" font-size="8.1" fill="#222">Goblet cells</text>
<text x="172" y="826.37" font-size="8.1" fill="#222">AM<tspan font-size="5" dy="1.6">NR4A3</tspan></text>
<text x="172" y="834.7" font-size="8.1" fill="#222">Endo<tspan font-size="5" dy="1.6">div</tspan></text>
<text x="172" y="843.03" font-size="8.1" fill="#222">gCap<tspan font-size="5" dy="1.6">tip</tspan></text>
<rect x="15.4" y="852.9" width="8.7" height="8.3" fill="#e8202e"/>
<text x="28.5" y="860.2" font-size="8.2">Inflamed nonimmune</text>
<rect x="15.4" y="864.8" width="8.7" height="8.3" fill="#2f55a4"/>
<text x="28.5" y="872.1" font-size="8.2">Remodeling</text>
<rect x="15.4" y="876.6" width="8.7" height="8.3" fill="#5cb44c"/>
<text x="28.5" y="883.9" font-size="8.2">Tissue changes</text>
<rect x="15.4" y="888.4" width="8.7" height="8.3" fill="#6e4c9c"/>
<text x="28.5" y="895.7" font-size="8.2">Immune</text>
<text x="110.4" y="860.4" font-size="9.4" fill="#222">Spearman’s <tspan font-style="italic">ρ</tspan></text>
<defs><linearGradient id="cbe" x1="0" y1="0" x2="1" y2="0"><stop offset="0" stop-color="#3a4ab8"/><stop offset="0.25" stop-color="#8c84c4"/><stop offset="0.5" stop-color="#efebeb"/><stop offset="0.75" stop-color="#f29080"/><stop offset="1" stop-color="#e41e2e"/></linearGradient></defs>
<rect x="112.2" y="864.6" width="53.6" height="5.7" fill="url(#cbe)"/>
<text x="113.4" y="879" font-size="7.8" text-anchor="middle">−1</text>
<text x="126" y="879" font-size="7.8" text-anchor="middle">−0.5</text>
<text x="138.6" y="879" font-size="7.8" text-anchor="middle">0</text>
<text x="150.9" y="879" font-size="7.8" text-anchor="middle">0.5</text>
<text x="163.9" y="879" font-size="7.8" text-anchor="middle">1</text>
<text x="239.2" y="515" font-size="14" fill="#111" font-weight="bold" stroke="#111" stroke-width="0.55">f</text>
<text x="335.6" y="516" font-size="10" text-anchor="middle" fill="#222">Cell proportion-based</text>
<text x="335.6" y="526.5" font-size="10" text-anchor="middle" fill="#222">clusters</text>
<text x="304.5" y="537.4" font-size="8.3" text-anchor="middle" fill="#222">1</text>
<text x="322.7" y="537.4" font-size="8.3" text-anchor="middle" fill="#222">2</text>
<text x="340.7" y="537.4" font-size="8.3" text-anchor="middle" fill="#222">3</text>
<text x="359.8" y="537.4" font-size="8.3" text-anchor="middle" fill="#222">4</text>
<text x="377.2" y="537.4" font-size="8.3" text-anchor="middle" fill="#222">5</text>
<line x1="298.2" y1="542" x2="386" y2="542" stroke="#333" stroke-width="1.1"/>
<circle cx="304.5" cy="554.4" r="6.5" fill="#e8787d"/>
<circle cx="322.7" cy="554.4" r="2.5" fill="#f8d8d9"/>
<circle cx="340.7" cy="554.4" r="2" fill="#fae2e3"/>
<circle cx="359.8" cy="554.4" r="2.5" fill="#f8d8d9"/>
<circle cx="377.2" cy="554.4" r="6.5" fill="#e5656a"/>
<text x="290" y="557.1" font-size="8.4" text-anchor="end" fill="#222">AT1<tspan font-size="4.6" dy="1.6">i</tspan></text>
<circle cx="304.5" cy="565.02" r="5" fill="#f1adb0"/>
<circle cx="322.7" cy="565.02" r="2.5" fill="#f9dddf"/>
<circle cx="340.7" cy="565.02" r="5" fill="#f0a5a8"/>
<circle cx="359.8" cy="565.02" r="2" fill="#fae2e3"/>
<circle cx="377.2" cy="565.02" r="6.5" fill="#e5656a"/>
<text x="290" y="567.72" font-size="8.4" text-anchor="end" fill="#222">AT2<tspan font-size="4.6" dy="1.6">i</tspan></text>
<circle cx="304.5" cy="575.64" r="6" fill="#ed9498"/>
<circle cx="322.7" cy="575.64" r="2.7" fill="#f9dddf"/>
<circle cx="340.7" cy="575.64" r="3.5" fill="#f7d1d3"/>
<circle cx="359.8" cy="575.64" r="3" fill="#f9dddf"/>
<circle cx="377.2" cy="575.64" r="6.5" fill="#e5656a"/>
<text x="290" y="578.34" font-size="8.4" text-anchor="end" fill="#222">gCap<tspan font-size="4.6" dy="1.6">i</tspan></text>
<circle cx="304.5" cy="586.26" r="6" fill="#e66e74"/>
<circle cx="322.7" cy="586.26" r="3.3" fill="#f7d1d3"/>
<circle cx="340.7" cy="586.26" r="4" fill="#f5c4c6"/>
<circle cx="359.8" cy="586.26" r="3.2" fill="#f8d8d9"/>
<circle cx="377.2" cy="586.26" r="6" fill="#ea8186"/>
<text x="290" y="588.96" font-size="8.4" text-anchor="end" fill="#222">Aerocyte<tspan font-size="4.6" dy="1.6">i</tspan></text>
<circle cx="304.5" cy="596.88" r="5" fill="#f4bdbf"/>
<circle cx="322.7" cy="596.88" r="3" fill="#f9dddf"/>
<circle cx="340.7" cy="596.88" r="4.5" fill="#f2b5b8"/>
<circle cx="359.8" cy="596.88" r="3.3" fill="#f8d8d9"/>
<circle cx="377.2" cy="596.88" r="6.5" fill="#e5656a"/>
<text x="290" y="599.58" font-size="8.4" text-anchor="end" fill="#222">Secretory<tspan font-size="4.6" dy="1.6">i</tspan></text>
<circle cx="304.5" cy="607.5" r="6.5" fill="#e66e74"/>
<circle cx="322.7" cy="607.5" r="2.3" fill="#fae2e3"/>
<circle cx="340.7" cy="607.5" r="3.2" fill="#f8d8d9"/>
<circle cx="359.8" cy="607.5" r="2.8" fill="#f9dddf"/>
<circle cx="377.2" cy="607.5" r="6.5" fill="#e5656a"/>
<text x="290" y="610.2" font-size="8.4" text-anchor="end" fill="#222">Alv. fibro<tspan font-size="4.6" dy="1.6">i</tspan></text>
<circle cx="304.5" cy="618.12" r="6.5" fill="#64a444"/>
<circle cx="322.7" cy="618.12" r="3.7" fill="#cfe2c1"/>
<circle cx="340.7" cy="618.12" r="3.5" fill="#d5e5c8"/>
<circle cx="359.8" cy="618.12" r="4.2" fill="#bbd6a9"/>
<circle cx="377.2" cy="618.12" r="3.8" fill="#c2dab2"/>
<text x="290" y="620.82" font-size="8.4" text-anchor="end" fill="#222">ABC</text>
<circle cx="304.5" cy="628.74" r="6.5" fill="#64a444"/>
<circle cx="322.7" cy="628.74" r="3" fill="#dae8ce"/>
<circle cx="340.7" cy="628.74" r="3.5" fill="#cfe2c1"/>
<circle cx="359.8" cy="628.74" r="3.7" fill="#c9deba"/>
<circle cx="377.2" cy="628.74" r="4.2" fill="#b3d2a0"/>
<text x="290" y="631.44" font-size="8.4" text-anchor="end" fill="#222">CTHRC1<tspan font-size="5" dy="-3">+</tspan><tspan dy="3"> fibro</tspan></text>
<circle cx="304.5" cy="639.36" r="6.5" fill="#64a444"/>
<circle cx="322.7" cy="639.36" r="3.3" fill="#dae8ce"/>
<circle cx="340.7" cy="639.36" r="3.5" fill="#d5e5c8"/>
<circle cx="359.8" cy="639.36" r="3.8" fill="#c9deba"/>
<circle cx="377.2" cy="639.36" r="6" fill="#78b43a"/>
<text x="290" y="642.06" font-size="8.4" text-anchor="end" fill="#222">AT2<tspan font-size="4.6" dy="1.6">s</tspan></text>
<circle cx="304.5" cy="649.98" r="5.5" fill="#6eaa4f"/>
<circle cx="322.7" cy="649.98" r="4" fill="#c9deba"/>
<circle cx="340.7" cy="649.98" r="4" fill="#c9deba"/>
<circle cx="359.8" cy="649.98" r="4.3" fill="#abcd97"/>
<circle cx="377.2" cy="649.98" r="4" fill="#bbd6a9"/>
<text x="290" y="652.68" font-size="8.4" text-anchor="end" fill="#222">AT2<tspan font-size="4.6" dy="1.6">SCGB3A2</tspan></text>
<circle cx="304.5" cy="660.6" r="5.5" fill="#6eaa4f"/>
<circle cx="322.7" cy="660.6" r="4" fill="#c2dab2"/>
<circle cx="340.7" cy="660.6" r="3.8" fill="#c9deba"/>
<circle cx="359.8" cy="660.6" r="4.3" fill="#abcd97"/>
<circle cx="377.2" cy="660.6" r="3.5" fill="#cfe2c1"/>
<text x="290" y="663.3" font-size="8.4" text-anchor="end" fill="#222">AT2<tspan font-size="4.6" dy="1.6">div</tspan></text>
<circle cx="304.5" cy="671.22" r="6.5" fill="#6eaa4f"/>
<circle cx="322.7" cy="671.22" r="5" fill="#9bc484"/>
<circle cx="340.7" cy="671.22" r="4.3" fill="#abcd97"/>
<circle cx="359.8" cy="671.22" r="3" fill="#dae8ce"/>
<circle cx="377.2" cy="671.22" r="3.8" fill="#c2dab2"/>
<text x="290" y="673.92" font-size="8.4" text-anchor="end" fill="#222">Secretory<tspan font-size="4.6" dy="1.6">div</tspan></text>
<circle cx="304.5" cy="681.84" r="4.3" fill="#9bc484"/>
<circle cx="322.7" cy="681.84" r="4.8" fill="#77af5a"/>
<circle cx="340.7" cy="681.84" r="4.8" fill="#6eaa4f"/>
<circle cx="359.8" cy="681.84" r="4" fill="#9bc484"/>
<circle cx="377.2" cy="681.84" r="4" fill="#abcd97"/>
<text x="290" y="684.54" font-size="8.4" text-anchor="end" fill="#222">Endo<tspan font-size="4.6" dy="1.6">tip</tspan></text>
<circle cx="304.5" cy="692.46" r="5.5" fill="#10afb8"/>
<circle cx="322.7" cy="692.46" r="4.5" fill="#48c0c8"/>
<circle cx="340.7" cy="692.46" r="1.2" fill="#cae9ec"/>
<circle cx="359.8" cy="692.46" r="5" fill="#10afb8"/>
<circle cx="377.2" cy="692.46" r="4.8" fill="#2cb8c0"/>
<text x="290" y="695.16" font-size="8.4" text-anchor="end" fill="#222">AT1*</text>
<circle cx="304.5" cy="703.08" r="4.5" fill="#48c0c8"/>
<circle cx="322.7" cy="703.08" r="3.5" fill="#9ddbe0"/>
<circle cx="340.7" cy="703.08" r="4" fill="#92d8dd"/>
<circle cx="359.8" cy="703.08" r="5.5" fill="#01aab4"/>
<circle cx="377.2" cy="703.08" r="4" fill="#87d4da"/>
<text x="290" y="705.78" font-size="8.4" text-anchor="end" fill="#222">Aerocyte*</text>
<circle cx="304.5" cy="713.7" r="5" fill="#10afb8"/>
<circle cx="322.7" cy="713.7" r="4" fill="#9ddbe0"/>
<circle cx="340.7" cy="713.7" r="4.5" fill="#48c0c8"/>
<circle cx="359.8" cy="713.7" r="3.8" fill="#92d8dd"/>
<circle cx="377.2" cy="713.7" r="4" fill="#7bd0d6"/>
<text x="290" y="716.4" font-size="8.4" text-anchor="end" fill="#222">Systemic</text>
<circle cx="304.5" cy="724.32" r="4.3" fill="#62c9cf"/>
<circle cx="322.7" cy="724.32" r="3.8" fill="#b1e1e5"/>
<circle cx="340.7" cy="724.32" r="6" fill="#01aab4"/>
<circle cx="359.8" cy="724.32" r="4.5" fill="#55c5cc"/>
<circle cx="377.2" cy="724.32" r="4" fill="#9ddbe0"/>
<text x="290" y="727.02" font-size="8.4" text-anchor="end" fill="#222">Goblet</text>
<circle cx="304.5" cy="734.94" r="4.7" fill="#48c0c8"/>
<circle cx="322.7" cy="734.94" r="3.5" fill="#a7dee3"/>
<circle cx="340.7" cy="734.94" r="5.5" fill="#01aab4"/>
<circle cx="359.8" cy="734.94" r="4.5" fill="#55c5cc"/>
<circle cx="377.2" cy="734.94" r="4.3" fill="#62c9cf"/>
<text x="290" y="737.64" font-size="8.4" text-anchor="end" fill="#222">Sec<tspan font-size="4.6" dy="1.6">SCGB3A2</tspan><tspan dy="-3" font-size="6">*</tspan></text>
<circle cx="304.5" cy="745.56" r="5" fill="#10afb8"/>
<circle cx="322.7" cy="745.56" r="3.3" fill="#9ddbe0"/>
<circle cx="340.7" cy="745.56" r="3.5" fill="#92d8dd"/>
<circle cx="359.8" cy="745.56" r="5" fill="#10afb8"/>
<circle cx="377.2" cy="745.56" r="4.3" fill="#62c9cf"/>
<text x="290" y="748.26" font-size="8.4" text-anchor="end" fill="#222">Fibroblast<tspan font-size="4.6" dy="1.6">FDC + IR</tspan></text>
<circle cx="304.5" cy="756.18" r="4.3" fill="#c9b7d4"/>
<circle cx="322.7" cy="756.18" r="3.5" fill="#e3d6e7"/>
<circle cx="340.7" cy="756.18" r="4.3" fill="#c9b7d4"/>
<circle cx="359.8" cy="756.18" r="4.2" fill="#cfbed8"/>
<circle cx="377.2" cy="756.18" r="5" fill="#9577af"/>
<text x="290" y="758.88" font-size="8.4" text-anchor="end" fill="#222">AM<tspan font-size="4.6" dy="1.6">inflam</tspan></text>
<circle cx="304.5" cy="766.8" r="5" fill="#cfbed8"/>
<circle cx="322.7" cy="766.8" r="4" fill="#dfd1e4"/>
<circle cx="340.7" cy="766.8" r="4.8" fill="#cfbed8"/>
<circle cx="359.8" cy="766.8" r="1.8" fill="#ebe0ec"/>
<circle cx="377.2" cy="766.8" r="6.8" fill="#9577af"/>
<text x="290" y="769.5" font-size="8.4" text-anchor="end" fill="#222">AM<tspan font-size="4.6" dy="1.6">CSF</tspan></text>
<circle cx="304.5" cy="777.42" r="4" fill="#e3d6e7"/>
<circle cx="322.7" cy="777.42" r="3" fill="#eadeeb"/>
<circle cx="340.7" cy="777.42" r="6.5" fill="#9577af"/>
<circle cx="359.8" cy="777.42" r="4.3" fill="#dacbe0"/>
<circle cx="377.2" cy="777.42" r="3.8" fill="#e7dbea"/>
<text x="290" y="780.12" font-size="8.4" text-anchor="end" fill="#222">AM<tspan font-size="4.6" dy="1.6">NR4A3</tspan></text>
<circle cx="304.5" cy="788.04" r="4.5" fill="#cfbed8"/>
<circle cx="322.7" cy="788.04" r="4" fill="#dfd1e4"/>
<circle cx="340.7" cy="788.04" r="3.5" fill="#e7dbea"/>
<circle cx="359.8" cy="788.04" r="5.5" fill="#9c7fb4"/>
<circle cx="377.2" cy="788.04" r="3.8" fill="#e3d6e7"/>
<text x="290" y="790.74" font-size="8.4" text-anchor="end" fill="#222">AM<tspan font-size="4.6" dy="1.6">p21</tspan></text>
<circle cx="304.5" cy="798.66" r="5.5" fill="#9577af"/>
<circle cx="322.7" cy="798.66" r="3.5" fill="#e3d6e7"/>
<circle cx="340.7" cy="798.66" r="3" fill="#ebe0ec"/>
<circle cx="359.8" cy="798.66" r="5.3" fill="#aa90be"/>
<circle cx="377.2" cy="798.66" r="5" fill="#b7a0c7"/>
<text x="290" y="801.36" font-size="8.4" text-anchor="end" fill="#222">MDM</text>
<circle cx="304.5" cy="809.28" r="5.3" fill="#a388b9"/>
<circle cx="322.7" cy="809.28" r="3.3" fill="#e7dbea"/>
<circle cx="340.7" cy="809.28" r="3" fill="#eadeeb"/>
<circle cx="359.8" cy="809.28" r="5.5" fill="#9577af"/>
<circle cx="377.2" cy="809.28" r="4.8" fill="#b7a0c7"/>
<text x="290" y="811.98" font-size="8.4" text-anchor="end" fill="#222">IM<tspan font-size="4.6" dy="1.6">i</tspan></text>
<circle cx="304.5" cy="819.9" r="4.5" fill="#c9b7d4"/>
<circle cx="322.7" cy="819.9" r="3.5" fill="#e7dbea"/>
<circle cx="340.7" cy="819.9" r="3.8" fill="#e3d6e7"/>
<circle cx="359.8" cy="819.9" r="5.5" fill="#9577af"/>
<circle cx="377.2" cy="819.9" r="3.5" fill="#e3d6e7"/>
<text x="290" y="822.6" font-size="8.4" text-anchor="end" fill="#222">IM<tspan font-size="4.6" dy="1.6">CHIT</tspan></text>
<circle cx="304.5" cy="830.52" r="4.2" fill="#c9b7d4"/>
<circle cx="322.7" cy="830.52" r="4.2" fill="#c4b0d0"/>
<circle cx="340.7" cy="830.52" r="4.5" fill="#b7a0c7"/>
<circle cx="359.8" cy="830.52" r="4.8" fill="#9c7fb4"/>
<circle cx="377.2" cy="830.52" r="3.8" fill="#cfbed8"/>
<text x="290" y="833.22" font-size="8.4" text-anchor="end" fill="#222">CD<tspan font-size="4.4" dy="1.5">4</tspan><tspan dy="-1.5"> + CD</tspan><tspan font-size="4.4" dy="1.5">8</tspan></text>
<circle cx="304.5" cy="841.14" r="4.2" fill="#cfbed8"/>
<circle cx="322.7" cy="841.14" r="4.2" fill="#cfbed8"/>
<circle cx="340.7" cy="841.14" r="4.5" fill="#b7a0c7"/>
<circle cx="359.8" cy="841.14" r="5" fill="#9c7fb4"/>
<circle cx="377.2" cy="841.14" r="3.8" fill="#dfd1e4"/>
<text x="290" y="843.84" font-size="8.4" text-anchor="end" fill="#222">B/plasma cells</text>
<text x="316.9" y="857" font-size="9.3" text-anchor="middle" fill="#222">Median</text>
<circle cx="303.6" cy="865.2" r="1.9" fill="#1a1a1a"/>
<text x="314.6" y="868" font-size="8" fill="#222">−1.01</text>
<circle cx="303.6" cy="876.8" r="4.2" fill="#1a1a1a"/>
<text x="314.6" y="879.6" font-size="8" fill="#222">0.00</text>
<circle cx="303.6" cy="889.5" r="6.5" fill="#1a1a1a"/>
<text x="314.6" y="891.8" font-size="8" fill="#222">1.40</text>
<text x="412.5" y="515.2" font-size="14" fill="#111" font-weight="bold" stroke="#111" stroke-width="0.55">g</text>
<line x1="452.4" y1="519.2" x2="543.6" y2="519.2" stroke="#f5f5f5" stroke-width="0.5"/>
<line x1="452.4" y1="531.1" x2="543.6" y2="531.1" stroke="#f5f5f5" stroke-width="0.5"/>
<line x1="452.4" y1="543" x2="543.6" y2="543" stroke="#f5f5f5" stroke-width="0.5"/>
<line x1="452.4" y1="554.8" x2="543.6" y2="554.8" stroke="#f5f5f5" stroke-width="0.5"/>
<line x1="452.4" y1="513.3" x2="543.6" y2="513.3" stroke="#ebebeb" stroke-width="0.7"/>
<line x1="452.4" y1="525.1" x2="543.6" y2="525.1" stroke="#ebebeb" stroke-width="0.7"/>
<line x1="452.4" y1="537.2" x2="543.6" y2="537.2" stroke="#ebebeb" stroke-width="0.7"/>
<line x1="452.4" y1="548.8" x2="543.6" y2="548.8" stroke="#ebebeb" stroke-width="0.7"/>
<line x1="452.4" y1="560.8" x2="543.6" y2="560.8" stroke="#ebebeb" stroke-width="0.7"/>
<line x1="462" y1="511" x2="462" y2="566" stroke="#ebebeb" stroke-width="0.7"/>
<line x1="479.7" y1="511" x2="479.7" y2="566" stroke="#ebebeb" stroke-width="0.7"/>
<line x1="497.3" y1="511" x2="497.3" y2="566" stroke="#ebebeb" stroke-width="0.7"/>
<line x1="515" y1="511" x2="515" y2="566" stroke="#ebebeb" stroke-width="0.7"/>
<line x1="532.6" y1="511" x2="532.6" y2="566" stroke="#ebebeb" stroke-width="0.7"/>
<text x="447.6" y="516.2" font-size="8.2" text-anchor="end" fill="#4d4d4d">6</text>
<text x="447.6" y="528" font-size="8.2" text-anchor="end" fill="#4d4d4d">4</text>
<text x="447.6" y="540.1" font-size="8.2" text-anchor="end" fill="#4d4d4d">2</text>
<text x="447.6" y="551.7" font-size="8.2" text-anchor="end" fill="#4d4d4d">0</text>
<text x="447.6" y="563.7" font-size="8.2" text-anchor="end" fill="#4d4d4d">−2</text>
<line x1="462" y1="514.9" x2="462" y2="564.1" stroke="#222" stroke-width="0.9"/>
<rect x="455.3" y="530.6" width="13.4" height="31.8" fill="#a99bcb" stroke="#222" stroke-width="0.95"/>
<line x1="455.3" y1="549.2" x2="468.7" y2="549.2" stroke="#111" stroke-width="1.7"/>
<line x1="479.7" y1="554.9" x2="479.7" y2="564.6" stroke="#222" stroke-width="0.9"/>
<rect x="473" y="557.1" width="13.4" height="7.5" fill="#f0877a" stroke="#222" stroke-width="0.95"/>
<line x1="473" y1="563.7" x2="486.4" y2="563.7" stroke="#111" stroke-width="1.7"/>
<line x1="497.3" y1="553.2" x2="497.3" y2="564.4" stroke="#222" stroke-width="0.9"/>
<rect x="490.6" y="558.2" width="13.4" height="5.9" fill="#d38cc4" stroke="#222" stroke-width="0.95"/>
<line x1="490.6" y1="561.5" x2="504" y2="561.5" stroke="#111" stroke-width="1.7"/>
<line x1="515" y1="519.2" x2="515" y2="564.6" stroke="#222" stroke-width="0.9"/>
<rect x="508.3" y="543.3" width="13.4" height="21.3" fill="#7cc27a" stroke="#222" stroke-width="0.95"/>
<line x1="508.3" y1="558" x2="521.7" y2="558" stroke="#111" stroke-width="1.7"/>
<line x1="532.6" y1="514.2" x2="532.6" y2="564.1" stroke="#222" stroke-width="0.9"/>
<rect x="525.9" y="519.2" width="13.4" height="43.2" fill="#6ccaf0" stroke="#222" stroke-width="0.95"/>
<line x1="525.9" y1="559.3" x2="539.3" y2="559.3" stroke="#111" stroke-width="1.7"/>
<path fill="none" stroke="#6a6a6a" stroke-width="4.1" stroke-linecap="round" d="M464.2 557.5h0M461.6 546.4h0M458.6 527.3h0M461.4 557.2h0M461.5 514.9h0M465.7 518.5h0M458 562.5h0M461 560.5h0M458 544h0M462 544.5h0M459.6 537.9h0M458 539.8h0M463.2 563.3h0M465 562.2h0M463.9 541.2h0M461.3 529.6h0"/>
<path fill="none" stroke="#a395c8" stroke-width="3.10" stroke-linecap="round" d="M464.2 557.5h0M461.6 546.4h0M458.6 527.3h0M461.4 557.2h0M461.5 514.9h0M465.7 518.5h0M458 562.5h0M461 560.5h0M458 544h0M462 544.5h0M459.6 537.9h0M458 539.8h0M463.2 563.3h0M465 562.2h0M463.9 541.2h0M461.3 529.6h0"/>
<path fill="none" stroke="#6a6a6a" stroke-width="4.1" stroke-linecap="round" d="M478 564.6h0M482.6 556.8h0M475.8 561.5h0M479 563.1h0M481.4 561.2h0M479.2 555.7h0M479.9 562.9h0M475.7 560.8h0M483.8 562.4h0M476.9 555.8h0M482 564.5h0M477.5 563.6h0M480.4 564.2h0M480.1 559.1h0M482.1 564.6h0M481.7 564.6h0M481.4 538.5h0M481.7 542h0"/>
<path fill="none" stroke="#ee8c7c" stroke-width="3.10" stroke-linecap="round" d="M478 564.6h0M482.6 556.8h0M475.8 561.5h0M479 563.1h0M481.4 561.2h0M479.2 555.7h0M479.9 562.9h0M475.7 560.8h0M483.8 562.4h0M476.9 555.8h0M482 564.5h0M477.5 563.6h0M480.4 564.2h0M480.1 559.1h0M482.1 564.6h0M481.7 564.6h0M481.4 538.5h0M481.7 542h0"/>
<path fill="none" stroke="#6a6a6a" stroke-width="4.1" stroke-linecap="round" d="M497.8 564.3h0M500.4 558.5h0M497.3 554.2h0M496 560.3h0M498.2 561.9h0M495 558.4h0M500.3 561.6h0M500 557.2h0M498.8 563.2h0M493.2 558.3h0M494 554.4h0M493.7 554.9h0M494.5 561.3h0M496.9 562.4h0M493.3 561h0M494.7 560.7h0M496.3 514.5h0M498 523h0M499 545.8h0"/>
<path fill="none" stroke="#d08cc0" stroke-width="3.10" stroke-linecap="round" d="M497.8 564.3h0M500.4 558.5h0M497.3 554.2h0M496 560.3h0M498.2 561.9h0M495 558.4h0M500.3 561.6h0M500 557.2h0M498.8 563.2h0M493.2 558.3h0M494 554.4h0M493.7 554.9h0M494.5 561.3h0M496.9 562.4h0M493.3 561h0M494.7 560.7h0M496.3 514.5h0M498 523h0M499 545.8h0"/>
<path fill="none" stroke="#6a6a6a" stroke-width="4.1" stroke-linecap="round" d="M515.1 562.5h0M517.7 556.2h0M512 543.7h0M516.7 523.1h0M512.7 532.3h0M515.1 564.6h0M514.1 557.1h0M516.1 526.9h0M518.9 549.7h0M518 564.6h0M517 563.3h0M510.9 548.7h0M517.7 564.6h0M512.2 564.6h0M516.7 564.6h0M513.7 551.4h0"/>
<path fill="none" stroke="#78bc76" stroke-width="3.10" stroke-linecap="round" d="M515.1 562.5h0M517.7 556.2h0M512 543.7h0M516.7 523.1h0M512.7 532.3h0M515.1 564.6h0M514.1 557.1h0M516.1 526.9h0M518.9 549.7h0M518 564.6h0M517 563.3h0M510.9 548.7h0M517.7 564.6h0M512.2 564.6h0M516.7 564.6h0M513.7 551.4h0"/>
<path fill="none" stroke="#6a6a6a" stroke-width="4.1" stroke-linecap="round" d="M532 548.3h0M534 523.7h0M531.1 540.8h0M528.6 563.9h0M536.7 533.4h0M530.2 515.9h0M536.2 518.4h0M534.2 557.3h0M530.4 561.8h0M529.8 514.6h0M534.8 562.8h0M531.5 518.4h0M535.7 531.8h0M535.9 519h0M529.3 543h0M535.7 522.4h0"/>
<path fill="none" stroke="#6cc4ea" stroke-width="3.10" stroke-linecap="round" d="M532 548.3h0M534 523.7h0M531.1 540.8h0M528.6 563.9h0M536.7 533.4h0M530.2 515.9h0M536.2 518.4h0M534.2 557.3h0M530.4 561.8h0M529.8 514.6h0M534.8 562.8h0M531.5 518.4h0M535.7 531.8h0M535.9 519h0M529.3 543h0M535.7 522.4h0"/>
<text x="462" y="572.9" font-size="8.3" text-anchor="middle" fill="#4d4d4d">1</text>
<text x="479.7" y="572.9" font-size="8.3" text-anchor="middle" fill="#4d4d4d">2</text>
<text x="497.3" y="572.9" font-size="8.3" text-anchor="middle" fill="#4d4d4d">3</text>
<text x="515" y="572.9" font-size="8.3" text-anchor="middle" fill="#4d4d4d">4</text>
<text x="532.6" y="572.9" font-size="8.3" text-anchor="middle" fill="#4d4d4d">5</text>
<text x="420" y="538.5" font-size="9.6" text-anchor="middle" transform="rotate(-90 420 538.5)">Cough</text>
<line x1="588.6" y1="517" x2="679.6" y2="517" stroke="#f5f5f5" stroke-width="0.5"/>
<line x1="588.6" y1="532.3" x2="679.6" y2="532.3" stroke="#f5f5f5" stroke-width="0.5"/>
<line x1="588.6" y1="547.9" x2="679.6" y2="547.9" stroke="#f5f5f5" stroke-width="0.5"/>
<line x1="588.6" y1="563.5" x2="679.6" y2="563.5" stroke="#f5f5f5" stroke-width="0.5"/>
<line x1="588.6" y1="524.7" x2="679.6" y2="524.7" stroke="#ebebeb" stroke-width="0.7"/>
<line x1="588.6" y1="540" x2="679.6" y2="540" stroke="#ebebeb" stroke-width="0.7"/>
<line x1="588.6" y1="555.8" x2="679.6" y2="555.8" stroke="#ebebeb" stroke-width="0.7"/>
<line x1="598.5" y1="511" x2="598.5" y2="566" stroke="#ebebeb" stroke-width="0.7"/>
<line x1="616" y1="511" x2="616" y2="566" stroke="#ebebeb" stroke-width="0.7"/>
<line x1="633.5" y1="511" x2="633.5" y2="566" stroke="#ebebeb" stroke-width="0.7"/>
<line x1="651" y1="511" x2="651" y2="566" stroke="#ebebeb" stroke-width="0.7"/>
<line x1="668.6" y1="511" x2="668.6" y2="566" stroke="#ebebeb" stroke-width="0.7"/>
<text x="585.8" y="527.6" font-size="8.2" text-anchor="end" fill="#4d4d4d">0.75</text>
<text x="585.8" y="542.9" font-size="8.2" text-anchor="end" fill="#4d4d4d">0.50</text>
<text x="585.8" y="558.7" font-size="8.2" text-anchor="end" fill="#4d4d4d">0.25</text>
<line x1="598.5" y1="522.1" x2="598.5" y2="564.1" stroke="#222" stroke-width="0.9"/>
<rect x="591.8" y="546.6" width="13.4" height="13.6" fill="#a99bcb" stroke="#222" stroke-width="0.95"/>
<line x1="591.8" y1="558" x2="605.2" y2="558" stroke="#111" stroke-width="1.7"/>
<line x1="616" y1="515.9" x2="616" y2="559.7" stroke="#222" stroke-width="0.9"/>
<rect x="609.3" y="523.6" width="13.4" height="14.2" fill="#f0877a" stroke="#222" stroke-width="0.95"/>
<line x1="609.3" y1="528" x2="622.7" y2="528" stroke="#111" stroke-width="1.7"/>
<line x1="633.5" y1="514.9" x2="633.5" y2="560.8" stroke="#222" stroke-width="0.9"/>
<rect x="626.8" y="529.5" width="13.4" height="21.5" fill="#d38cc4" stroke="#222" stroke-width="0.95"/>
<line x1="626.8" y1="542.2" x2="640.2" y2="542.2" stroke="#111" stroke-width="1.7"/>
<line x1="651" y1="518.1" x2="651" y2="563" stroke="#222" stroke-width="0.9"/>
<rect x="644.3" y="533.5" width="13.4" height="23" fill="#7cc27a" stroke="#222" stroke-width="0.95"/>
<line x1="644.3" y1="548.4" x2="657.7" y2="548.4" stroke="#111" stroke-width="1.7"/>
<line x1="668.6" y1="548.8" x2="668.6" y2="564.6" stroke="#222" stroke-width="0.9"/>
<rect x="661.9" y="552.1" width="13.4" height="7.2" fill="#6ccaf0" stroke="#222" stroke-width="0.95"/>
<line x1="661.9" y1="556.5" x2="675.3" y2="556.5" stroke="#111" stroke-width="1.7"/>
<path fill="none" stroke="#6a6a6a" stroke-width="4.1" stroke-linecap="round" d="M594.8 563.9h0M600.5 558h0M599.4 529.6h0M595.6 536.3h0M600.4 552h0M598.9 563.9h0M594.6 550.2h0M597 552.9h0M598.7 558.7h0M594.5 527.9h0M598.6 548.5h0M595.8 562.8h0M600.5 563.3h0M600.9 563.2h0M602.4 559.9h0M600.3 556.9h0"/>
<path fill="none" stroke="#a395c8" stroke-width="3.10" stroke-linecap="round" d="M594.8 563.9h0M600.5 558h0M599.4 529.6h0M595.6 536.3h0M600.4 552h0M598.9 563.9h0M594.6 550.2h0M597 552.9h0M598.7 558.7h0M594.5 527.9h0M598.6 548.5h0M595.8 562.8h0M600.5 563.3h0M600.9 563.2h0M602.4 559.9h0M600.3 556.9h0"/>
<path fill="none" stroke="#6a6a6a" stroke-width="4.1" stroke-linecap="round" d="M615.9 531.1h0M618.8 548.8h0M619.4 536.1h0M619.5 531.7h0M613.7 519.6h0M613.2 533.5h0M619.5 543.7h0M617.7 537.2h0M617.3 531h0M613.5 518.3h0M617 536.9h0M617.9 535.2h0M618.1 542h0M614.1 532.9h0M612.7 536h0M613.9 535.7h0"/>
<path fill="none" stroke="#ee8c7c" stroke-width="3.10" stroke-linecap="round" d="M615.9 531.1h0M618.8 548.8h0M619.4 536.1h0M619.5 531.7h0M613.7 519.6h0M613.2 533.5h0M619.5 543.7h0M617.7 537.2h0M617.3 531h0M613.5 518.3h0M617 536.9h0M617.9 535.2h0M618.1 542h0M614.1 532.9h0M612.7 536h0M613.9 535.7h0"/>
<path fill="none" stroke="#6a6a6a" stroke-width="4.1" stroke-linecap="round" d="M632.9 548.4h0M632.3 515.4h0M630 544h0M635.4 551.2h0M636.1 535h0M635.1 533.5h0M637.6 530.4h0M632.2 530.3h0M630.3 525.7h0M633.1 530.2h0M636.9 525.7h0M635.2 527.5h0M634.9 534.3h0M633.1 531.7h0M634.2 552.2h0M630.5 540.6h0"/>
<path fill="none" stroke="#d08cc0" stroke-width="3.10" stroke-linecap="round" d="M632.9 548.4h0M632.3 515.4h0M630 544h0M635.4 551.2h0M636.1 535h0M635.1 533.5h0M637.6 530.4h0M632.2 530.3h0M630.3 525.7h0M633.1 530.2h0M636.9 525.7h0M635.2 527.5h0M634.9 534.3h0M633.1 531.7h0M634.2 552.2h0M630.5 540.6h0"/>
<path fill="none" stroke="#6a6a6a" stroke-width="4.1" stroke-linecap="round" d="M651.9 558.2h0M651.5 533.9h0M647.1 534.8h0M652.1 535.7h0M654.6 556.1h0M650.5 558h0M652 547.1h0M649 561.1h0M646.8 545.6h0M647.7 542.9h0M647.6 521.8h0M648.6 538.8h0M649.4 544.2h0M654.4 521.4h0M650.4 561.2h0M647.2 546.9h0"/>
<path fill="none" stroke="#78bc76" stroke-width="3.10" stroke-linecap="round" d="M651.9 558.2h0M651.5 533.9h0M647.1 534.8h0M652.1 535.7h0M654.6 556.1h0M650.5 558h0M652 547.1h0M649 561.1h0M646.8 545.6h0M647.7 542.9h0M647.6 521.8h0M648.6 538.8h0M649.4 544.2h0M654.4 521.4h0M650.4 561.2h0M647.2 546.9h0"/>
<path fill="none" stroke="#6a6a6a" stroke-width="4.1" stroke-linecap="round" d="M665.9 555.9h0M667.5 557.9h0M669.5 558.7h0M667.5 559.2h0M665.2 557h0M670 558.2h0M667.8 555.4h0M669.3 553.6h0M667.5 554.1h0M670.7 559.7h0M667.7 556.2h0M667.7 557.5h0M665.1 553h0M672.5 562.7h0M669.9 548.9h0M668.6 551.2h0M667.7 524.5h0M668.3 529.5h0"/>
<path fill="none" stroke="#6cc4ea" stroke-width="3.10" stroke-linecap="round" d="M665.9 555.9h0M667.5 557.9h0M669.5 558.7h0M667.5 559.2h0M665.2 557h0M670 558.2h0M667.8 555.4h0M669.3 553.6h0M667.5 554.1h0M670.7 559.7h0M667.7 556.2h0M667.7 557.5h0M665.1 553h0M672.5 562.7h0M669.9 548.9h0M668.6 551.2h0M667.7 524.5h0M668.3 529.5h0"/>
<text x="601" y="517.3" font-size="9.6" text-anchor="middle" fill="#222">***<tspan font-size="5.5" dy="-4.5">#</tspan></text>
<text x="669.8" y="517.3" font-size="9.6" text-anchor="middle" fill="#222">***</text>
<text x="598.5" y="572.9" font-size="8.3" text-anchor="middle" fill="#4d4d4d">1</text>
<text x="616" y="572.9" font-size="8.3" text-anchor="middle" fill="#4d4d4d">2</text>
<text x="633.5" y="572.9" font-size="8.3" text-anchor="middle" fill="#4d4d4d">3</text>
<text x="651" y="572.9" font-size="8.3" text-anchor="middle" fill="#4d4d4d">4</text>
<text x="668.6" y="572.9" font-size="8.3" text-anchor="middle" fill="#4d4d4d">5</text>
<text x="563.2" y="540" font-size="9.6" text-anchor="middle" transform="rotate(-90 563.2 540)">DLCO</text>
<line x1="452.4" y1="594.7" x2="543.6" y2="594.7" stroke="#f5f5f5" stroke-width="0.5"/>
<line x1="452.4" y1="611.1" x2="543.6" y2="611.1" stroke="#f5f5f5" stroke-width="0.5"/>
<line x1="452.4" y1="627.5" x2="543.6" y2="627.5" stroke="#f5f5f5" stroke-width="0.5"/>
<line x1="452.4" y1="586.4" x2="543.6" y2="586.4" stroke="#ebebeb" stroke-width="0.7"/>
<line x1="452.4" y1="603" x2="543.6" y2="603" stroke="#ebebeb" stroke-width="0.7"/>
<line x1="452.4" y1="619.2" x2="543.6" y2="619.2" stroke="#ebebeb" stroke-width="0.7"/>
<line x1="452.4" y1="635.9" x2="543.6" y2="635.9" stroke="#ebebeb" stroke-width="0.7"/>
<line x1="462" y1="584" x2="462" y2="641" stroke="#ebebeb" stroke-width="0.7"/>
<line x1="479.7" y1="584" x2="479.7" y2="641" stroke="#ebebeb" stroke-width="0.7"/>
<line x1="497.3" y1="584" x2="497.3" y2="641" stroke="#ebebeb" stroke-width="0.7"/>
<line x1="515" y1="584" x2="515" y2="641" stroke="#ebebeb" stroke-width="0.7"/>
<line x1="532.6" y1="584" x2="532.6" y2="641" stroke="#ebebeb" stroke-width="0.7"/>
<text x="447.6" y="589.3" font-size="8.2" text-anchor="end" fill="#4d4d4d">10</text>
<text x="447.6" y="605.9" font-size="8.2" text-anchor="end" fill="#4d4d4d">5</text>
<text x="447.6" y="622.1" font-size="8.2" text-anchor="end" fill="#4d4d4d">0</text>
<text x="447.6" y="638.8" font-size="8.2" text-anchor="end" fill="#4d4d4d">−5</text>
<line x1="462" y1="587.7" x2="462" y2="618.4" stroke="#222" stroke-width="0.9"/>
<rect x="455.3" y="598" width="13.4" height="11.6" fill="#a99bcb" stroke="#222" stroke-width="0.95"/>
<line x1="455.3" y1="601.3" x2="468.7" y2="601.3" stroke="#111" stroke-width="1.7"/>
<line x1="479.7" y1="599.1" x2="479.7" y2="639" stroke="#222" stroke-width="0.9"/>
<rect x="473" y="610" width="13.4" height="28.5" fill="#f0877a" stroke="#222" stroke-width="0.95"/>
<line x1="473" y1="630.8" x2="486.4" y2="630.8" stroke="#111" stroke-width="1.7"/>
<line x1="497.3" y1="599.5" x2="497.3" y2="638.5" stroke="#222" stroke-width="0.9"/>
<rect x="490.6" y="607.4" width="13.4" height="26.7" fill="#d38cc4" stroke="#222" stroke-width="0.95"/>
<line x1="490.6" y1="626.5" x2="504" y2="626.5" stroke="#111" stroke-width="1.7"/>
<line x1="515" y1="593.6" x2="515" y2="638.5" stroke="#222" stroke-width="0.9"/>
<rect x="508.3" y="603.5" width="13.4" height="25.8" fill="#7cc27a" stroke="#222" stroke-width="0.95"/>
<line x1="508.3" y1="608.9" x2="521.7" y2="608.9" stroke="#111" stroke-width="1.7"/>
<line x1="532.6" y1="592.5" x2="532.6" y2="615.5" stroke="#222" stroke-width="0.9"/>
<rect x="525.9" y="594.7" width="13.4" height="12.7" fill="#6ccaf0" stroke="#222" stroke-width="0.95"/>
<line x1="525.9" y1="600.8" x2="539.3" y2="600.8" stroke="#111" stroke-width="1.7"/>
<path fill="none" stroke="#6a6a6a" stroke-width="4.1" stroke-linecap="round" d="M460.9 604.3h0M458.4 594.1h0M460 607.7h0M461.8 609.5h0M463.2 613.8h0M465.1 605.4h0M463.4 606.6h0M462.8 606.8h0M465.1 598.4h0M465.2 606.3h0M461.1 597.2h0M465.7 613.5h0M458.9 610.5h0M461.5 609.2h0M462.1 590.8h0M462.7 602.1h0M461.5 625h0M461.8 633h0M463.7 636h0"/>
<path fill="none" stroke="#a395c8" stroke-width="3.10" stroke-linecap="round" d="M460.9 604.3h0M458.4 594.1h0M460 607.7h0M461.8 609.5h0M463.2 613.8h0M465.1 605.4h0M463.4 606.6h0M462.8 606.8h0M465.1 598.4h0M465.2 606.3h0M461.1 597.2h0M465.7 613.5h0M458.9 610.5h0M461.5 609.2h0M462.1 590.8h0M462.7 602.1h0M461.5 625h0M461.8 633h0M463.7 636h0"/>
<path fill="none" stroke="#6a6a6a" stroke-width="4.1" stroke-linecap="round" d="M481.2 609h0M483.8 638.9h0M482.7 600.9h0M480.3 639h0M482.5 601.4h0M476 602.2h0M476.2 639h0M476.8 638.7h0M482.8 631.9h0M475.9 627.5h0M482.9 602.7h0M483.9 638.8h0M480.5 612.2h0M478.9 615.6h0M475.9 600.8h0M483.6 638.7h0"/>
<path fill="none" stroke="#ee8c7c" stroke-width="3.10" stroke-linecap="round" d="M481.2 609h0M483.8 638.9h0M482.7 600.9h0M480.3 639h0M482.5 601.4h0M476 602.2h0M476.2 639h0M476.8 638.7h0M482.8 631.9h0M475.9 627.5h0M482.9 602.7h0M483.9 638.8h0M480.5 612.2h0M478.9 615.6h0M475.9 600.8h0M483.6 638.7h0"/>
<path fill="none" stroke="#6a6a6a" stroke-width="4.1" stroke-linecap="round" d="M497 635.8h0M498.1 624.6h0M501 604.4h0M499.2 618.9h0M501.3 615.4h0M493.2 622h0M493.3 622.9h0M493.6 604.5h0M498.8 603.2h0M499.3 626.3h0M498.8 609h0M496.9 635.2h0M496.2 602h0M498.1 617.3h0M499.6 617.5h0M499.3 622.6h0"/>
<path fill="none" stroke="#d08cc0" stroke-width="3.10" stroke-linecap="round" d="M497 635.8h0M498.1 624.6h0M501 604.4h0M499.2 618.9h0M501.3 615.4h0M493.2 622h0M493.3 622.9h0M493.6 604.5h0M498.8 603.2h0M499.3 626.3h0M498.8 609h0M496.9 635.2h0M496.2 602h0M498.1 617.3h0M499.6 617.5h0M499.3 622.6h0"/>
<path fill="none" stroke="#6a6a6a" stroke-width="4.1" stroke-linecap="round" d="M517.6 609.2h0M514.5 608.3h0M513.5 594.6h0M514.5 625h0M513.6 630.9h0M514.6 602.4h0M515.2 606.6h0M517.8 624.3h0M517.6 610.7h0M513.7 601.6h0M517.5 611h0M514.3 612.4h0M518.5 614.1h0M518.7 603.6h0M514.4 638.4h0M512.7 637.8h0"/>
<path fill="none" stroke="#78bc76" stroke-width="3.10" stroke-linecap="round" d="M517.6 609.2h0M514.5 608.3h0M513.5 594.6h0M514.5 625h0M513.6 630.9h0M514.6 602.4h0M515.2 606.6h0M517.8 624.3h0M517.6 610.7h0M513.7 601.6h0M517.5 611h0M514.3 612.4h0M518.5 614.1h0M518.7 603.6h0M514.4 638.4h0M512.7 637.8h0"/>
<path fill="none" stroke="#6a6a6a" stroke-width="4.1" stroke-linecap="round" d="M534 594.3h0M531.3 598.4h0M533.3 595.6h0M528.8 605h0M536.2 613h0M533.2 614.7h0M529.8 604.2h0M532.8 603.1h0M533.5 606.6h0M535.6 597.9h0M531.4 604.6h0M535.3 601.5h0M536.1 604.8h0M528.5 614.1h0M528.8 594.4h0M532.8 598.1h0M529.6 622h0M529.9 628h0M530.4 636h0"/>
<path fill="none" stroke="#6cc4ea" stroke-width="3.10" stroke-linecap="round" d="M534 594.3h0M531.3 598.4h0M533.3 595.6h0M528.8 605h0M536.2 613h0M533.2 614.7h0M529.8 604.2h0M532.8 603.1h0M533.5 606.6h0M535.6 597.9h0M531.4 604.6h0M535.3 601.5h0M536.1 604.8h0M528.5 614.1h0M528.8 594.4h0M532.8 598.1h0M529.6 622h0M529.9 628h0M530.4 636h0"/>
<text x="463.2" y="589.9" font-size="9.6" text-anchor="middle" fill="#222">****</text>
<text x="533.8" y="589.9" font-size="9.6" text-anchor="middle" fill="#222">****</text>
<text x="462" y="647.3" font-size="8.3" text-anchor="middle" fill="#4d4d4d">1</text>
<text x="479.7" y="647.3" font-size="8.3" text-anchor="middle" fill="#4d4d4d">2</text>
<text x="497.3" y="647.3" font-size="8.3" text-anchor="middle" fill="#4d4d4d">3</text>
<text x="515" y="647.3" font-size="8.3" text-anchor="middle" fill="#4d4d4d">4</text>
<text x="532.6" y="647.3" font-size="8.3" text-anchor="middle" fill="#4d4d4d">5</text>
<text x="420" y="612" font-size="9.6" text-anchor="middle" transform="rotate(-90 420 612)">Dyspnea</text>
<line x1="588.6" y1="595.8" x2="679.6" y2="595.8" stroke="#f5f5f5" stroke-width="0.5"/>
<line x1="588.6" y1="607.7" x2="679.6" y2="607.7" stroke="#f5f5f5" stroke-width="0.5"/>
<line x1="588.6" y1="619.8" x2="679.6" y2="619.8" stroke="#f5f5f5" stroke-width="0.5"/>
<line x1="588.6" y1="631.8" x2="679.6" y2="631.8" stroke="#f5f5f5" stroke-width="0.5"/>
<line x1="588.6" y1="589.9" x2="679.6" y2="589.9" stroke="#ebebeb" stroke-width="0.7"/>
<line x1="588.6" y1="601.7" x2="679.6" y2="601.7" stroke="#ebebeb" stroke-width="0.7"/>
<line x1="588.6" y1="613.8" x2="679.6" y2="613.8" stroke="#ebebeb" stroke-width="0.7"/>
<line x1="588.6" y1="625.8" x2="679.6" y2="625.8" stroke="#ebebeb" stroke-width="0.7"/>
<line x1="588.6" y1="637.8" x2="679.6" y2="637.8" stroke="#ebebeb" stroke-width="0.7"/>
<line x1="598.5" y1="584" x2="598.5" y2="641" stroke="#ebebeb" stroke-width="0.7"/>
<line x1="616" y1="584" x2="616" y2="641" stroke="#ebebeb" stroke-width="0.7"/>
<line x1="633.5" y1="584" x2="633.5" y2="641" stroke="#ebebeb" stroke-width="0.7"/>
<line x1="651" y1="584" x2="651" y2="641" stroke="#ebebeb" stroke-width="0.7"/>
<line x1="668.6" y1="584" x2="668.6" y2="641" stroke="#ebebeb" stroke-width="0.7"/>
<text x="585.8" y="592.8" font-size="8.2" text-anchor="end" fill="#4d4d4d">7.5</text>
<text x="585.8" y="604.6" font-size="8.2" text-anchor="end" fill="#4d4d4d">5.0</text>
<text x="585.8" y="616.7" font-size="8.2" text-anchor="end" fill="#4d4d4d">2.5</text>
<text x="585.8" y="628.7" font-size="8.2" text-anchor="end" fill="#4d4d4d">0</text>
<text x="585.8" y="640.7" font-size="8.2" text-anchor="end" fill="#4d4d4d">−2.5</text>
<line x1="598.5" y1="607.8" x2="598.5" y2="637.4" stroke="#222" stroke-width="0.9"/>
<rect x="591.8" y="617.3" width="13.4" height="15.1" fill="#a99bcb" stroke="#222" stroke-width="0.95"/>
<line x1="591.8" y1="622.7" x2="605.2" y2="622.7" stroke="#111" stroke-width="1.7"/>
<line x1="616" y1="613.3" x2="616" y2="638.5" stroke="#222" stroke-width="0.9"/>
<rect x="609.3" y="625.4" width="13.4" height="10.9" fill="#f0877a" stroke="#222" stroke-width="0.95"/>
<line x1="609.3" y1="633" x2="622.7" y2="633" stroke="#111" stroke-width="1.7"/>
<line x1="633.5" y1="602.4" x2="633.5" y2="638.5" stroke="#222" stroke-width="0.9"/>
<rect x="626.8" y="616.2" width="13.4" height="17.9" fill="#d38cc4" stroke="#222" stroke-width="0.95"/>
<line x1="626.8" y1="628.6" x2="640.2" y2="628.6" stroke="#111" stroke-width="1.7"/>
<line x1="651" y1="603.5" x2="651" y2="638.5" stroke="#222" stroke-width="0.9"/>
<rect x="644.3" y="621.4" width="13.4" height="12.7" fill="#7cc27a" stroke="#222" stroke-width="0.95"/>
<line x1="644.3" y1="627.1" x2="657.7" y2="627.1" stroke="#111" stroke-width="1.7"/>
<line x1="668.6" y1="588.1" x2="668.6" y2="638.5" stroke="#222" stroke-width="0.9"/>
<rect x="661.9" y="606.7" width="13.4" height="23.5" fill="#6ccaf0" stroke="#222" stroke-width="0.95"/>
<line x1="661.9" y1="614" x2="675.3" y2="614" stroke="#111" stroke-width="1.7"/>
<path fill="none" stroke="#6a6a6a" stroke-width="4.1" stroke-linecap="round" d="M597.6 618.9h0M597.7 618.3h0M600.7 636.4h0M596.6 625.4h0M596.1 618.9h0M601.1 636.5h0M596.9 633.4h0M601.5 614.8h0M599.4 632.8h0M595.8 612.6h0M602.2 618.6h0M596.8 635.1h0M601.7 635.3h0M597.8 634.9h0M595.7 611.9h0M594.7 629.6h0"/>
<path fill="none" stroke="#a395c8" stroke-width="3.10" stroke-linecap="round" d="M597.6 618.9h0M597.7 618.3h0M600.7 636.4h0M596.6 625.4h0M596.1 618.9h0M601.1 636.5h0M596.9 633.4h0M601.5 614.8h0M599.4 632.8h0M595.8 612.6h0M602.2 618.6h0M596.8 635.1h0M601.7 635.3h0M597.8 634.9h0M595.7 611.9h0M594.7 629.6h0"/>
<path fill="none" stroke="#6a6a6a" stroke-width="4.1" stroke-linecap="round" d="M614.2 632.2h0M614.7 630.5h0M615.3 636.7h0M614.1 632.3h0M614.5 633.5h0M612.6 624.2h0M618.2 627.9h0M614.6 616.2h0M612.2 630.4h0M619.8 624.1h0M612 624.9h0M618.3 635.9h0M617 635.7h0M613.4 636.9h0M615 626.9h0M611.9 637h0M614.9 598h0"/>
<path fill="none" stroke="#ee8c7c" stroke-width="3.10" stroke-linecap="round" d="M614.2 632.2h0M614.7 630.5h0M615.3 636.7h0M614.1 632.3h0M614.5 633.5h0M612.6 624.2h0M618.2 627.9h0M614.6 616.2h0M612.2 630.4h0M619.8 624.1h0M612 624.9h0M618.3 635.9h0M617 635.7h0M613.4 636.9h0M615 626.9h0M611.9 637h0M614.9 598h0"/>
<path fill="none" stroke="#6a6a6a" stroke-width="4.1" stroke-linecap="round" d="M635.9 619.2h0M630.1 621.4h0M631 636h0M630.7 617.2h0M629.6 604.5h0M637.7 620.7h0M635.8 625.7h0M633.3 633.9h0M629.6 623.6h0M636.8 620.6h0M629.6 636.3h0M631 620.5h0M630.5 631.8h0M634 632.8h0M636.9 635.9h0M635.6 613.3h0"/>
<path fill="none" stroke="#d08cc0" stroke-width="3.10" stroke-linecap="round" d="M635.9 619.2h0M630.1 621.4h0M631 636h0M630.7 617.2h0M629.6 604.5h0M637.7 620.7h0M635.8 625.7h0M633.3 633.9h0M629.6 623.6h0M636.8 620.6h0M629.6 636.3h0M631 620.5h0M630.5 631.8h0M634 632.8h0M636.9 635.9h0M635.6 613.3h0"/>
<path fill="none" stroke="#6a6a6a" stroke-width="4.1" stroke-linecap="round" d="M648.6 622.6h0M654.6 638.1h0M653.5 629.7h0M651.2 618.1h0M649.1 615.8h0M647.4 638.3h0M652.4 638.3h0M647.9 632.8h0M647.3 637h0M651.6 629.5h0M648.6 620.1h0M646.9 633.1h0M653.6 634.6h0M651.4 619.2h0M652.4 635h0M653.3 632.7h0M651.3 598.5h0"/>
<path fill="none" stroke="#78bc76" stroke-width="3.10" stroke-linecap="round" d="M648.6 622.6h0M654.6 638.1h0M653.5 629.7h0M651.2 618.1h0M649.1 615.8h0M647.4 638.3h0M652.4 638.3h0M647.9 632.8h0M647.3 637h0M651.6 629.5h0M648.6 620.1h0M646.9 633.1h0M653.6 634.6h0M651.4 619.2h0M652.4 635h0M653.3 632.7h0M651.3 598.5h0"/>
<path fill="none" stroke="#6a6a6a" stroke-width="4.1" stroke-linecap="round" d="M664.6 619.1h0M668.5 620.7h0M665.6 635.2h0M668.8 624.7h0M671.4 626.4h0M667.6 619.5h0M666.4 593.9h0M665.2 629.4h0M671.8 621.3h0M671.6 616.9h0M671.8 589.3h0M671.4 613.8h0M665.8 625.5h0M665.7 631.7h0M669 614.7h0M664.4 636.1h0"/>
<path fill="none" stroke="#6cc4ea" stroke-width="3.10" stroke-linecap="round" d="M664.6 619.1h0M668.5 620.7h0M665.6 635.2h0M668.8 624.7h0M671.4 626.4h0M667.6 619.5h0M666.4 593.9h0M665.2 629.4h0M671.8 621.3h0M671.6 616.9h0M671.8 589.3h0M671.4 613.8h0M665.8 625.5h0M665.7 631.7h0M669 614.7h0M664.4 636.1h0"/>
<text x="669.8" y="589.9" font-size="9.6" text-anchor="middle" fill="#222">*</text>
<text x="598.5" y="647.3" font-size="8.3" text-anchor="middle" fill="#4d4d4d">1</text>
<text x="616" y="647.3" font-size="8.3" text-anchor="middle" fill="#4d4d4d">2</text>
<text x="633.5" y="647.3" font-size="8.3" text-anchor="middle" fill="#4d4d4d">3</text>
<text x="651" y="647.3" font-size="8.3" text-anchor="middle" fill="#4d4d4d">4</text>
<text x="668.6" y="647.3" font-size="8.3" text-anchor="middle" fill="#4d4d4d">5</text>
<text x="563.2" y="612.2" font-size="9.6" text-anchor="middle" transform="rotate(-90 563.2 612.2)">Exacerbations</text>
<line x1="452.4" y1="667.1" x2="543.6" y2="667.1" stroke="#f5f5f5" stroke-width="0.5"/>
<line x1="452.4" y1="680.6" x2="543.6" y2="680.6" stroke="#f5f5f5" stroke-width="0.5"/>
<line x1="452.4" y1="694" x2="543.6" y2="694" stroke="#f5f5f5" stroke-width="0.5"/>
<line x1="452.4" y1="707.5" x2="543.6" y2="707.5" stroke="#f5f5f5" stroke-width="0.5"/>
<line x1="452.4" y1="660.3" x2="543.6" y2="660.3" stroke="#ebebeb" stroke-width="0.7"/>
<line x1="452.4" y1="673.9" x2="543.6" y2="673.9" stroke="#ebebeb" stroke-width="0.7"/>
<line x1="452.4" y1="687.3" x2="543.6" y2="687.3" stroke="#ebebeb" stroke-width="0.7"/>
<line x1="452.4" y1="700.8" x2="543.6" y2="700.8" stroke="#ebebeb" stroke-width="0.7"/>
<line x1="462" y1="657" x2="462" y2="713" stroke="#ebebeb" stroke-width="0.7"/>
<line x1="479.7" y1="657" x2="479.7" y2="713" stroke="#ebebeb" stroke-width="0.7"/>
<line x1="497.3" y1="657" x2="497.3" y2="713" stroke="#ebebeb" stroke-width="0.7"/>
<line x1="515" y1="657" x2="515" y2="713" stroke="#ebebeb" stroke-width="0.7"/>
<line x1="532.6" y1="657" x2="532.6" y2="713" stroke="#ebebeb" stroke-width="0.7"/>
<text x="447.6" y="663.2" font-size="8.2" text-anchor="end" fill="#4d4d4d">120</text>
<text x="447.6" y="676.8" font-size="8.2" text-anchor="end" fill="#4d4d4d">90</text>
<text x="447.6" y="690.2" font-size="8.2" text-anchor="end" fill="#4d4d4d">60</text>
<text x="447.6" y="703.7" font-size="8.2" text-anchor="end" fill="#4d4d4d">30</text>
<line x1="462" y1="670.8" x2="462" y2="709.6" stroke="#222" stroke-width="0.9"/>
<rect x="455.3" y="686.6" width="13.4" height="18.6" fill="#a99bcb" stroke="#222" stroke-width="0.95"/>
<line x1="455.3" y1="701.5" x2="468.7" y2="701.5" stroke="#111" stroke-width="1.7"/>
<line x1="479.7" y1="661.4" x2="479.7" y2="710.7" stroke="#222" stroke-width="0.9"/>
<rect x="473" y="671.7" width="13.4" height="21.5" fill="#f0877a" stroke="#222" stroke-width="0.95"/>
<line x1="473" y1="678.3" x2="486.4" y2="678.3" stroke="#111" stroke-width="1.7"/>
<line x1="497.3" y1="666.9" x2="497.3" y2="704.1" stroke="#222" stroke-width="0.9"/>
<rect x="490.6" y="685.5" width="13.4" height="16.9" fill="#d38cc4" stroke="#222" stroke-width="0.95"/>
<line x1="490.6" y1="698" x2="504" y2="698" stroke="#111" stroke-width="1.7"/>
<line x1="515" y1="669.1" x2="515" y2="710.3" stroke="#222" stroke-width="0.9"/>
<rect x="508.3" y="685.5" width="13.4" height="20.4" fill="#7cc27a" stroke="#222" stroke-width="0.95"/>
<line x1="508.3" y1="700.2" x2="521.7" y2="700.2" stroke="#111" stroke-width="1.7"/>
<line x1="532.6" y1="681.8" x2="532.6" y2="709.6" stroke="#222" stroke-width="0.9"/>
<rect x="525.9" y="694.9" width="13.4" height="12.5" fill="#6ccaf0" stroke="#222" stroke-width="0.95"/>
<line x1="525.9" y1="704.1" x2="539.3" y2="704.1" stroke="#111" stroke-width="1.7"/>
<path fill="none" stroke="#6a6a6a" stroke-width="4.1" stroke-linecap="round" d="M464.5 682.5h0M465.5 708.5h0M465.7 695.3h0M458.8 685h0M462.4 691.2h0M459.6 671h0M464.2 703.6h0M459 701.4h0M457.8 672.8h0M459.6 706.1h0M460.2 709h0M463.5 707.6h0M463.6 704.1h0M460.3 709.1h0M459 689.7h0M462.9 692.2h0"/>
<path fill="none" stroke="#a395c8" stroke-width="3.10" stroke-linecap="round" d="M464.5 682.5h0M465.5 708.5h0M465.7 695.3h0M458.8 685h0M462.4 691.2h0M459.6 671h0M464.2 703.6h0M459 701.4h0M457.8 672.8h0M459.6 706.1h0M460.2 709h0M463.5 707.6h0M463.6 704.1h0M460.3 709.1h0M459 689.7h0M462.9 692.2h0"/>
<path fill="none" stroke="#6a6a6a" stroke-width="4.1" stroke-linecap="round" d="M478.3 686.3h0M479.5 689.3h0M481.4 682h0M475.7 692.7h0M475.7 670.1h0M480.4 665.2h0M477 672.7h0M481.8 696.6h0M478.4 709.7h0M482 683h0M482.2 687.8h0M483.4 693.8h0M480.6 679h0M483.3 699.1h0M478.2 678.4h0M476.8 673.4h0"/>
<path fill="none" stroke="#ee8c7c" stroke-width="3.10" stroke-linecap="round" d="M478.3 686.3h0M479.5 689.3h0M481.4 682h0M475.7 692.7h0M475.7 670.1h0M480.4 665.2h0M477 672.7h0M481.8 696.6h0M478.4 709.7h0M482 683h0M482.2 687.8h0M483.4 693.8h0M480.6 679h0M483.3 699.1h0M478.2 678.4h0M476.8 673.4h0"/>
<path fill="none" stroke="#6a6a6a" stroke-width="4.1" stroke-linecap="round" d="M494.5 685.4h0M497.6 702.2h0M498.1 689.5h0M496.6 703.2h0M493.4 701h0M494.2 699.7h0M498.4 684.6h0M496.8 668.9h0M495.6 699.8h0M500.3 702.4h0M497.2 703.2h0M495.5 675.8h0M496.3 688h0M498.4 704h0M493.8 691.2h0M500.4 698.7h0"/>
<path fill="none" stroke="#d08cc0" stroke-width="3.10" stroke-linecap="round" d="M494.5 685.4h0M497.6 702.2h0M498.1 689.5h0M496.6 703.2h0M493.4 701h0M494.2 699.7h0M498.4 684.6h0M496.8 668.9h0M495.6 699.8h0M500.3 702.4h0M497.2 703.2h0M495.5 675.8h0M496.3 688h0M498.4 704h0M493.8 691.2h0M500.4 698.7h0"/>
<path fill="none" stroke="#6a6a6a" stroke-width="4.1" stroke-linecap="round" d="M517.3 701.5h0M517.2 680h0M513.2 699.9h0M516.6 701.2h0M516.3 704.8h0M515.4 669.3h0M514.7 699.2h0M517.5 708.7h0M517 698.6h0M517.9 707.4h0M519 708.9h0M515.2 708.2h0M518.7 702.6h0M516.8 699.6h0M517.4 671.9h0M514.3 680h0"/>
<path fill="none" stroke="#78bc76" stroke-width="3.10" stroke-linecap="round" d="M517.3 701.5h0M517.2 680h0M513.2 699.9h0M516.6 701.2h0M516.3 704.8h0M515.4 669.3h0M514.7 699.2h0M517.5 708.7h0M517 698.6h0M517.9 707.4h0M519 708.9h0M515.2 708.2h0M518.7 702.6h0M516.8 699.6h0M517.4 671.9h0M514.3 680h0"/>
<path fill="none" stroke="#6a6a6a" stroke-width="4.1" stroke-linecap="round" d="M533.7 691.9h0M529.7 682.2h0M530.2 703h0M528.8 690.1h0M528.9 697.7h0M529.9 698.9h0M532.3 695.3h0M533.4 702.5h0M528.4 706.2h0M531.8 698.4h0M531.5 705.3h0M529.2 702.6h0M533.3 699.1h0M531.9 709.2h0M531.5 708.8h0M533.1 702.3h0"/>
<path fill="none" stroke="#6cc4ea" stroke-width="3.10" stroke-linecap="round" d="M533.7 691.9h0M529.7 682.2h0M530.2 703h0M528.8 690.1h0M528.9 697.7h0M529.9 698.9h0M532.3 695.3h0M533.4 702.5h0M528.4 706.2h0M531.8 698.4h0M531.5 705.3h0M529.2 702.6h0M533.3 699.1h0M531.9 709.2h0M531.5 708.8h0M533.1 702.3h0"/>
<text x="463.2" y="661.9" font-size="9.6" text-anchor="middle" fill="#222">*</text>
<text x="533.8" y="661.9" font-size="9.6" text-anchor="middle" fill="#222">***</text>
<text x="462" y="720.5" font-size="8.3" text-anchor="middle" fill="#4d4d4d">1</text>
<text x="479.7" y="720.5" font-size="8.3" text-anchor="middle" fill="#4d4d4d">2</text>
<text x="497.3" y="720.5" font-size="8.3" text-anchor="middle" fill="#4d4d4d">3</text>
<text x="515" y="720.5" font-size="8.3" text-anchor="middle" fill="#4d4d4d">4</text>
<text x="532.6" y="720.5" font-size="8.3" text-anchor="middle" fill="#4d4d4d">5</text>
<text x="420" y="686.8" font-size="9.6" text-anchor="middle" transform="rotate(-90 420 686.8)">FEV<tspan font-size="6" dy="2">1</tspan></text>
<line x1="588.6" y1="664.4" x2="679.6" y2="664.4" stroke="#f5f5f5" stroke-width="0.5"/>
<line x1="588.6" y1="680.4" x2="679.6" y2="680.4" stroke="#f5f5f5" stroke-width="0.5"/>
<line x1="588.6" y1="696.5" x2="679.6" y2="696.5" stroke="#f5f5f5" stroke-width="0.5"/>
<line x1="588.6" y1="712" x2="679.6" y2="712" stroke="#f5f5f5" stroke-width="0.5"/>
<line x1="588.6" y1="672.4" x2="679.6" y2="672.4" stroke="#ebebeb" stroke-width="0.7"/>
<line x1="588.6" y1="688.4" x2="679.6" y2="688.4" stroke="#ebebeb" stroke-width="0.7"/>
<line x1="588.6" y1="704.6" x2="679.6" y2="704.6" stroke="#ebebeb" stroke-width="0.7"/>
<line x1="598.5" y1="657" x2="598.5" y2="713" stroke="#ebebeb" stroke-width="0.7"/>
<line x1="616" y1="657" x2="616" y2="713" stroke="#ebebeb" stroke-width="0.7"/>
<line x1="633.5" y1="657" x2="633.5" y2="713" stroke="#ebebeb" stroke-width="0.7"/>
<line x1="651" y1="657" x2="651" y2="713" stroke="#ebebeb" stroke-width="0.7"/>
<line x1="668.6" y1="657" x2="668.6" y2="713" stroke="#ebebeb" stroke-width="0.7"/>
<text x="585.8" y="675.3" font-size="8.2" text-anchor="end" fill="#4d4d4d">0.75</text>
<text x="585.8" y="691.3" font-size="8.2" text-anchor="end" fill="#4d4d4d">0.50</text>
<text x="585.8" y="707.5" font-size="8.2" text-anchor="end" fill="#4d4d4d">0.25</text>
<line x1="598.5" y1="678.3" x2="598.5" y2="710.3" stroke="#222" stroke-width="0.9"/>
<rect x="591.8" y="688.8" width="13.4" height="12.7" fill="#a99bcb" stroke="#222" stroke-width="0.95"/>
<line x1="591.8" y1="697.1" x2="605.2" y2="697.1" stroke="#111" stroke-width="1.7"/>
<line x1="616" y1="665.8" x2="616" y2="706.7" stroke="#222" stroke-width="0.9"/>
<rect x="609.3" y="673" width="13.4" height="16.2" fill="#f0877a" stroke="#222" stroke-width="0.95"/>
<line x1="609.3" y1="678.3" x2="622.7" y2="678.3" stroke="#111" stroke-width="1.7"/>
<line x1="633.5" y1="665.1" x2="633.5" y2="704.1" stroke="#222" stroke-width="0.9"/>
<rect x="626.8" y="678.9" width="13.4" height="21.3" fill="#d38cc4" stroke="#222" stroke-width="0.95"/>
<line x1="626.8" y1="690.5" x2="640.2" y2="690.5" stroke="#111" stroke-width="1.7"/>
<line x1="651" y1="660.8" x2="651" y2="708.9" stroke="#222" stroke-width="0.9"/>
<rect x="644.3" y="678.9" width="13.4" height="25.2" fill="#7cc27a" stroke="#222" stroke-width="0.95"/>
<line x1="644.3" y1="693.2" x2="657.7" y2="693.2" stroke="#111" stroke-width="1.7"/>
<line x1="668.6" y1="684" x2="668.6" y2="710.3" stroke="#222" stroke-width="0.9"/>
<rect x="661.9" y="695.4" width="13.4" height="10.9" fill="#6ccaf0" stroke="#222" stroke-width="0.95"/>
<line x1="661.9" y1="701.5" x2="675.3" y2="701.5" stroke="#111" stroke-width="1.7"/>
<path fill="none" stroke="#6a6a6a" stroke-width="4.1" stroke-linecap="round" d="M598.4 686.9h0M599.9 688.8h0M597.4 698.4h0M601 681.2h0M598.8 682.6h0M599 680.3h0M601 703.8h0M597.1 687.2h0M601.1 699h0M596 690h0M602.3 681.4h0M599.8 680.4h0M601.9 700.6h0M600.2 697h0M594.5 710.1h0M596.9 696.4h0"/>
<path fill="none" stroke="#a395c8" stroke-width="3.10" stroke-linecap="round" d="M598.4 686.9h0M599.9 688.8h0M597.4 698.4h0M601 681.2h0M598.8 682.6h0M599 680.3h0M601 703.8h0M597.1 687.2h0M601.1 699h0M596 690h0M602.3 681.4h0M599.8 680.4h0M601.9 700.6h0M600.2 697h0M594.5 710.1h0M596.9 696.4h0"/>
<path fill="none" stroke="#6a6a6a" stroke-width="4.1" stroke-linecap="round" d="M619.2 666.4h0M617.4 674.9h0M615.9 676.2h0M619.1 676.4h0M618.3 665.9h0M619.4 678.4h0M615 668h0M620.2 675.1h0M618.1 679.9h0M613.9 688.9h0M617.4 704.8h0M618.8 697h0M615.8 669.5h0M612.5 668.7h0M615.9 667.7h0M612 667h0"/>
<path fill="none" stroke="#ee8c7c" stroke-width="3.10" stroke-linecap="round" d="M619.2 666.4h0M617.4 674.9h0M615.9 676.2h0M619.1 676.4h0M618.3 665.9h0M619.4 678.4h0M615 668h0M620.2 675.1h0M618.1 679.9h0M613.9 688.9h0M617.4 704.8h0M618.8 697h0M615.8 669.5h0M612.5 668.7h0M615.9 667.7h0M612 667h0"/>
<path fill="none" stroke="#6a6a6a" stroke-width="4.1" stroke-linecap="round" d="M632.3 691.5h0M637.1 688.5h0M636.7 687.6h0M633.3 668.8h0M632.5 681.9h0M632 696h0M637.1 678.5h0M632 691.7h0M636 689.3h0M629.4 701.3h0M629.6 680.1h0M635.3 666.6h0M636.5 698.9h0M637.3 683h0M635.9 670.9h0M633.2 702.1h0"/>
<path fill="none" stroke="#d08cc0" stroke-width="3.10" stroke-linecap="round" d="M632.3 691.5h0M637.1 688.5h0M636.7 687.6h0M633.3 668.8h0M632.5 681.9h0M632 696h0M637.1 678.5h0M632 691.7h0M636 689.3h0M629.4 701.3h0M629.6 680.1h0M635.3 666.6h0M636.5 698.9h0M637.3 683h0M635.9 670.9h0M633.2 702.1h0"/>
<path fill="none" stroke="#6a6a6a" stroke-width="4.1" stroke-linecap="round" d="M648 688h0M648 671.8h0M647.7 662.6h0M654.4 669.2h0M647.9 673.5h0M652 704.5h0M654.3 708.5h0M653.4 696.4h0M654.4 702.7h0M650.6 698.5h0M647.3 696.9h0M649.2 708.8h0M654 704.5h0M650.4 703.2h0M647.5 704.3h0M651.3 707.2h0"/>
<path fill="none" stroke="#78bc76" stroke-width="3.10" stroke-linecap="round" d="M648 688h0M648 671.8h0M647.7 662.6h0M654.4 669.2h0M647.9 673.5h0M652 704.5h0M654.3 708.5h0M653.4 696.4h0M654.4 702.7h0M650.6 698.5h0M647.3 696.9h0M649.2 708.8h0M654 704.5h0M650.4 703.2h0M647.5 704.3h0M651.3 707.2h0"/>
<path fill="none" stroke="#6a6a6a" stroke-width="4.1" stroke-linecap="round" d="M667.5 697.3h0M670.8 706.2h0M667.3 709.1h0M665.4 703.4h0M668.6 700.5h0M668.8 696.2h0M665.7 701.1h0M669.2 697h0M666.3 697.8h0M667.9 694.4h0M666.4 698.8h0M669.2 693h0M667.6 698.9h0M672.8 699.7h0M670.4 691.5h0M667.5 693.2h0"/>
<path fill="none" stroke="#6cc4ea" stroke-width="3.10" stroke-linecap="round" d="M667.5 697.3h0M670.8 706.2h0M667.3 709.1h0M665.4 703.4h0M668.6 700.5h0M668.8 696.2h0M665.7 701.1h0M669.2 697h0M666.3 697.8h0M667.9 694.4h0M666.4 698.8h0M669.2 693h0M667.6 698.9h0M672.8 699.7h0M670.4 691.5h0M667.5 693.2h0"/>
<text x="652.2" y="661.9" font-size="9.6" text-anchor="middle" fill="#222">*</text>
<text x="671.1" y="661.9" font-size="9.6" text-anchor="middle" fill="#222">***<tspan font-size="5.5" dy="-4.5">#</tspan></text>
<text x="598.5" y="720.5" font-size="8.3" text-anchor="middle" fill="#4d4d4d">1</text>
<text x="616" y="720.5" font-size="8.3" text-anchor="middle" fill="#4d4d4d">2</text>
<text x="633.5" y="720.5" font-size="8.3" text-anchor="middle" fill="#4d4d4d">3</text>
<text x="651" y="720.5" font-size="8.3" text-anchor="middle" fill="#4d4d4d">4</text>
<text x="668.6" y="720.5" font-size="8.3" text-anchor="middle" fill="#4d4d4d">5</text>
<text x="563.2" y="682.3" font-size="9.6" text-anchor="middle" transform="rotate(-90 563.2 682.3)">FEV<tspan font-size="6" dy="2">1</tspan><tspan dy="-2">/FVC</tspan></text>
<line x1="452.4" y1="747" x2="543.6" y2="747" stroke="#f5f5f5" stroke-width="0.5"/>
<line x1="452.4" y1="753" x2="543.6" y2="753" stroke="#f5f5f5" stroke-width="0.5"/>
<line x1="452.4" y1="769.5" x2="543.6" y2="769.5" stroke="#f5f5f5" stroke-width="0.5"/>
<line x1="452.4" y1="775.5" x2="543.6" y2="775.5" stroke="#f5f5f5" stroke-width="0.5"/>
<line x1="452.4" y1="739.7" x2="543.6" y2="739.7" stroke="#ebebeb" stroke-width="0.7"/>
<line x1="452.4" y1="762" x2="543.6" y2="762" stroke="#ebebeb" stroke-width="0.7"/>
<line x1="452.4" y1="785" x2="543.6" y2="785" stroke="#ebebeb" stroke-width="0.7"/>
<line x1="462" y1="733" x2="462" y2="789" stroke="#ebebeb" stroke-width="0.7"/>
<line x1="479.7" y1="733" x2="479.7" y2="789" stroke="#ebebeb" stroke-width="0.7"/>
<line x1="497.3" y1="733" x2="497.3" y2="789" stroke="#ebebeb" stroke-width="0.7"/>
<line x1="515" y1="733" x2="515" y2="789" stroke="#ebebeb" stroke-width="0.7"/>
<line x1="532.6" y1="733" x2="532.6" y2="789" stroke="#ebebeb" stroke-width="0.7"/>
<text x="447.6" y="742.6" font-size="8.2" text-anchor="end" fill="#4d4d4d">1,000</text>
<text x="447.6" y="764.9" font-size="8.2" text-anchor="end" fill="#4d4d4d">100</text>
<text x="447.6" y="787.9" font-size="8.2" text-anchor="end" fill="#4d4d4d">10</text>
<line x1="462" y1="741.5" x2="462" y2="766.4" stroke="#222" stroke-width="0.9"/>
<rect x="455.3" y="751.1" width="13.4" height="9.4" fill="#a99bcb" stroke="#222" stroke-width="0.95"/>
<line x1="455.3" y1="753.9" x2="468.7" y2="753.9" stroke="#111" stroke-width="1.7"/>
<line x1="479.7" y1="748.5" x2="479.7" y2="766.4" stroke="#222" stroke-width="0.9"/>
<rect x="473" y="754.6" width="13.4" height="7.4" fill="#f0877a" stroke="#222" stroke-width="0.95"/>
<line x1="473" y1="756.8" x2="486.4" y2="756.8" stroke="#111" stroke-width="1.7"/>
<line x1="497.3" y1="749.6" x2="497.3" y2="774.7" stroke="#222" stroke-width="0.9"/>
<rect x="490.6" y="755.5" width="13.4" height="9.4" fill="#d38cc4" stroke="#222" stroke-width="0.95"/>
<line x1="490.6" y1="761.2" x2="504" y2="761.2" stroke="#111" stroke-width="1.7"/>
<line x1="515" y1="746.7" x2="515" y2="767.1" stroke="#222" stroke-width="0.9"/>
<rect x="508.3" y="752.4" width="13.4" height="9.2" fill="#7cc27a" stroke="#222" stroke-width="0.95"/>
<line x1="508.3" y1="755.5" x2="521.7" y2="755.5" stroke="#111" stroke-width="1.7"/>
<line x1="532.6" y1="741.9" x2="532.6" y2="764.9" stroke="#222" stroke-width="0.9"/>
<rect x="525.9" y="751.7" width="13.4" height="6.6" fill="#6ccaf0" stroke="#222" stroke-width="0.95"/>
<line x1="525.9" y1="753.3" x2="539.3" y2="753.3" stroke="#111" stroke-width="1.7"/>
<path fill="none" stroke="#6a6a6a" stroke-width="4.1" stroke-linecap="round" d="M463.3 752.5h0M460.9 756.1h0M458.1 755.9h0M458.6 751.8h0M458.8 758.9h0M465.8 757h0M466 745.3h0M460.2 759.2h0M460.4 752.2h0M462.7 761.6h0M462.4 745.1h0M459.5 751.7h0M460.4 745.6h0M460.3 745.9h0M459.9 748.2h0M465.2 746.5h0M460.6 787.5h0M461.7 736.5h0"/>
<path fill="none" stroke="#a395c8" stroke-width="3.10" stroke-linecap="round" d="M463.3 752.5h0M460.9 756.1h0M458.1 755.9h0M458.6 751.8h0M458.8 758.9h0M465.8 757h0M466 745.3h0M460.2 759.2h0M460.4 752.2h0M462.7 761.6h0M462.4 745.1h0M459.5 751.7h0M460.4 745.6h0M460.3 745.9h0M459.9 748.2h0M465.2 746.5h0M460.6 787.5h0M461.7 736.5h0"/>
<path fill="none" stroke="#6a6a6a" stroke-width="4.1" stroke-linecap="round" d="M483.7 750.3h0M481.9 757.7h0M475.8 758.2h0M480.3 753.2h0M481.3 763.4h0M479.3 752h0M479.5 766.2h0M481.4 748.9h0M482.4 754.6h0M481.1 757.5h0M476.9 758h0M482 755h0M478.8 756.4h0M479.3 762.4h0M482.4 761.1h0M479 763.2h0M479.2 786.5h0M477.5 787.8h0"/>
<path fill="none" stroke="#ee8c7c" stroke-width="3.10" stroke-linecap="round" d="M483.7 750.3h0M481.9 757.7h0M475.8 758.2h0M480.3 753.2h0M481.3 763.4h0M479.3 752h0M479.5 766.2h0M481.4 748.9h0M482.4 754.6h0M481.1 757.5h0M476.9 758h0M482 755h0M478.8 756.4h0M479.3 762.4h0M482.4 761.1h0M479 763.2h0M479.2 786.5h0M477.5 787.8h0"/>
<path fill="none" stroke="#6a6a6a" stroke-width="4.1" stroke-linecap="round" d="M501.1 763.8h0M495 757.2h0M498 760.1h0M496.6 755.5h0M501.1 760.8h0M498.3 752.6h0M500.7 749.9h0M499.8 754.8h0M494 759.3h0M493.7 750h0M496 757h0M494.4 755.5h0M493.3 758.9h0M494.3 770.9h0M496.2 758.8h0M501.4 763.5h0"/>
<path fill="none" stroke="#d08cc0" stroke-width="3.10" stroke-linecap="round" d="M501.1 763.8h0M495 757.2h0M498 760.1h0M496.6 755.5h0M501.1 760.8h0M498.3 752.6h0M500.7 749.9h0M499.8 754.8h0M494 759.3h0M493.7 750h0M496 757h0M494.4 755.5h0M493.3 758.9h0M494.3 770.9h0M496.2 758.8h0M501.4 763.5h0"/>
<path fill="none" stroke="#6a6a6a" stroke-width="4.1" stroke-linecap="round" d="M511.5 756.9h0M513 755.6h0M511 762.5h0M512 764.5h0M515.2 752.6h0M516.6 766.3h0M512.2 755.8h0M517.3 749.7h0M517.6 754.5h0M517.6 766.3h0M512.7 765.7h0M511 755.7h0M513 755h0M514.6 752.2h0M518.8 767h0M512.7 754.4h0M517.5 787.5h0"/>
<path fill="none" stroke="#78bc76" stroke-width="3.10" stroke-linecap="round" d="M511.5 756.9h0M513 755.6h0M511 762.5h0M512 764.5h0M515.2 752.6h0M516.6 766.3h0M512.2 755.8h0M517.3 749.7h0M517.6 754.5h0M517.6 766.3h0M512.7 765.7h0M511 755.7h0M513 755h0M514.6 752.2h0M518.8 767h0M512.7 754.4h0M517.5 787.5h0"/>
<path fill="none" stroke="#6a6a6a" stroke-width="4.1" stroke-linecap="round" d="M533.6 753h0M532.4 763.8h0M529.1 749.7h0M535 750.8h0M529.9 746.6h0M535.1 745.2h0M531.8 760.9h0M529.8 763.1h0M536 752.7h0M535.3 759.3h0M531.3 762.6h0M528.5 752.6h0M532.8 762.6h0M535.7 761.2h0M530.5 759.7h0M533.3 753.3h0M531.7 787.5h0"/>
<path fill="none" stroke="#6cc4ea" stroke-width="3.10" stroke-linecap="round" d="M533.6 753h0M532.4 763.8h0M529.1 749.7h0M535 750.8h0M529.9 746.6h0M535.1 745.2h0M531.8 760.9h0M529.8 763.1h0M536 752.7h0M535.3 759.3h0M531.3 762.6h0M528.5 752.6h0M532.8 762.6h0M535.7 761.2h0M530.5 759.7h0M533.3 753.3h0M531.7 787.5h0"/>
<text x="462" y="794.4" font-size="8.3" text-anchor="middle" fill="#4d4d4d">1</text>
<text x="479.7" y="794.4" font-size="8.3" text-anchor="middle" fill="#4d4d4d">2</text>
<text x="497.3" y="794.4" font-size="8.3" text-anchor="middle" fill="#4d4d4d">3</text>
<text x="515" y="794.4" font-size="8.3" text-anchor="middle" fill="#4d4d4d">4</text>
<text x="532.6" y="794.4" font-size="8.3" text-anchor="middle" fill="#4d4d4d">5</text>
<text x="420" y="760" font-size="9.6" text-anchor="middle" transform="rotate(-90 420 760)">Eosinophil</text>
<line x1="588.6" y1="735" x2="679.6" y2="735" stroke="#f5f5f5" stroke-width="0.5"/>
<line x1="588.6" y1="749" x2="679.6" y2="749" stroke="#f5f5f5" stroke-width="0.5"/>
<line x1="588.6" y1="763.5" x2="679.6" y2="763.5" stroke="#f5f5f5" stroke-width="0.5"/>
<line x1="588.6" y1="777.9" x2="679.6" y2="777.9" stroke="#f5f5f5" stroke-width="0.5"/>
<line x1="588.6" y1="741.9" x2="679.6" y2="741.9" stroke="#ebebeb" stroke-width="0.7"/>
<line x1="588.6" y1="756.1" x2="679.6" y2="756.1" stroke="#ebebeb" stroke-width="0.7"/>
<line x1="588.6" y1="770.8" x2="679.6" y2="770.8" stroke="#ebebeb" stroke-width="0.7"/>
<line x1="588.6" y1="785" x2="679.6" y2="785" stroke="#ebebeb" stroke-width="0.7"/>
<line x1="598.5" y1="733" x2="598.5" y2="789" stroke="#ebebeb" stroke-width="0.7"/>
<line x1="616" y1="733" x2="616" y2="789" stroke="#ebebeb" stroke-width="0.7"/>
<line x1="633.5" y1="733" x2="633.5" y2="789" stroke="#ebebeb" stroke-width="0.7"/>
<line x1="651" y1="733" x2="651" y2="789" stroke="#ebebeb" stroke-width="0.7"/>
<line x1="668.6" y1="733" x2="668.6" y2="789" stroke="#ebebeb" stroke-width="0.7"/>
<text x="585.8" y="744.8" font-size="8.2" text-anchor="end" fill="#4d4d4d">0.6</text>
<text x="585.8" y="759" font-size="8.2" text-anchor="end" fill="#4d4d4d">0.4</text>
<text x="585.8" y="773.7" font-size="8.2" text-anchor="end" fill="#4d4d4d">0.2</text>
<text x="585.8" y="787.9" font-size="8.2" text-anchor="end" fill="#4d4d4d">0</text>
<line x1="598.5" y1="744.1" x2="598.5" y2="785.3" stroke="#222" stroke-width="0.9"/>
<rect x="591.8" y="761.2" width="13.4" height="20.1" fill="#a99bcb" stroke="#222" stroke-width="0.95"/>
<line x1="591.8" y1="769.9" x2="605.2" y2="769.9" stroke="#111" stroke-width="1.7"/>
<line x1="616" y1="763.8" x2="616" y2="785.3" stroke="#222" stroke-width="0.9"/>
<rect x="609.3" y="776.5" width="13.4" height="5.9" fill="#f0877a" stroke="#222" stroke-width="0.95"/>
<line x1="609.3" y1="780.2" x2="622.7" y2="780.2" stroke="#111" stroke-width="1.7"/>
<line x1="633.5" y1="741.9" x2="633.5" y2="781.3" stroke="#222" stroke-width="0.9"/>
<rect x="626.8" y="751.3" width="13.4" height="29.6" fill="#d38cc4" stroke="#222" stroke-width="0.95"/>
<line x1="626.8" y1="759" x2="640.2" y2="759" stroke="#111" stroke-width="1.7"/>
<line x1="651" y1="735.8" x2="651" y2="785.3" stroke="#222" stroke-width="0.9"/>
<rect x="644.3" y="755" width="13.4" height="26.3" fill="#7cc27a" stroke="#222" stroke-width="0.95"/>
<line x1="644.3" y1="777.4" x2="657.7" y2="777.4" stroke="#111" stroke-width="1.7"/>
<line x1="668.6" y1="745.8" x2="668.6" y2="785.3" stroke="#222" stroke-width="0.9"/>
<rect x="661.9" y="753.3" width="13.4" height="17.1" fill="#6ccaf0" stroke="#222" stroke-width="0.95"/>
<line x1="661.9" y1="759.4" x2="675.3" y2="759.4" stroke="#111" stroke-width="1.7"/>
<path fill="none" stroke="#6a6a6a" stroke-width="4.1" stroke-linecap="round" d="M595.4 780.5h0M596.4 745.6h0M599.7 782.1h0M598.5 770.3h0M595.1 777.9h0M596.5 761.6h0M597.5 779.3h0M602.6 766.4h0M597.5 773.7h0M600.1 749.9h0M601.9 774.3h0M594.8 746.5h0M595.9 783.3h0M600.4 783.6h0M597.3 782.4h0M600.7 781.8h0"/>
<path fill="none" stroke="#a395c8" stroke-width="3.10" stroke-linecap="round" d="M595.4 780.5h0M596.4 745.6h0M599.7 782.1h0M598.5 770.3h0M595.1 777.9h0M596.5 761.6h0M597.5 779.3h0M602.6 766.4h0M597.5 773.7h0M600.1 749.9h0M601.9 774.3h0M594.8 746.5h0M595.9 783.3h0M600.4 783.6h0M597.3 782.4h0M600.7 781.8h0"/>
<path fill="none" stroke="#6a6a6a" stroke-width="4.1" stroke-linecap="round" d="M617.7 780.6h0M616 784.8h0M616.2 777.4h0M619.4 776.9h0M613.6 780.6h0M614.7 776.6h0M615 779h0M613.3 785h0M617.4 777.5h0M618.2 783h0M618.2 776.6h0M615.5 777.5h0M615.5 778.9h0M614.2 780h0M612.7 777h0M618.6 778.6h0"/>
<path fill="none" stroke="#ee8c7c" stroke-width="3.10" stroke-linecap="round" d="M617.7 780.6h0M616 784.8h0M616.2 777.4h0M619.4 776.9h0M613.6 780.6h0M614.7 776.6h0M615 779h0M613.3 785h0M617.4 777.5h0M618.2 783h0M618.2 776.6h0M615.5 777.5h0M615.5 778.9h0M614.2 780h0M612.7 777h0M618.6 778.6h0"/>
<path fill="none" stroke="#6a6a6a" stroke-width="4.1" stroke-linecap="round" d="M637.5 772.3h0M630.5 751.8h0M635.5 768.3h0M629.3 779.9h0M636.7 781h0M635.7 779.9h0M630.8 781.1h0M630 781.1h0M633.3 746.6h0M634.2 754.9h0M633 755h0M633.3 748.6h0M631.2 762h0M630.2 764.5h0M634.4 748.6h0M632.9 762.1h0"/>
<path fill="none" stroke="#d08cc0" stroke-width="3.10" stroke-linecap="round" d="M637.5 772.3h0M630.5 751.8h0M635.5 768.3h0M629.3 779.9h0M636.7 781h0M635.7 779.9h0M630.8 781.1h0M630 781.1h0M633.3 746.6h0M634.2 754.9h0M633 755h0M633.3 748.6h0M631.2 762h0M630.2 764.5h0M634.4 748.6h0M632.9 762.1h0"/>
<path fill="none" stroke="#6a6a6a" stroke-width="4.1" stroke-linecap="round" d="M653.1 780.5h0M648.5 773.5h0M653 768.8h0M652 735.9h0M654.6 784.3h0M649.3 782.2h0M649.9 780.7h0M651.1 784.7h0M653.4 754.2h0M648.4 777.2h0M653.9 780.2h0M651.9 762.6h0M654.7 784h0M651.9 751.6h0M650.9 766.2h0M649.1 777h0"/>
<path fill="none" stroke="#78bc76" stroke-width="3.10" stroke-linecap="round" d="M653.1 780.5h0M648.5 773.5h0M653 768.8h0M652 735.9h0M654.6 784.3h0M649.3 782.2h0M649.9 780.7h0M651.1 784.7h0M653.4 754.2h0M648.4 777.2h0M653.9 780.2h0M651.9 762.6h0M654.7 784h0M651.9 751.6h0M650.9 766.2h0M649.1 777h0"/>
<path fill="none" stroke="#6a6a6a" stroke-width="4.1" stroke-linecap="round" d="M666.7 765.8h0M671.4 755.3h0M671.2 758.3h0M671.9 758h0M672.5 759.5h0M666.5 751.4h0M671.4 779.3h0M671.1 766.7h0M671 764.5h0M671 784.1h0M670.2 763.7h0M671.7 761.2h0M665.2 784.2h0M669.9 752.3h0M672.1 754h0M667.5 780.1h0"/>
<path fill="none" stroke="#6cc4ea" stroke-width="3.10" stroke-linecap="round" d="M666.7 765.8h0M671.4 755.3h0M671.2 758.3h0M671.9 758h0M672.5 759.5h0M666.5 751.4h0M671.4 779.3h0M671.1 766.7h0M671 764.5h0M671 784.1h0M670.2 763.7h0M671.7 761.2h0M665.2 784.2h0M669.9 752.3h0M672.1 754h0M667.5 780.1h0"/>
<text x="634.7" y="736.8" font-size="9.6" text-anchor="middle" fill="#222">*</text>
<text x="669.8" y="736.8" font-size="9.6" text-anchor="middle" fill="#222">*</text>
<text x="598.5" y="794.4" font-size="8.3" text-anchor="middle" fill="#4d4d4d">1</text>
<text x="616" y="794.4" font-size="8.3" text-anchor="middle" fill="#4d4d4d">2</text>
<text x="633.5" y="794.4" font-size="8.3" text-anchor="middle" fill="#4d4d4d">3</text>
<text x="651" y="794.4" font-size="8.3" text-anchor="middle" fill="#4d4d4d">4</text>
<text x="668.6" y="794.4" font-size="8.3" text-anchor="middle" fill="#4d4d4d">5</text>
<text x="563.2" y="759.3" font-size="9.6" text-anchor="middle" transform="rotate(-90 563.2 759.3)">Lobe emphysema</text>
<line x1="452.4" y1="813.6" x2="543.6" y2="813.6" stroke="#f5f5f5" stroke-width="0.5"/>
<line x1="452.4" y1="826.8" x2="543.6" y2="826.8" stroke="#f5f5f5" stroke-width="0.5"/>
<line x1="452.4" y1="839.9" x2="543.6" y2="839.9" stroke="#f5f5f5" stroke-width="0.5"/>
<line x1="452.4" y1="853" x2="543.6" y2="853" stroke="#f5f5f5" stroke-width="0.5"/>
<line x1="452.4" y1="820.2" x2="543.6" y2="820.2" stroke="#ebebeb" stroke-width="0.7"/>
<line x1="452.4" y1="833.3" x2="543.6" y2="833.3" stroke="#ebebeb" stroke-width="0.7"/>
<line x1="452.4" y1="846.5" x2="543.6" y2="846.5" stroke="#ebebeb" stroke-width="0.7"/>
<line x1="452.4" y1="859.6" x2="543.6" y2="859.6" stroke="#ebebeb" stroke-width="0.7"/>
<line x1="462" y1="808" x2="462" y2="862.5" stroke="#ebebeb" stroke-width="0.7"/>
<line x1="479.7" y1="808" x2="479.7" y2="862.5" stroke="#ebebeb" stroke-width="0.7"/>
<line x1="497.3" y1="808" x2="497.3" y2="862.5" stroke="#ebebeb" stroke-width="0.7"/>
<line x1="515" y1="808" x2="515" y2="862.5" stroke="#ebebeb" stroke-width="0.7"/>
<line x1="532.6" y1="808" x2="532.6" y2="862.5" stroke="#ebebeb" stroke-width="0.7"/>
<text x="447.6" y="823.1" font-size="8.2" text-anchor="end" fill="#4d4d4d">75</text>
<text x="447.6" y="836.2" font-size="8.2" text-anchor="end" fill="#4d4d4d">50</text>
<text x="447.6" y="849.4" font-size="8.2" text-anchor="end" fill="#4d4d4d">25</text>
<text x="447.6" y="862.5" font-size="8.2" text-anchor="end" fill="#4d4d4d">0</text>
<line x1="462" y1="813.6" x2="462" y2="859.6" stroke="#222" stroke-width="0.9"/>
<rect x="455.3" y="822.4" width="13.4" height="22.5" fill="#a99bcb" stroke="#222" stroke-width="0.95"/>
<line x1="455.3" y1="833.3" x2="468.7" y2="833.3" stroke="#111" stroke-width="1.7"/>
<line x1="479.7" y1="830" x2="479.7" y2="860.3" stroke="#222" stroke-width="0.9"/>
<rect x="473" y="841.4" width="13.4" height="13.8" fill="#f0877a" stroke="#222" stroke-width="0.95"/>
<line x1="473" y1="851.5" x2="486.4" y2="851.5" stroke="#111" stroke-width="1.7"/>
<line x1="497.3" y1="815.1" x2="497.3" y2="860.3" stroke="#222" stroke-width="0.9"/>
<rect x="490.6" y="831.8" width="13.4" height="28.5" fill="#d38cc4" stroke="#222" stroke-width="0.95"/>
<line x1="490.6" y1="848.6" x2="504" y2="848.6" stroke="#111" stroke-width="1.7"/>
<line x1="515" y1="813.6" x2="515" y2="860.3" stroke="#222" stroke-width="0.9"/>
<rect x="508.3" y="825.2" width="13.4" height="24.1" fill="#7cc27a" stroke="#222" stroke-width="0.95"/>
<line x1="508.3" y1="839.2" x2="521.7" y2="839.2" stroke="#111" stroke-width="1.7"/>
<line x1="532.6" y1="811.4" x2="532.6" y2="853" stroke="#222" stroke-width="0.9"/>
<rect x="525.9" y="821.7" width="13.4" height="16" fill="#6ccaf0" stroke="#222" stroke-width="0.95"/>
<line x1="525.9" y1="827.8" x2="539.3" y2="827.8" stroke="#111" stroke-width="1.7"/>
<path fill="none" stroke="#6a6a6a" stroke-width="4.1" stroke-linecap="round" d="M459 830.8h0M462 845h0M462.5 846.1h0M461 814h0M463.9 817.6h0M458.7 827.8h0M462.8 843.2h0M464.1 817h0M463.5 829h0M458.5 817.3h0M460.2 827.1h0M465.2 847.8h0M461 845.7h0M461.4 822.9h0M462.8 846.5h0M465.3 835.4h0"/>
<path fill="none" stroke="#a395c8" stroke-width="3.10" stroke-linecap="round" d="M459 830.8h0M462 845h0M462.5 846.1h0M461 814h0M463.9 817.6h0M458.7 827.8h0M462.8 843.2h0M464.1 817h0M463.5 829h0M458.5 817.3h0M460.2 827.1h0M465.2 847.8h0M461 845.7h0M461.4 822.9h0M462.8 846.5h0M465.3 835.4h0"/>
<path fill="none" stroke="#6a6a6a" stroke-width="4.1" stroke-linecap="round" d="M476.2 841.5h0M476.2 841.6h0M479 854.1h0M476.3 850.2h0M480.6 832h0M480.2 855.5h0M477.8 831.7h0M476.5 860.3h0M477.5 840.8h0M478.6 830.5h0M482 836.7h0M482.8 846.2h0M478.9 835.1h0M475.7 858.1h0M479.1 833.7h0M478.2 847.5h0"/>
<path fill="none" stroke="#ee8c7c" stroke-width="3.10" stroke-linecap="round" d="M476.2 841.5h0M476.2 841.6h0M479 854.1h0M476.3 850.2h0M480.6 832h0M480.2 855.5h0M477.8 831.7h0M476.5 860.3h0M477.5 840.8h0M478.6 830.5h0M482 836.7h0M482.8 846.2h0M478.9 835.1h0M475.7 858.1h0M479.1 833.7h0M478.2 847.5h0"/>
<path fill="none" stroke="#6a6a6a" stroke-width="4.1" stroke-linecap="round" d="M494 849.7h0M499.7 815.5h0M499.1 860.3h0M496.7 852.8h0M496.5 859.3h0M496.2 856.3h0M500.2 818h0M501.3 833.2h0M501.4 858.8h0M493.6 815.3h0M498.2 842.9h0M494.3 860.3h0M493.8 817.4h0M493.7 826.7h0M499.5 851.9h0M494.5 857.1h0"/>
<path fill="none" stroke="#d08cc0" stroke-width="3.10" stroke-linecap="round" d="M494 849.7h0M499.7 815.5h0M499.1 860.3h0M496.7 852.8h0M496.5 859.3h0M496.2 856.3h0M500.2 818h0M501.3 833.2h0M501.4 858.8h0M493.6 815.3h0M498.2 842.9h0M494.3 860.3h0M493.8 817.4h0M493.7 826.7h0M499.5 851.9h0M494.5 857.1h0"/>
<path fill="none" stroke="#6a6a6a" stroke-width="4.1" stroke-linecap="round" d="M518.2 822.6h0M511.2 827.6h0M516.1 829.4h0M512.7 844h0M514.6 829.4h0M512.3 818.1h0M515.3 848h0M519.1 849.6h0M515.2 855.3h0M511.4 847.1h0M513.3 819.9h0M511.7 822h0M514.9 818.9h0M515.9 814.2h0M512.7 846.4h0M516 857.3h0"/>
<path fill="none" stroke="#78bc76" stroke-width="3.10" stroke-linecap="round" d="M518.2 822.6h0M511.2 827.6h0M516.1 829.4h0M512.7 844h0M514.6 829.4h0M512.3 818.1h0M515.3 848h0M519.1 849.6h0M515.2 855.3h0M511.4 847.1h0M513.3 819.9h0M511.7 822h0M514.9 818.9h0M515.9 814.2h0M512.7 846.4h0M516 857.3h0"/>
<path fill="none" stroke="#6a6a6a" stroke-width="4.1" stroke-linecap="round" d="M533.4 838.3h0M531.8 818.4h0M533.5 824.7h0M531.4 822.7h0M528.6 830.3h0M535 814.8h0M533.4 837h0M535.4 852.8h0M530.3 827.3h0M530.3 813.4h0M536.3 823.6h0M534.6 843.4h0M531.5 830.1h0M530.6 813.8h0M532.1 824.9h0M529.3 838h0"/>
<path fill="none" stroke="#6cc4ea" stroke-width="3.10" stroke-linecap="round" d="M533.4 838.3h0M531.8 818.4h0M533.5 824.7h0M531.4 822.7h0M528.6 830.3h0M535 814.8h0M533.4 837h0M535.4 852.8h0M530.3 827.3h0M530.3 813.4h0M536.3 823.6h0M534.6 843.4h0M531.5 830.1h0M530.6 813.8h0M532.1 824.9h0M529.3 838h0"/>
<text x="464.5" y="809.9" font-size="9.6" text-anchor="middle" fill="#222">***<tspan font-size="5.5" dy="-4.5">#</tspan></text>
<text x="535.1" y="809.9" font-size="9.6" text-anchor="middle" fill="#222">***<tspan font-size="5.5" dy="-4.5">#</tspan></text>
<text x="462" y="869.4" font-size="8.3" text-anchor="middle" fill="#4d4d4d">1</text>
<text x="479.7" y="869.4" font-size="8.3" text-anchor="middle" fill="#4d4d4d">2</text>
<text x="497.3" y="869.4" font-size="8.3" text-anchor="middle" fill="#4d4d4d">3</text>
<text x="515" y="869.4" font-size="8.3" text-anchor="middle" fill="#4d4d4d">4</text>
<text x="532.6" y="869.4" font-size="8.3" text-anchor="middle" fill="#4d4d4d">5</text>
<text x="420" y="834.4" font-size="9.6" text-anchor="middle" transform="rotate(-90 420 834.4)">Symptoms</text>
<line x1="588.6" y1="814.2" x2="679.6" y2="814.2" stroke="#f5f5f5" stroke-width="0.5"/>
<line x1="588.6" y1="828.4" x2="679.6" y2="828.4" stroke="#f5f5f5" stroke-width="0.5"/>
<line x1="588.6" y1="842.6" x2="679.6" y2="842.6" stroke="#f5f5f5" stroke-width="0.5"/>
<line x1="588.6" y1="856.8" x2="679.6" y2="856.8" stroke="#f5f5f5" stroke-width="0.5"/>
<line x1="588.6" y1="821.3" x2="679.6" y2="821.3" stroke="#ebebeb" stroke-width="0.7"/>
<line x1="588.6" y1="835.5" x2="679.6" y2="835.5" stroke="#ebebeb" stroke-width="0.7"/>
<line x1="588.6" y1="849.7" x2="679.6" y2="849.7" stroke="#ebebeb" stroke-width="0.7"/>
<line x1="598.5" y1="808" x2="598.5" y2="862.5" stroke="#ebebeb" stroke-width="0.7"/>
<line x1="616" y1="808" x2="616" y2="862.5" stroke="#ebebeb" stroke-width="0.7"/>
<line x1="633.5" y1="808" x2="633.5" y2="862.5" stroke="#ebebeb" stroke-width="0.7"/>
<line x1="651" y1="808" x2="651" y2="862.5" stroke="#ebebeb" stroke-width="0.7"/>
<line x1="668.6" y1="808" x2="668.6" y2="862.5" stroke="#ebebeb" stroke-width="0.7"/>
<text x="585.8" y="824.2" font-size="8.2" text-anchor="end" fill="#4d4d4d">5.0</text>
<text x="585.8" y="838.4" font-size="8.2" text-anchor="end" fill="#4d4d4d">2.5</text>
<text x="585.8" y="852.6" font-size="8.2" text-anchor="end" fill="#4d4d4d">0</text>
<line x1="598.5" y1="844.9" x2="598.5" y2="860.3" stroke="#222" stroke-width="0.9"/>
<rect x="591.8" y="848.2" width="13.4" height="11.4" fill="#a99bcb" stroke="#222" stroke-width="0.95"/>
<line x1="591.8" y1="854.6" x2="605.2" y2="854.6" stroke="#111" stroke-width="1.7"/>
<line x1="616" y1="858.9" x2="616" y2="860.3" stroke="#222" stroke-width="0.9"/>
<rect x="609.3" y="858.9" width="13.4" height="1.4" fill="#f0877a" stroke="#222" stroke-width="0.95"/>
<line x1="609.3" y1="859.6" x2="622.7" y2="859.6" stroke="#111" stroke-width="1.7"/>
<line x1="633.5" y1="847.6" x2="633.5" y2="860.3" stroke="#222" stroke-width="0.9"/>
<rect x="626.8" y="847.6" width="13.4" height="12.7" fill="#d38cc4" stroke="#222" stroke-width="0.95"/>
<line x1="626.8" y1="859.6" x2="640.2" y2="859.6" stroke="#111" stroke-width="1.7"/>
<line x1="651" y1="810.8" x2="651" y2="860.3" stroke="#222" stroke-width="0.9"/>
<rect x="644.3" y="838.4" width="13.4" height="21.9" fill="#7cc27a" stroke="#222" stroke-width="0.95"/>
<line x1="644.3" y1="856.7" x2="657.7" y2="856.7" stroke="#111" stroke-width="1.7"/>
<line x1="668.6" y1="812.5" x2="668.6" y2="860.3" stroke="#222" stroke-width="0.9"/>
<rect x="661.9" y="822.4" width="13.4" height="31.7" fill="#6ccaf0" stroke="#222" stroke-width="0.95"/>
<line x1="661.9" y1="842.7" x2="675.3" y2="842.7" stroke="#111" stroke-width="1.7"/>
<path fill="none" stroke="#6a6a6a" stroke-width="4.1" stroke-linecap="round" d="M599.2 846.3h0M601.2 857.5h0M598.7 845.4h0M602.3 851h0M601.5 859.6h0M596.7 846.2h0M600.1 846.4h0M600.7 845.3h0M599.5 860.3h0M595.4 848.2h0M597.4 859.8h0M598.9 859.8h0M599.2 848.9h0M596.2 859.7h0M598.5 848.6h0M598.8 860.1h0M601 829.5h0"/>
<path fill="none" stroke="#a395c8" stroke-width="3.10" stroke-linecap="round" d="M599.2 846.3h0M601.2 857.5h0M598.7 845.4h0M602.3 851h0M601.5 859.6h0M596.7 846.2h0M600.1 846.4h0M600.7 845.3h0M599.5 860.3h0M595.4 848.2h0M597.4 859.8h0M598.9 859.8h0M599.2 848.9h0M596.2 859.7h0M598.5 848.6h0M598.8 860.1h0M601 829.5h0"/>
<path fill="none" stroke="#6a6a6a" stroke-width="4.1" stroke-linecap="round" d="M616.6 860.3h0M612.7 859.7h0M613.2 858.9h0M615.4 860.3h0M614.1 859.2h0M612.8 858.9h0M617.2 859.1h0M615.8 860.3h0M611.8 859.5h0M614.5 858.9h0M616.7 859.5h0M617.5 860.1h0M619.4 859.6h0M612.3 859.7h0M615.2 859.5h0M616.3 859.7h0M616.1 824h0M615.1 837h0"/>
<path fill="none" stroke="#ee8c7c" stroke-width="3.10" stroke-linecap="round" d="M616.6 860.3h0M612.7 859.7h0M613.2 858.9h0M615.4 860.3h0M614.1 859.2h0M612.8 858.9h0M617.2 859.1h0M615.8 860.3h0M611.8 859.5h0M614.5 858.9h0M616.7 859.5h0M617.5 860.1h0M619.4 859.6h0M612.3 859.7h0M615.2 859.5h0M616.3 859.7h0M616.1 824h0M615.1 837h0"/>
<path fill="none" stroke="#6a6a6a" stroke-width="4.1" stroke-linecap="round" d="M633 849.7h0M629.6 860.3h0M629.7 854.4h0M633.1 849h0M633.2 860.3h0M633.1 854h0M635.2 847.6h0M636.9 855.8h0M634.5 850.6h0M634.2 847.6h0M636.1 860.3h0M636.5 860.3h0M629.7 847.6h0M637.4 860.3h0M634.9 860.3h0M637 855.2h0M632.9 813.5h0M634 818h0M632.6 824.5h0"/>
<path fill="none" stroke="#d08cc0" stroke-width="3.10" stroke-linecap="round" d="M633 849.7h0M629.6 860.3h0M629.7 854.4h0M633.1 849h0M633.2 860.3h0M633.1 854h0M635.2 847.6h0M636.9 855.8h0M634.5 850.6h0M634.2 847.6h0M636.1 860.3h0M636.5 860.3h0M629.7 847.6h0M637.4 860.3h0M634.9 860.3h0M637 855.2h0M632.9 813.5h0M634 818h0M632.6 824.5h0"/>
<path fill="none" stroke="#6a6a6a" stroke-width="4.1" stroke-linecap="round" d="M647.5 846.1h0M647.6 842.9h0M650.7 860.3h0M651.2 830h0M651.5 852.9h0M652.1 846.4h0M651.9 816.6h0M652.3 860.3h0M647.5 847.7h0M650.6 844h0M649.2 828.2h0M651.1 824.8h0M649.7 848.1h0M650.6 824.1h0M652.6 848.9h0M650.2 832.9h0"/>
<path fill="none" stroke="#78bc76" stroke-width="3.10" stroke-linecap="round" d="M647.5 846.1h0M647.6 842.9h0M650.7 860.3h0M651.2 830h0M651.5 852.9h0M652.1 846.4h0M651.9 816.6h0M652.3 860.3h0M647.5 847.7h0M650.6 844h0M649.2 828.2h0M651.1 824.8h0M649.7 848.1h0M650.6 824.1h0M652.6 848.9h0M650.2 832.9h0"/>
<path fill="none" stroke="#6a6a6a" stroke-width="4.1" stroke-linecap="round" d="M672.7 822.1h0M671.5 813.1h0M667.2 854.2h0M669.5 845.9h0M665.8 828.3h0M672.3 847.5h0M672.4 846h0M668.1 840.5h0M664.5 859.5h0M669.2 849.3h0M670.8 848.1h0M664.8 856.1h0M669.1 813h0M669.4 856.6h0M669.5 827.4h0M664.7 860.3h0"/>
<path fill="none" stroke="#6cc4ea" stroke-width="3.10" stroke-linecap="round" d="M672.7 822.1h0M671.5 813.1h0M667.2 854.2h0M669.5 845.9h0M665.8 828.3h0M672.3 847.5h0M672.4 846h0M668.1 840.5h0M664.5 859.5h0M669.2 849.3h0M670.8 848.1h0M664.8 856.1h0M669.1 813h0M669.4 856.6h0M669.5 827.4h0M664.7 860.3h0"/>
<text x="599.7" y="809.9" font-size="9.6" text-anchor="middle" fill="#222">*</text>
<text x="652.2" y="809.9" font-size="9.6" text-anchor="middle" fill="#222">*</text>
<text x="669.8" y="809.9" font-size="9.6" text-anchor="middle" fill="#222">****</text>
<text x="598.5" y="869.4" font-size="8.3" text-anchor="middle" fill="#4d4d4d">1</text>
<text x="616" y="869.4" font-size="8.3" text-anchor="middle" fill="#4d4d4d">2</text>
<text x="633.5" y="869.4" font-size="8.3" text-anchor="middle" fill="#4d4d4d">3</text>
<text x="651" y="869.4" font-size="8.3" text-anchor="middle" fill="#4d4d4d">4</text>
<text x="668.6" y="869.4" font-size="8.3" text-anchor="middle" fill="#4d4d4d">5</text>
<text x="563.2" y="834.4" font-size="9.6" text-anchor="middle" transform="rotate(-90 563.2 834.4)">Wheezing</text>
<text x="438" y="878.7" font-size="9">Clusters</text>
<line x1="445.2" y1="883.4" x2="445.2" y2="895.1" stroke="#333" stroke-width="0.6"/>
<rect x="438" y="884.9" width="14.4" height="8.7" fill="#a99bcb" stroke="#333" stroke-width="0.7"/>
<line x1="438" y1="889.25" x2="452.4" y2="889.25" stroke="#222" stroke-width="1"/>
<text x="456.2" y="891.7" font-size="8">1—mixed</text>
<line x1="516.9" y1="883.4" x2="516.9" y2="895.1" stroke="#333" stroke-width="0.6"/>
<rect x="509.7" y="884.9" width="14.4" height="8.7" fill="#f0877a" stroke="#333" stroke-width="0.7"/>
<line x1="509.7" y1="889.25" x2="524.1" y2="889.25" stroke="#222" stroke-width="1"/>
<text x="527.9" y="891.7" font-size="8">2—healthy</text>
<line x1="596.2" y1="883.4" x2="596.2" y2="895.1" stroke="#333" stroke-width="0.6"/>
<rect x="589" y="884.9" width="14.4" height="8.7" fill="#d38cc4" stroke="#333" stroke-width="0.7"/>
<line x1="589" y1="889.25" x2="603.4" y2="889.25" stroke="#222" stroke-width="1"/>
<text x="607.5" y="891.7" font-size="8">3—goblet AM<tspan font-size="4.6" dy="1.6">NR4A</tspan></text>
<line x1="445.2" y1="899.9" x2="445.2" y2="911.6" stroke="#333" stroke-width="0.6"/>
<rect x="438" y="901.4" width="14.4" height="8.7" fill="#7cc27a" stroke="#333" stroke-width="0.7"/>
<line x1="438" y1="905.75" x2="452.4" y2="905.75" stroke="#222" stroke-width="1"/>
<text x="456.2" y="908.2" font-size="8">4—immune</text>
<line x1="516.9" y1="899.9" x2="516.9" y2="911.6" stroke="#333" stroke-width="0.6"/>
<rect x="509.7" y="901.4" width="14.4" height="8.7" fill="#6ccaf0" stroke="#333" stroke-width="0.7"/>
<line x1="509.7" y1="905.75" x2="524.1" y2="905.75" stroke="#222" stroke-width="1"/>
<text x="527.9" y="908.2" font-size="8">5—inflammatory</text>
</g>
</svg></body></html>
